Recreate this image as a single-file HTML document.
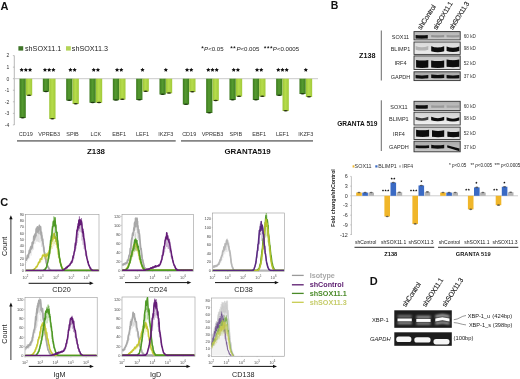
<!DOCTYPE html>
<html><head><meta charset="utf-8"><style>
html,body{margin:0;padding:0;background:#fff;width:520px;height:379px;overflow:hidden}
svg{display:block;filter:blur(0.3px)}
text{font-family:"Liberation Sans", sans-serif}
</style></head><body>
<svg width="520" height="379" viewBox="0 0 520 379">
<text x="0.40" y="9.60" font-size="11" text-anchor="start" font-weight="bold" fill="#111" >A</text>
<rect x="18.4" y="46.2" width="4.8" height="4.4" fill="#3f7528"/>
<text x="25.00" y="50.50" font-size="7.2" text-anchor="start" font-weight="normal" fill="#222" >shSOX11.1</text>
<rect x="66.0" y="46.2" width="4.8" height="4.4" fill="#b4d458"/>
<text x="71.80" y="50.50" font-size="7.2" text-anchor="start" font-weight="normal" fill="#222" >shSOX11.3</text>
<polygon points="202.50,45.95 202.93,46.81 203.88,46.95 203.19,47.62 203.35,48.57 202.50,48.12 201.65,48.57 201.81,47.62 201.12,46.95 202.07,46.81" fill="#222"/>
<text x="204.1" y="50.6" font-size="6.1" fill="#222"><tspan font-style="italic">P</tspan>&lt;0.05</text>
<polygon points="231.50,45.95 231.93,46.81 232.88,46.95 232.19,47.62 232.35,48.57 231.50,48.12 230.65,48.57 230.81,47.62 230.12,46.95 231.07,46.81" fill="#222"/>
<polygon points="234.40,45.95 234.83,46.81 235.78,46.95 235.09,47.62 235.25,48.57 234.40,48.12 233.55,48.57 233.71,47.62 233.02,46.95 233.97,46.81" fill="#222"/>
<text x="236.4" y="50.6" font-size="6.1" fill="#222"><tspan font-style="italic">P</tspan>&lt;0.005</text>
<polygon points="265.10,45.95 265.53,46.81 266.48,46.95 265.79,47.62 265.95,48.57 265.10,48.12 264.25,48.57 264.41,47.62 263.72,46.95 264.67,46.81" fill="#222"/>
<polygon points="268.20,45.95 268.63,46.81 269.58,46.95 268.89,47.62 269.05,48.57 268.20,48.12 267.35,48.57 267.51,47.62 266.82,46.95 267.77,46.81" fill="#222"/>
<polygon points="271.30,45.95 271.73,46.81 272.68,46.95 271.99,47.62 272.15,48.57 271.30,48.12 270.45,48.57 270.61,47.62 269.92,46.95 270.87,46.81" fill="#222"/>
<text x="272.8" y="50.6" font-size="6.1" fill="#222"><tspan font-style="italic">P</tspan>&lt;0.0005</text>
<line x1="14.3" y1="55.6" x2="14.3" y2="125" stroke="#999" stroke-width="0.7"/>
<line x1="12.9" y1="55.60" x2="14.3" y2="55.60" stroke="#999" stroke-width="0.6"/>
<text x="9.20" y="57.40" font-size="5" text-anchor="end" font-weight="normal" fill="#333" >2</text>
<line x1="12.9" y1="67.15" x2="14.3" y2="67.15" stroke="#999" stroke-width="0.6"/>
<text x="9.20" y="68.95" font-size="5" text-anchor="end" font-weight="normal" fill="#333" >1</text>
<line x1="12.9" y1="78.70" x2="14.3" y2="78.70" stroke="#999" stroke-width="0.6"/>
<text x="9.20" y="80.50" font-size="5" text-anchor="end" font-weight="normal" fill="#333" >0</text>
<line x1="12.9" y1="90.25" x2="14.3" y2="90.25" stroke="#999" stroke-width="0.6"/>
<text x="9.20" y="92.05" font-size="5" text-anchor="end" font-weight="normal" fill="#333" >-1</text>
<line x1="12.9" y1="101.80" x2="14.3" y2="101.80" stroke="#999" stroke-width="0.6"/>
<text x="9.20" y="103.60" font-size="5" text-anchor="end" font-weight="normal" fill="#333" >-2</text>
<line x1="12.9" y1="113.35" x2="14.3" y2="113.35" stroke="#999" stroke-width="0.6"/>
<text x="9.20" y="115.15" font-size="5" text-anchor="end" font-weight="normal" fill="#333" >-3</text>
<line x1="12.9" y1="124.90" x2="14.3" y2="124.90" stroke="#999" stroke-width="0.6"/>
<text x="9.20" y="126.70" font-size="5" text-anchor="end" font-weight="normal" fill="#333" >-4</text>
<line x1="14.3" y1="78.7" x2="318" y2="78.7" stroke="#c4c4c4" stroke-width="0.9"/>
<defs><linearGradient id="gd" x1="0" x2="1"><stop offset="0" stop-color="#3c7a1e"/><stop offset="0.45" stop-color="#559a30"/><stop offset="1" stop-color="#3f7e20"/></linearGradient><linearGradient id="gl" x1="0" x2="1"><stop offset="0" stop-color="#9cc636"/><stop offset="0.45" stop-color="#b6dc4c"/><stop offset="1" stop-color="#a2ca3a"/></linearGradient></defs>
<rect x="19.50" y="78.7" width="6.3" height="39.30" fill="url(#gd)"/>
<ellipse cx="22.65" cy="117.70" rx="2.2" ry="0.8" fill="#1e3a10"/>
<rect x="25.90" y="78.7" width="6.3" height="16.80" fill="url(#gl)"/>
<ellipse cx="29.05" cy="95.20" rx="2.2" ry="0.8" fill="#26300e"/>
<polygon points="21.65,67.65 22.31,68.99 23.79,69.20 22.72,70.25 22.97,71.72 21.65,71.03 20.33,71.72 20.58,70.25 19.51,69.20 20.99,68.99" fill="#111"/>
<polygon points="25.85,67.65 26.51,68.99 27.99,69.20 26.92,70.25 27.17,71.72 25.85,71.03 24.53,71.72 24.78,70.25 23.71,69.20 25.19,68.99" fill="#111"/>
<polygon points="30.05,67.65 30.71,68.99 32.19,69.20 31.12,70.25 31.37,71.72 30.05,71.03 28.73,71.72 28.98,70.25 27.91,69.20 29.39,68.99" fill="#111"/>
<text x="25.85" y="135.60" font-size="5.5" text-anchor="middle" font-weight="normal" fill="#333" >CD19</text>
<rect x="42.83" y="78.7" width="6.3" height="13.05" fill="url(#gd)"/>
<ellipse cx="45.98" cy="91.45" rx="2.2" ry="0.8" fill="#1e3a10"/>
<rect x="49.23" y="78.7" width="6.3" height="40.30" fill="url(#gl)"/>
<ellipse cx="52.38" cy="118.70" rx="2.2" ry="0.8" fill="#26300e"/>
<polygon points="44.98,67.65 45.64,68.99 47.12,69.20 46.05,70.25 46.30,71.72 44.98,71.03 43.66,71.72 43.91,70.25 42.84,69.20 44.32,68.99" fill="#111"/>
<polygon points="49.18,67.65 49.84,68.99 51.32,69.20 50.25,70.25 50.50,71.72 49.18,71.03 47.86,71.72 48.11,70.25 47.04,69.20 48.52,68.99" fill="#111"/>
<polygon points="53.38,67.65 54.04,68.99 55.52,69.20 54.45,70.25 54.70,71.72 53.38,71.03 52.06,71.72 52.31,70.25 51.24,69.20 52.72,68.99" fill="#111"/>
<text x="49.18" y="135.60" font-size="5.5" text-anchor="middle" font-weight="normal" fill="#333" >VPREB3</text>
<rect x="66.16" y="78.7" width="6.3" height="21.80" fill="url(#gd)"/>
<ellipse cx="69.31" cy="100.20" rx="2.2" ry="0.8" fill="#1e3a10"/>
<rect x="72.56" y="78.7" width="6.3" height="25.30" fill="url(#gl)"/>
<ellipse cx="75.71" cy="103.70" rx="2.2" ry="0.8" fill="#26300e"/>
<polygon points="70.41,67.65 71.07,68.99 72.55,69.20 71.48,70.25 71.73,71.72 70.41,71.03 69.09,71.72 69.34,70.25 68.27,69.20 69.75,68.99" fill="#111"/>
<polygon points="74.61,67.65 75.27,68.99 76.75,69.20 75.68,70.25 75.93,71.72 74.61,71.03 73.29,71.72 73.54,70.25 72.47,69.20 73.95,68.99" fill="#111"/>
<text x="72.51" y="135.60" font-size="5.5" text-anchor="middle" font-weight="normal" fill="#333" >SPIB</text>
<rect x="89.49" y="78.7" width="6.3" height="24.05" fill="url(#gd)"/>
<ellipse cx="92.64" cy="102.45" rx="2.2" ry="0.8" fill="#1e3a10"/>
<rect x="95.89" y="78.7" width="6.3" height="24.05" fill="url(#gl)"/>
<ellipse cx="99.04" cy="102.45" rx="2.2" ry="0.8" fill="#26300e"/>
<polygon points="93.74,67.65 94.40,68.99 95.88,69.20 94.81,70.25 95.06,71.72 93.74,71.03 92.42,71.72 92.67,70.25 91.60,69.20 93.08,68.99" fill="#111"/>
<polygon points="97.94,67.65 98.60,68.99 100.08,69.20 99.01,70.25 99.26,71.72 97.94,71.03 96.62,71.72 96.87,70.25 95.80,69.20 97.28,68.99" fill="#111"/>
<text x="95.84" y="135.60" font-size="5.5" text-anchor="middle" font-weight="normal" fill="#333" >LCK</text>
<rect x="112.82" y="78.7" width="6.3" height="21.55" fill="url(#gd)"/>
<ellipse cx="115.97" cy="99.95" rx="2.2" ry="0.8" fill="#1e3a10"/>
<rect x="119.22" y="78.7" width="6.3" height="20.80" fill="url(#gl)"/>
<ellipse cx="122.37" cy="99.20" rx="2.2" ry="0.8" fill="#26300e"/>
<polygon points="117.07,67.65 117.73,68.99 119.21,69.20 118.14,70.25 118.39,71.72 117.07,71.03 115.75,71.72 116.00,70.25 114.93,69.20 116.41,68.99" fill="#111"/>
<polygon points="121.27,67.65 121.93,68.99 123.41,69.20 122.34,70.25 122.59,71.72 121.27,71.03 119.95,71.72 120.20,70.25 119.13,69.20 120.61,68.99" fill="#111"/>
<text x="119.17" y="135.60" font-size="5.5" text-anchor="middle" font-weight="normal" fill="#333" >EBF1</text>
<rect x="136.15" y="78.7" width="6.3" height="21.30" fill="url(#gd)"/>
<ellipse cx="139.30" cy="99.70" rx="2.2" ry="0.8" fill="#1e3a10"/>
<rect x="142.55" y="78.7" width="6.3" height="12.80" fill="url(#gl)"/>
<ellipse cx="145.70" cy="91.20" rx="2.2" ry="0.8" fill="#26300e"/>
<polygon points="142.50,67.65 143.16,68.99 144.64,69.20 143.57,70.25 143.82,71.72 142.50,71.03 141.18,71.72 141.43,70.25 140.36,69.20 141.84,68.99" fill="#111"/>
<text x="142.50" y="135.60" font-size="5.5" text-anchor="middle" font-weight="normal" fill="#333" >LEF1</text>
<rect x="159.48" y="78.7" width="6.3" height="15.80" fill="url(#gd)"/>
<ellipse cx="162.63" cy="94.20" rx="2.2" ry="0.8" fill="#1e3a10"/>
<rect x="165.88" y="78.7" width="6.3" height="14.55" fill="url(#gl)"/>
<ellipse cx="169.03" cy="92.95" rx="2.2" ry="0.8" fill="#26300e"/>
<polygon points="165.83,67.65 166.49,68.99 167.97,69.20 166.90,70.25 167.15,71.72 165.83,71.03 164.51,71.72 164.76,70.25 163.69,69.20 165.17,68.99" fill="#111"/>
<text x="165.83" y="135.60" font-size="5.5" text-anchor="middle" font-weight="normal" fill="#333" >IKZF3</text>
<rect x="182.81" y="78.7" width="6.3" height="25.80" fill="url(#gd)"/>
<ellipse cx="185.96" cy="104.20" rx="2.2" ry="0.8" fill="#1e3a10"/>
<rect x="189.21" y="78.7" width="6.3" height="13.30" fill="url(#gl)"/>
<ellipse cx="192.36" cy="91.70" rx="2.2" ry="0.8" fill="#26300e"/>
<polygon points="187.06,67.65 187.72,68.99 189.20,69.20 188.13,70.25 188.38,71.72 187.06,71.03 185.74,71.72 185.99,70.25 184.92,69.20 186.40,68.99" fill="#111"/>
<polygon points="191.26,67.65 191.92,68.99 193.40,69.20 192.33,70.25 192.58,71.72 191.26,71.03 189.94,71.72 190.19,70.25 189.12,69.20 190.60,68.99" fill="#111"/>
<text x="189.16" y="135.60" font-size="5.5" text-anchor="middle" font-weight="normal" fill="#333" >CD19</text>
<rect x="206.14" y="78.7" width="6.3" height="34.30" fill="url(#gd)"/>
<ellipse cx="209.29" cy="112.70" rx="2.2" ry="0.8" fill="#1e3a10"/>
<rect x="212.54" y="78.7" width="6.3" height="22.05" fill="url(#gl)"/>
<ellipse cx="215.69" cy="100.45" rx="2.2" ry="0.8" fill="#26300e"/>
<polygon points="208.29,67.65 208.95,68.99 210.43,69.20 209.36,70.25 209.61,71.72 208.29,71.03 206.97,71.72 207.22,70.25 206.15,69.20 207.63,68.99" fill="#111"/>
<polygon points="212.49,67.65 213.15,68.99 214.63,69.20 213.56,70.25 213.81,71.72 212.49,71.03 211.17,71.72 211.42,70.25 210.35,69.20 211.83,68.99" fill="#111"/>
<polygon points="216.69,67.65 217.35,68.99 218.83,69.20 217.76,70.25 218.01,71.72 216.69,71.03 215.37,71.72 215.62,70.25 214.55,69.20 216.03,68.99" fill="#111"/>
<text x="212.49" y="135.60" font-size="5.5" text-anchor="middle" font-weight="normal" fill="#333" >VPREB3</text>
<rect x="229.47" y="78.7" width="6.3" height="21.30" fill="url(#gd)"/>
<ellipse cx="232.62" cy="99.70" rx="2.2" ry="0.8" fill="#1e3a10"/>
<rect x="235.87" y="78.7" width="6.3" height="17.80" fill="url(#gl)"/>
<ellipse cx="239.02" cy="96.20" rx="2.2" ry="0.8" fill="#26300e"/>
<polygon points="233.72,67.65 234.38,68.99 235.86,69.20 234.79,70.25 235.04,71.72 233.72,71.03 232.40,71.72 232.65,70.25 231.58,69.20 233.06,68.99" fill="#111"/>
<polygon points="237.92,67.65 238.58,68.99 240.06,69.20 238.99,70.25 239.24,71.72 237.92,71.03 236.60,71.72 236.85,70.25 235.78,69.20 237.26,68.99" fill="#111"/>
<text x="235.82" y="135.60" font-size="5.5" text-anchor="middle" font-weight="normal" fill="#333" >SPIB</text>
<rect x="252.80" y="78.7" width="6.3" height="21.30" fill="url(#gd)"/>
<ellipse cx="255.95" cy="99.70" rx="2.2" ry="0.8" fill="#1e3a10"/>
<rect x="259.20" y="78.7" width="6.3" height="17.80" fill="url(#gl)"/>
<ellipse cx="262.35" cy="96.20" rx="2.2" ry="0.8" fill="#26300e"/>
<polygon points="257.05,67.65 257.71,68.99 259.19,69.20 258.12,70.25 258.37,71.72 257.05,71.03 255.73,71.72 255.98,70.25 254.91,69.20 256.39,68.99" fill="#111"/>
<polygon points="261.25,67.65 261.91,68.99 263.39,69.20 262.32,70.25 262.57,71.72 261.25,71.03 259.93,71.72 260.18,70.25 259.11,69.20 260.59,68.99" fill="#111"/>
<text x="259.15" y="135.60" font-size="5.5" text-anchor="middle" font-weight="normal" fill="#333" >EBF1</text>
<rect x="276.13" y="78.7" width="6.3" height="16.80" fill="url(#gd)"/>
<ellipse cx="279.28" cy="95.20" rx="2.2" ry="0.8" fill="#1e3a10"/>
<rect x="282.53" y="78.7" width="6.3" height="32.30" fill="url(#gl)"/>
<ellipse cx="285.68" cy="110.70" rx="2.2" ry="0.8" fill="#26300e"/>
<polygon points="278.28,67.65 278.94,68.99 280.42,69.20 279.35,70.25 279.60,71.72 278.28,71.03 276.96,71.72 277.21,70.25 276.14,69.20 277.62,68.99" fill="#111"/>
<polygon points="282.48,67.65 283.14,68.99 284.62,69.20 283.55,70.25 283.80,71.72 282.48,71.03 281.16,71.72 281.41,70.25 280.34,69.20 281.82,68.99" fill="#111"/>
<polygon points="286.68,67.65 287.34,68.99 288.82,69.20 287.75,70.25 288.00,71.72 286.68,71.03 285.36,71.72 285.61,70.25 284.54,69.20 286.02,68.99" fill="#111"/>
<text x="282.48" y="135.60" font-size="5.5" text-anchor="middle" font-weight="normal" fill="#333" >LEF1</text>
<rect x="299.46" y="78.7" width="6.3" height="15.30" fill="url(#gd)"/>
<ellipse cx="302.61" cy="93.70" rx="2.2" ry="0.8" fill="#1e3a10"/>
<rect x="305.86" y="78.7" width="6.3" height="18.30" fill="url(#gl)"/>
<ellipse cx="309.01" cy="96.70" rx="2.2" ry="0.8" fill="#26300e"/>
<polygon points="305.81,67.65 306.47,68.99 307.95,69.20 306.88,70.25 307.13,71.72 305.81,71.03 304.49,71.72 304.74,70.25 303.67,69.20 305.15,68.99" fill="#111"/>
<text x="305.81" y="135.60" font-size="5.5" text-anchor="middle" font-weight="normal" fill="#333" >IKZF3</text>
<line x1="17" y1="140.9" x2="175.7" y2="140.9" stroke="#858585" stroke-width="1.8"/>
<line x1="181" y1="140.9" x2="313" y2="140.9" stroke="#858585" stroke-width="1.8"/>
<text x="96.00" y="154.10" font-size="7.9" text-anchor="middle" font-weight="bold" fill="#111" >Z138</text>
<text x="247.60" y="154.10" font-size="7.9" text-anchor="middle" font-weight="bold" fill="#111" >GRANTA519</text>
<text x="330.80" y="9.00" font-size="10.5" text-anchor="start" font-weight="bold" fill="#111" >B</text>
<text x="421.0" y="30.2" font-size="7.0" fill="#1a1a1a" stroke="#1a1a1a" stroke-width="0.12" letter-spacing="-0.25" transform="rotate(-57 421.0 30.2)">shControl</text>
<text x="436.8" y="30.3" font-size="6.9" fill="#1a1a1a" stroke="#1a1a1a" stroke-width="0.12" letter-spacing="-0.4" transform="rotate(-59 436.8 30.3)">shSOX11.1</text>
<text x="452.8" y="30.3" font-size="6.9" fill="#1a1a1a" stroke="#1a1a1a" stroke-width="0.12" letter-spacing="-0.4" transform="rotate(-58 452.8 30.3)">shSOX11.3</text>
<defs><filter id="bl1" x="-20%" y="-50%" width="140%" height="200%"><feGaussianBlur stdDeviation="0.9"/></filter><filter id="bl2" x="-20%" y="-60%" width="140%" height="220%"><feGaussianBlur stdDeviation="0.75"/></filter></defs>
<defs><linearGradient id="sg316" x1="0" y1="0" x2="0" y2="1"><stop offset="0" stop-color="#b4b4b4"/><stop offset="1" stop-color="#cdcdcd"/></linearGradient></defs>
<rect x="414" y="31.6" width="46.2" height="8.30" fill="url(#sg316)"/>
<path d="M415.60,35.10 Q421.70,35.50 427.80,35.10 L427.80,38.58 Q421.70,38.88 415.60,38.58 Z" fill="#0c0c0c" opacity="1.0" filter="url(#bl2)"/>
<path d="M431.20,35.00 Q437.70,35.40 444.20,35.00 L444.20,37.28 Q437.70,37.58 431.20,37.28 Z" fill="#8e8e8e" opacity="0.9" filter="url(#bl2)"/>
<path d="M446.60,35.00 Q452.95,35.40 459.30,35.00 L459.30,37.28 Q452.95,37.58 446.60,37.28 Z" fill="#959595" opacity="0.9" filter="url(#bl2)"/>
<rect x="414" y="31.6" width="46.2" height="8.30" fill="none" stroke="#333" stroke-width="0.9"/>
<defs><linearGradient id="sg420" x1="0" y1="0" x2="0" y2="1"><stop offset="0" stop-color="#d8d8d8"/><stop offset="1" stop-color="#ececec"/></linearGradient></defs>
<rect x="414" y="42" width="46.2" height="12.40" fill="url(#sg420)"/>
<path d="M415.60,46.00 Q421.95,48.40 428.30,46.00 L428.30,49.68 Q421.95,51.48 415.60,49.68 Z" fill="#a0a0a0" opacity="0.7" filter="url(#bl2)"/>
<path d="M431.20,46.30 Q437.70,48.90 444.20,46.30 L444.20,51.22 Q437.70,53.17 431.20,51.22 Z" fill="#0a0a0a" opacity="1.0" filter="url(#bl2)"/>
<path d="M446.60,46.40 Q452.95,49.00 459.30,46.40 L459.30,50.92 Q452.95,52.87 446.60,50.92 Z" fill="#0a0a0a" opacity="1.0" filter="url(#bl2)"/>
<rect x="414" y="42" width="46.2" height="12.40" fill="none" stroke="#333" stroke-width="0.9"/>
<defs><linearGradient id="sg559" x1="0" y1="0" x2="0" y2="1"><stop offset="0" stop-color="#c4c4c4"/><stop offset="1" stop-color="#e2e2e2"/></linearGradient></defs>
<rect x="414" y="55.9" width="46.2" height="13.60" fill="url(#sg559)"/>
<path d="M416.10,60.10 Q422.20,61.10 428.30,60.10 L428.30,67.50 Q422.20,68.25 416.10,67.50 Z" fill="#080808" opacity="1.0" filter="url(#bl2)"/>
<path d="M431.20,60.60 Q437.70,61.60 444.20,60.60 L444.20,67.60 Q437.70,68.35 431.20,67.60 Z" fill="#080808" opacity="1.0" filter="url(#bl2)"/>
<path d="M446.60,59.60 Q452.95,60.80 459.30,59.60 L459.30,66.84 Q452.95,67.74 446.60,66.84 Z" fill="#080808" opacity="1.0" filter="url(#bl2)"/>
<rect x="414" y="55.9" width="46.2" height="13.60" fill="none" stroke="#333" stroke-width="0.9"/>
<defs><linearGradient id="sg718" x1="0" y1="0" x2="0" y2="1"><stop offset="0" stop-color="#a4a4a4"/><stop offset="1" stop-color="#c4c4c4"/></linearGradient></defs>
<rect x="414" y="71.8" width="46.2" height="8.80" fill="url(#sg718)"/>
<path d="M415.60,75.00 Q421.95,75.80 428.30,75.00 L428.30,78.36 Q421.95,78.96 415.60,78.36 Z" fill="#111" opacity="1.0" filter="url(#bl2)"/>
<path d="M431.20,74.60 Q437.70,75.40 444.20,74.60 L444.20,77.96 Q437.70,78.56 431.20,77.96 Z" fill="#111" opacity="1.0" filter="url(#bl2)"/>
<path d="M446.60,75.00 Q452.95,75.80 459.30,75.00 L459.30,78.16 Q452.95,78.76 446.60,78.16 Z" fill="#111" opacity="1.0" filter="url(#bl2)"/>
<rect x="414" y="71.8" width="46.2" height="8.80" fill="none" stroke="#333" stroke-width="0.9"/>
<defs><linearGradient id="sg1013" x1="0" y1="0" x2="0" y2="1"><stop offset="0" stop-color="#b0b0b0"/><stop offset="1" stop-color="#cacaca"/></linearGradient></defs>
<rect x="414" y="101.3" width="46.2" height="9.30" fill="url(#sg1013)"/>
<path d="M415.60,105.00 Q421.70,105.60 427.80,105.00 L427.80,108.52 Q421.70,108.97 415.60,108.52 Z" fill="#0a0a0a" opacity="1.0" filter="url(#bl2)"/>
<path d="M431.20,105.20 Q437.70,105.60 444.20,105.20 L444.20,107.68 Q437.70,107.98 431.20,107.68 Z" fill="#959595" opacity="0.9" filter="url(#bl2)"/>
<path d="M446.60,105.20 Q452.95,105.60 459.30,105.20 L459.30,107.68 Q452.95,107.98 446.60,107.68 Z" fill="#a0a0a0" opacity="0.9" filter="url(#bl2)"/>
<rect x="414" y="101.3" width="46.2" height="9.30" fill="none" stroke="#333" stroke-width="0.9"/>
<defs><linearGradient id="sg1122" x1="0" y1="0" x2="0" y2="1"><stop offset="0" stop-color="#d0d0d0"/><stop offset="1" stop-color="#f2f2f2"/></linearGradient></defs>
<rect x="414" y="112.2" width="46.2" height="12.80" fill="url(#sg1122)"/>
<path d="M415.60,116.80 Q421.95,119.60 428.30,116.80 L428.30,119.76 Q421.95,121.86 415.60,119.76 Z" fill="#222" opacity="0.85" filter="url(#bl2)"/>
<path d="M431.20,116.80 Q437.70,119.60 444.20,116.80 L444.20,120.16 Q437.70,122.26 431.20,120.16 Z" fill="#080808" opacity="1.0" filter="url(#bl2)"/>
<path d="M446.60,117.30 Q452.95,120.10 459.30,117.30 L459.30,120.46 Q452.95,122.56 446.60,120.46 Z" fill="#101010" opacity="1.0" filter="url(#bl2)"/>
<rect x="414" y="112.2" width="46.2" height="12.80" fill="none" stroke="#333" stroke-width="0.9"/>
<defs><linearGradient id="sg1271" x1="0" y1="0" x2="0" y2="1"><stop offset="0" stop-color="#cfcfcf"/><stop offset="1" stop-color="#e6e6e6"/></linearGradient></defs>
<rect x="414" y="127.1" width="46.2" height="12.40" fill="url(#sg1271)"/>
<path d="M416.10,129.80 Q422.60,130.80 429.10,129.80 L429.10,136.60 Q422.60,137.35 416.10,136.60 Z" fill="#080808" opacity="1.0" filter="url(#bl2)"/>
<path d="M432.00,130.30 Q438.10,131.50 444.20,130.30 L444.20,136.74 Q438.10,137.64 432.00,136.74 Z" fill="#080808" opacity="1.0" filter="url(#bl2)"/>
<path d="M447.40,131.50 Q453.35,132.70 459.30,131.50 L459.30,136.74 Q453.35,137.64 447.40,136.74 Z" fill="#080808" opacity="1.0" filter="url(#bl2)"/>
<rect x="414" y="127.1" width="46.2" height="12.40" fill="none" stroke="#333" stroke-width="0.9"/>
<defs><linearGradient id="sg1412" x1="0" y1="0" x2="0" y2="1"><stop offset="0" stop-color="#a8a8a8"/><stop offset="1" stop-color="#c8c8c8"/></linearGradient></defs>
<rect x="414" y="141.2" width="46.2" height="10.60" fill="url(#sg1412)"/>
<path d="M415.60,145.20 Q422.35,145.80 429.10,145.20 L429.10,148.12 Q422.35,148.57 415.60,148.12 Z" fill="#111" opacity="1.0" filter="url(#bl2)"/>
<path d="M431.20,144.70 Q437.70,145.70 444.20,144.70 L444.20,148.30 Q437.70,149.05 431.20,148.30 Z" fill="#111" opacity="1.0" filter="url(#bl2)"/>
<path d="M447.2,145.2 L459.5,148.6 L459.5,151.2 L447.2,147.6 Z" fill="#111" filter="url(#bl2)"/>
<rect x="414" y="141.2" width="46.2" height="10.60" fill="none" stroke="#333" stroke-width="0.9"/>
<text x="400.50" y="39.30" font-size="5.5" text-anchor="middle" font-weight="normal" fill="#2a2a2a" >SOX11</text>
<text x="400.50" y="50.80" font-size="5.5" text-anchor="middle" font-weight="normal" fill="#2a2a2a" >BLIMP1</text>
<text x="400.50" y="65.40" font-size="5.5" text-anchor="middle" font-weight="normal" fill="#2a2a2a" >IRF4</text>
<text x="400.50" y="78.80" font-size="5.5" text-anchor="middle" font-weight="normal" fill="#2a2a2a" >GAPDH</text>
<text x="398.90" y="108.80" font-size="5.5" text-anchor="middle" font-weight="normal" fill="#2a2a2a" >SOX11</text>
<text x="398.90" y="120.90" font-size="5.5" text-anchor="middle" font-weight="normal" fill="#2a2a2a" >BLIMP1</text>
<text x="398.90" y="135.70" font-size="5.5" text-anchor="middle" font-weight="normal" fill="#2a2a2a" >IRF4</text>
<text x="398.90" y="148.70" font-size="5.5" text-anchor="middle" font-weight="normal" fill="#2a2a2a" >GAPDH</text>
<text x="463.80" y="38.30" font-size="4.6" text-anchor="start" font-weight="normal" fill="#333" >60 kD</text>
<text x="463.80" y="49.80" font-size="4.6" text-anchor="start" font-weight="normal" fill="#333" >98 kD</text>
<text x="463.80" y="64.70" font-size="4.6" text-anchor="start" font-weight="normal" fill="#333" >52 kD</text>
<text x="463.80" y="77.50" font-size="4.6" text-anchor="start" font-weight="normal" fill="#333" >37 kD</text>
<text x="463.80" y="107.50" font-size="4.6" text-anchor="start" font-weight="normal" fill="#333" >60 kD</text>
<text x="463.80" y="120.00" font-size="4.6" text-anchor="start" font-weight="normal" fill="#333" >98 kD</text>
<text x="463.80" y="135.00" font-size="4.6" text-anchor="start" font-weight="normal" fill="#333" >52 kD</text>
<text x="463.80" y="148.60" font-size="4.6" text-anchor="start" font-weight="normal" fill="#333" >37 kD</text>
<line x1="381.3" y1="30.5" x2="381.3" y2="80.5" stroke="#444" stroke-width="0.8"/>
<line x1="381.3" y1="100.3" x2="381.3" y2="151" stroke="#444" stroke-width="0.8"/>
<text x="367.30" y="58.10" font-size="7.2" text-anchor="middle" font-weight="bold" fill="#111" >Z138</text>
<text x="357.30" y="125.70" font-size="6.6" text-anchor="middle" font-weight="bold" fill="#111" >GRANTA 519</text>
<line x1="351.4" y1="176.5" x2="351.4" y2="235" stroke="#999" stroke-width="0.6"/>
<line x1="350.2" y1="176.42" x2="351.4" y2="176.42" stroke="#999" stroke-width="0.5"/>
<text x="347.80" y="178.42" font-size="5.4" text-anchor="end" font-weight="normal" fill="#333" >6</text>
<line x1="350.2" y1="186.11" x2="351.4" y2="186.11" stroke="#999" stroke-width="0.5"/>
<text x="347.80" y="188.11" font-size="5.4" text-anchor="end" font-weight="normal" fill="#333" >3</text>
<line x1="350.2" y1="195.80" x2="351.4" y2="195.80" stroke="#999" stroke-width="0.5"/>
<text x="347.80" y="197.80" font-size="5.4" text-anchor="end" font-weight="normal" fill="#333" >0</text>
<line x1="350.2" y1="205.49" x2="351.4" y2="205.49" stroke="#999" stroke-width="0.5"/>
<text x="347.80" y="207.49" font-size="5.4" text-anchor="end" font-weight="normal" fill="#333" >-3</text>
<line x1="350.2" y1="215.18" x2="351.4" y2="215.18" stroke="#999" stroke-width="0.5"/>
<text x="347.80" y="217.18" font-size="5.4" text-anchor="end" font-weight="normal" fill="#333" >-6</text>
<line x1="350.2" y1="224.87" x2="351.4" y2="224.87" stroke="#999" stroke-width="0.5"/>
<text x="347.80" y="226.87" font-size="5.4" text-anchor="end" font-weight="normal" fill="#333" >-9</text>
<line x1="350.2" y1="234.56" x2="351.4" y2="234.56" stroke="#999" stroke-width="0.5"/>
<text x="347.80" y="236.56" font-size="5.4" text-anchor="end" font-weight="normal" fill="#333" >-12</text>
<line x1="351.4" y1="195.8" x2="518" y2="195.8" stroke="#c8c8c8" stroke-width="0.9"/>
<text x="0" y="0" font-size="5.3" font-weight="bold" fill="#222" text-anchor="middle" transform="translate(334.8 198) rotate(-90)">Fold change/shControl</text>
<rect x="352.6" y="165.3" width="1.8" height="2.2" fill="#f0b62a"/>
<text x="354.60" y="168.40" font-size="5.4" text-anchor="start" font-weight="normal" fill="#333" >SOX11</text>
<rect x="375.3" y="165.3" width="2.2" height="2.2" fill="#3a6ac4"/>
<text x="378.30" y="168.40" font-size="5.2" text-anchor="start" font-weight="normal" fill="#333" >BLIMP1</text>
<rect x="399.1" y="165.3" width="1.8" height="2.2" fill="#b4b4b4"/>
<text x="402.30" y="168.40" font-size="5.0" text-anchor="start" font-weight="normal" fill="#333" >IRF4</text>
<rect x="356.20" y="192.57" width="5.6" height="3.23" fill="#f0b62a"/>
<ellipse cx="359.00" cy="192.57" rx="1.6" ry="0.8" fill="#333" opacity="0.7"/>
<rect x="362.30" y="192.57" width="5.6" height="3.23" fill="#3a6ac4"/>
<ellipse cx="365.10" cy="192.57" rx="1.6" ry="0.8" fill="#333" opacity="0.7"/>
<rect x="368.40" y="192.57" width="5.6" height="3.23" fill="#b4b4b4"/>
<ellipse cx="371.20" cy="192.57" rx="1.6" ry="0.8" fill="#333" opacity="0.7"/>
<rect x="384.40" y="195.80" width="5.6" height="20.67" fill="#f0b62a"/>
<ellipse cx="387.20" cy="216.47" rx="1.6" ry="0.8" fill="#333" opacity="0.7"/>
<rect x="390.50" y="182.56" width="5.6" height="13.24" fill="#3a6ac4"/>
<ellipse cx="393.30" cy="182.56" rx="1.6" ry="0.8" fill="#333" opacity="0.7"/>
<rect x="396.60" y="192.25" width="5.6" height="3.55" fill="#b4b4b4"/>
<ellipse cx="399.40" cy="192.25" rx="1.6" ry="0.8" fill="#333" opacity="0.7"/>
<rect x="412.40" y="195.80" width="5.6" height="28.10" fill="#f0b62a"/>
<ellipse cx="415.20" cy="223.90" rx="1.6" ry="0.8" fill="#333" opacity="0.7"/>
<rect x="418.50" y="185.46" width="5.6" height="10.34" fill="#3a6ac4"/>
<ellipse cx="421.30" cy="185.46" rx="1.6" ry="0.8" fill="#333" opacity="0.7"/>
<rect x="424.60" y="191.92" width="5.6" height="3.88" fill="#b4b4b4"/>
<ellipse cx="427.40" cy="191.92" rx="1.6" ry="0.8" fill="#333" opacity="0.7"/>
<rect x="440.20" y="192.57" width="5.6" height="3.23" fill="#f0b62a"/>
<ellipse cx="443.00" cy="192.57" rx="1.6" ry="0.8" fill="#333" opacity="0.7"/>
<rect x="446.30" y="192.57" width="5.6" height="3.23" fill="#3a6ac4"/>
<ellipse cx="449.10" cy="192.57" rx="1.6" ry="0.8" fill="#333" opacity="0.7"/>
<rect x="452.40" y="192.57" width="5.6" height="3.23" fill="#b4b4b4"/>
<ellipse cx="455.20" cy="192.57" rx="1.6" ry="0.8" fill="#333" opacity="0.7"/>
<rect x="467.90" y="195.80" width="5.6" height="13.57" fill="#f0b62a"/>
<ellipse cx="470.70" cy="209.37" rx="1.6" ry="0.8" fill="#333" opacity="0.7"/>
<rect x="474.00" y="187.40" width="5.6" height="8.40" fill="#3a6ac4"/>
<ellipse cx="476.80" cy="187.40" rx="1.6" ry="0.8" fill="#333" opacity="0.7"/>
<rect x="480.10" y="192.57" width="5.6" height="3.23" fill="#b4b4b4"/>
<ellipse cx="482.90" cy="192.57" rx="1.6" ry="0.8" fill="#333" opacity="0.7"/>
<rect x="495.70" y="195.80" width="5.6" height="9.37" fill="#f0b62a"/>
<ellipse cx="498.50" cy="205.17" rx="1.6" ry="0.8" fill="#333" opacity="0.7"/>
<rect x="501.80" y="186.76" width="5.6" height="9.04" fill="#3a6ac4"/>
<ellipse cx="504.60" cy="186.76" rx="1.6" ry="0.8" fill="#333" opacity="0.7"/>
<rect x="507.90" y="192.25" width="5.6" height="3.55" fill="#b4b4b4"/>
<ellipse cx="510.70" cy="192.25" rx="1.6" ry="0.8" fill="#333" opacity="0.7"/>
<polygon points="383.00,189.30 383.35,190.01 384.14,190.13 383.57,190.69 383.71,191.47 383.00,191.10 382.29,191.47 382.43,190.69 381.86,190.13 382.65,190.01" fill="#111"/>
<polygon points="385.60,189.30 385.95,190.01 386.74,190.13 386.17,190.69 386.31,191.47 385.60,191.10 384.89,191.47 385.03,190.69 384.46,190.13 385.25,190.01" fill="#111"/>
<polygon points="388.20,189.30 388.55,190.01 389.34,190.13 388.77,190.69 388.91,191.47 388.20,191.10 387.49,191.47 387.63,190.69 387.06,190.13 387.85,190.01" fill="#111"/>
<polygon points="391.70,177.40 392.05,178.11 392.84,178.23 392.27,178.79 392.41,179.57 391.70,179.20 390.99,179.57 391.13,178.79 390.56,178.23 391.35,178.11" fill="#111"/>
<polygon points="394.30,177.40 394.65,178.11 395.44,178.23 394.87,178.79 395.01,179.57 394.30,179.20 393.59,179.57 393.73,178.79 393.16,178.23 393.95,178.11" fill="#111"/>
<polygon points="411.00,189.30 411.35,190.01 412.14,190.13 411.57,190.69 411.71,191.47 411.00,191.10 410.29,191.47 410.43,190.69 409.86,190.13 410.65,190.01" fill="#111"/>
<polygon points="413.60,189.30 413.95,190.01 414.74,190.13 414.17,190.69 414.31,191.47 413.60,191.10 412.89,191.47 413.03,190.69 412.46,190.13 413.25,190.01" fill="#111"/>
<polygon points="416.20,189.30 416.55,190.01 417.34,190.13 416.77,190.69 416.91,191.47 416.20,191.10 415.49,191.47 415.63,190.69 415.06,190.13 415.85,190.01" fill="#111"/>
<polygon points="421.40,180.00 421.75,180.71 422.54,180.83 421.97,181.39 422.11,182.17 421.40,181.80 420.69,182.17 420.83,181.39 420.26,180.83 421.05,180.71" fill="#111"/>
<polygon points="466.20,188.50 466.55,189.21 467.34,189.33 466.77,189.89 466.91,190.67 466.20,190.30 465.49,190.67 465.63,189.89 465.06,189.33 465.85,189.21" fill="#111"/>
<polygon points="468.80,188.50 469.15,189.21 469.94,189.33 469.37,189.89 469.51,190.67 468.80,190.30 468.09,190.67 468.23,189.89 467.66,189.33 468.45,189.21" fill="#111"/>
<polygon points="476.40,181.60 476.75,182.31 477.54,182.43 476.97,182.99 477.11,183.77 476.40,183.40 475.69,183.77 475.83,182.99 475.26,182.43 476.05,182.31" fill="#111"/>
<polygon points="494.20,188.50 494.55,189.21 495.34,189.33 494.77,189.89 494.91,190.67 494.20,190.30 493.49,190.67 493.63,189.89 493.06,189.33 493.85,189.21" fill="#111"/>
<polygon points="496.80,188.50 497.15,189.21 497.94,189.33 497.37,189.89 497.51,190.67 496.80,190.30 496.09,190.67 496.23,189.89 495.66,189.33 496.45,189.21" fill="#111"/>
<polygon points="504.40,181.40 504.75,182.11 505.54,182.23 504.97,182.79 505.11,183.57 504.40,183.20 503.69,183.57 503.83,182.79 503.26,182.23 504.05,182.11" fill="#111"/>
<text x="449" y="166.6" font-size="4.6" fill="#222">* <tspan font-style="italic">p</tspan>&lt;0.05</text>
<text x="470.4" y="166.6" font-size="4.6" fill="#222">** <tspan font-style="italic">p</tspan>&lt;0.005</text>
<text x="494.4" y="166.6" font-size="4.6" fill="#222">*** <tspan font-style="italic">p</tspan>&lt;0.0005</text>
<text x="365.60" y="244.20" font-size="5.0" text-anchor="middle" font-weight="normal" fill="#222" >shControl</text>
<text x="393.70" y="244.20" font-size="5.0" text-anchor="middle" font-weight="normal" fill="#222" >shSOX11.1</text>
<text x="421.00" y="244.20" font-size="5.0" text-anchor="middle" font-weight="normal" fill="#222" >shSOX11.3</text>
<text x="449.50" y="244.20" font-size="5.0" text-anchor="middle" font-weight="normal" fill="#222" >shControl</text>
<text x="476.90" y="244.20" font-size="5.0" text-anchor="middle" font-weight="normal" fill="#222" >shSOX11.1</text>
<text x="505.00" y="244.20" font-size="5.0" text-anchor="middle" font-weight="normal" fill="#222" >shSOX11.3</text>
<line x1="354.5" y1="247.4" x2="434.2" y2="247.4" stroke="#555" stroke-width="1.1"/>
<line x1="438" y1="247.4" x2="518.3" y2="247.4" stroke="#555" stroke-width="1.1"/>
<text x="390.80" y="256.10" font-size="5.7" text-anchor="middle" font-weight="bold" fill="#111" >Z138</text>
<text x="473.20" y="256.10" font-size="5.7" text-anchor="middle" font-weight="bold" fill="#111" >GRANTA 519</text>
<text x="0.20" y="205.90" font-size="11" text-anchor="start" font-weight="bold" fill="#111" >C</text>
<line x1="10.9" y1="218.3" x2="10.9" y2="274" stroke="#222" stroke-width="0.9"/>
<polygon points="10.9,215.3 9.2,219.3 12.6,219.3" fill="#111"/>
<text x="0" y="0" font-size="7.2" fill="#222" text-anchor="middle" transform="translate(7.0 246.4) rotate(-90)">Count</text>
<line x1="10.9" y1="305.5" x2="10.9" y2="360" stroke="#222" stroke-width="0.9"/>
<polygon points="10.9,302.5 9.2,306.5 12.6,306.5" fill="#111"/>
<text x="0" y="0" font-size="7.2" fill="#222" text-anchor="middle" transform="translate(7.0 334.09999999999997) rotate(-90)">Count</text>
<rect x="25.5" y="214.3" width="73.5" height="56.89999999999998" fill="#fff" stroke="#9a9a9a" stroke-width="0.6"/>
<text x="24.00" y="272.10" font-size="3.9" text-anchor="end" font-weight="normal" fill="#444" >0</text>
<line x1="24.7" y1="270.70" x2="25.5" y2="270.70" stroke="#999" stroke-width="0.4"/>
<text x="24.00" y="265.87" font-size="3.9" text-anchor="end" font-weight="normal" fill="#444" >10</text>
<line x1="24.7" y1="264.47" x2="25.5" y2="264.47" stroke="#999" stroke-width="0.4"/>
<text x="24.00" y="259.63" font-size="3.9" text-anchor="end" font-weight="normal" fill="#444" >20</text>
<line x1="24.7" y1="258.23" x2="25.5" y2="258.23" stroke="#999" stroke-width="0.4"/>
<text x="24.00" y="253.40" font-size="3.9" text-anchor="end" font-weight="normal" fill="#444" >30</text>
<line x1="24.7" y1="252.00" x2="25.5" y2="252.00" stroke="#999" stroke-width="0.4"/>
<text x="24.00" y="247.17" font-size="3.9" text-anchor="end" font-weight="normal" fill="#444" >40</text>
<line x1="24.7" y1="245.77" x2="25.5" y2="245.77" stroke="#999" stroke-width="0.4"/>
<text x="24.00" y="240.93" font-size="3.9" text-anchor="end" font-weight="normal" fill="#444" >50</text>
<line x1="24.7" y1="239.53" x2="25.5" y2="239.53" stroke="#999" stroke-width="0.4"/>
<text x="24.00" y="234.70" font-size="3.9" text-anchor="end" font-weight="normal" fill="#444" >60</text>
<line x1="24.7" y1="233.30" x2="25.5" y2="233.30" stroke="#999" stroke-width="0.4"/>
<text x="24.00" y="228.47" font-size="3.9" text-anchor="end" font-weight="normal" fill="#444" >70</text>
<line x1="24.7" y1="227.07" x2="25.5" y2="227.07" stroke="#999" stroke-width="0.4"/>
<text x="24.00" y="222.23" font-size="3.9" text-anchor="end" font-weight="normal" fill="#444" >80</text>
<line x1="24.7" y1="220.83" x2="25.5" y2="220.83" stroke="#999" stroke-width="0.4"/>
<text x="24.00" y="216.00" font-size="3.9" text-anchor="end" font-weight="normal" fill="#444" >90</text>
<line x1="24.7" y1="214.60" x2="25.5" y2="214.60" stroke="#999" stroke-width="0.4"/>
<text x="22.40" y="278.60" font-size="3.9" fill="#555">10<tspan font-size="2.8" dy="-1.5">2</tspan></text>
<line x1="25.50" y1="271.2" x2="25.50" y2="272.0" stroke="#999" stroke-width="0.4"/>
<text x="37.70" y="278.60" font-size="3.9" fill="#555">10<tspan font-size="2.8" dy="-1.5">3</tspan></text>
<line x1="40.80" y1="271.2" x2="40.80" y2="272.0" stroke="#999" stroke-width="0.4"/>
<text x="53.00" y="278.60" font-size="3.9" fill="#555">10<tspan font-size="2.8" dy="-1.5">4</tspan></text>
<line x1="56.10" y1="271.2" x2="56.10" y2="272.0" stroke="#999" stroke-width="0.4"/>
<text x="68.30" y="278.60" font-size="3.9" fill="#555">10<tspan font-size="2.8" dy="-1.5">5</tspan></text>
<line x1="71.40" y1="271.2" x2="71.40" y2="272.0" stroke="#999" stroke-width="0.4"/>
<text x="83.60" y="278.60" font-size="3.9" fill="#555">10<tspan font-size="2.8" dy="-1.5">6</tspan></text>
<line x1="86.70" y1="271.2" x2="86.70" y2="272.0" stroke="#999" stroke-width="0.4"/>
<defs><clipPath id="cp25_214"><rect x="25.5" y="214.3" width="73.5" height="56.90"/></clipPath></defs>
<g clip-path="url(#cp25_214)">
<polyline points="25.8,263.4 26.1,262.4 26.3,262.7 26.6,262.1 26.8,261.8 27.1,261.7 27.3,261.6 27.6,259.6 27.8,258.6 28.1,259.1 28.3,259.2 28.6,256.6 28.8,256.1 29.1,253.9 29.3,257.2 29.6,258.4 29.8,253.8 30.1,251.7 30.3,251.4 30.6,252.4 30.8,250.8 31.1,255.6 31.3,247.6 31.6,249.0 31.8,246.6 32.0,250.7 32.3,251.2 32.5,244.9 32.8,243.0 33.0,246.2 33.3,246.8 33.5,249.7 33.8,239.5 34.0,239.5 34.3,239.6 34.5,239.2 34.8,238.7 35.0,244.0 35.3,241.9 35.5,236.6 35.8,235.4 36.0,236.1 36.3,234.1 36.5,241.6 36.8,235.0 37.0,237.9 37.3,241.4 37.5,236.3 37.8,232.8 38.0,241.7 38.3,242.0 38.5,233.3 38.8,236.3 39.0,242.3 39.3,235.2 39.5,231.4 39.8,229.1 40.0,242.7 40.3,240.9 40.5,235.5 40.8,238.3 41.0,238.9 41.3,236.7 41.5,246.9 41.8,243.7 42.0,239.8 42.3,238.6 42.5,245.1 42.8,245.4 43.0,250.9 43.3,251.3 43.5,251.6 43.8,249.3 44.0,250.8 44.3,253.4 44.5,254.3 44.8,259.2 45.0,258.3 45.3,259.9 45.5,262.5 45.8,260.4 46.0,262.3 46.3,262.0 46.5,264.7 46.8,263.3 47.0,266.0 47.3,266.6 47.5,267.1 47.8,266.4 48.0,267.2 48.3,268.2 48.5,267.9 48.8,268.6 49.0,268.9 49.3,270.4 49.5,270.4 49.8,270.4 50.0,270.4 50.3,270.4 50.5,270.4 50.8,270.4 51.0,270.4 51.3,270.4 51.5,270.4 51.8,270.4 52.0,270.4 52.3,270.4 52.5,270.4 52.8,270.4 53.0,270.4 53.3,270.4 53.5,270.4 53.8,270.4 54.0,270.4 54.3,270.4 54.5,270.4 54.8,270.4 55.0,270.4 55.3,270.4 55.5,270.4 55.8,270.4 56.0,270.4 56.3,270.4 56.5,270.4 56.8,270.4 57.0,270.4 57.3,270.4 57.5,270.4 57.8,270.4 58.0,270.4 58.3,270.4 58.5,270.4 58.8,270.4 59.0,270.4 59.3,270.4 59.5,270.4 59.8,270.4 60.0,270.4 60.3,270.4 60.5,270.4 60.8,270.4 61.0,270.4 61.3,270.4 61.5,270.4 61.8,270.4 62.0,270.4 62.3,270.4 62.5,270.4 62.8,270.4 63.0,270.4 63.3,270.4 63.5,270.4 63.8,270.4 64.0,270.4 64.3,270.4 64.5,270.4 64.8,270.4 65.0,270.4 65.3,270.4 65.5,270.4 65.8,270.4 66.0,270.4 66.3,270.4 66.5,270.4 66.8,270.4 67.0,270.4 67.3,270.4 67.5,270.4 67.8,270.4 68.0,270.4 68.3,270.4 68.5,270.4 68.8,270.4 69.0,270.4 69.3,270.4 69.5,270.4 69.8,270.4 70.0,270.4 70.3,270.4 70.5,270.4 70.8,270.4 71.0,270.4 71.3,270.4 71.5,270.4 71.8,270.4 72.0,270.4 72.3,270.4 72.5,270.4 72.8,270.4 73.0,270.4 73.3,270.4 73.5,270.4 73.8,270.4 74.0,270.4 74.3,270.4 74.5,270.4 74.8,270.4 75.0,270.4 75.3,270.4 75.5,270.4 75.8,270.4 76.0,270.4 76.3,270.4 76.5,270.4 76.8,270.4 77.0,270.4 77.3,270.4 77.5,270.4 77.8,270.4 78.0,270.4 78.3,270.4 78.5,270.4 78.8,270.4 79.0,270.4 79.3,270.4 79.5,270.4 79.8,270.4 80.0,270.4 80.3,270.4 80.5,270.4 80.8,270.4 81.0,270.4 81.3,270.4 81.5,270.4 81.8,270.4 82.0,270.4 82.3,270.4 82.5,270.4 82.8,270.4 83.0,270.4 83.3,270.4 83.5,270.4 83.8,270.4 84.0,270.4 84.3,270.4 84.5,270.4 84.8,270.4 85.0,270.4 85.3,270.4 85.5,270.4 85.8,270.4 86.0,270.4 86.3,270.4 86.5,270.4 86.8,270.4 87.0,270.4 87.3,270.4 87.5,270.4 87.8,270.4 88.0,270.4 88.3,270.4 88.5,270.4 88.8,270.4 89.0,270.4 89.3,270.4 89.5,270.4 89.8,270.4 90.0,270.4 90.3,270.4 90.5,270.4 90.8,270.4 91.0,270.4 91.3,270.4 91.5,270.4 91.8,270.4 92.0,270.4 92.3,270.4 92.5,270.4 92.8,270.4 93.0,270.4 93.3,270.4 93.5,270.4 93.8,270.4 94.0,270.4 94.3,270.4 94.5,270.4 94.8,270.4 95.0,270.4 95.3,270.4 95.5,270.4 95.8,270.4 96.0,270.4 96.3,270.4 96.5,270.4 96.8,270.4 97.0,270.4 97.3,270.4 97.5,270.4 97.8,270.4 98.0,270.4 98.3,270.4 98.5,270.4" fill="none" stroke="#a9a9a9" stroke-width="0.3" opacity="0.55"/>
<polyline points="25.8,260.8 26.2,259.7 26.6,258.4 27.0,258.6 27.4,255.4 27.8,257.6 28.2,256.4 28.6,254.2 29.0,253.3 29.4,250.4 29.8,252.4 30.2,249.6 30.6,247.3 31.0,246.6 31.4,248.8 31.8,247.9 32.2,246.7 32.6,242.2 33.0,243.4 33.4,242.8 33.8,236.4 34.2,239.9 34.6,238.7 35.0,234.0 35.4,237.0 35.8,234.2 36.2,231.4 36.6,228.1 37.0,228.4 37.4,226.9 37.8,232.3 38.2,230.3 38.6,230.8 39.0,227.6 39.4,225.4 39.8,229.5 40.2,229.2 40.6,226.9 41.0,235.0 41.4,232.0 41.8,235.8 42.2,240.6 42.6,239.1 43.0,243.7 43.4,245.8 43.8,247.9 44.2,252.2 44.6,252.7 45.0,255.4 45.4,258.7 45.8,259.2 46.2,262.3 46.6,263.7 47.0,264.0 47.4,265.9 47.8,266.4 48.2,267.6 48.6,267.6 49.0,269.0 49.4,269.2 49.8,269.6 50.2,270.4 50.6,269.9 51.0,270.4 51.4,270.4 51.8,270.4 52.2,270.4 52.6,270.4 53.0,270.4 53.4,270.4 53.8,270.4 54.2,270.4 54.6,270.4 55.0,270.4 55.4,270.4 55.8,270.4 56.2,270.4 56.6,270.4 57.0,270.4 57.4,270.4 57.8,270.4 58.2,270.4 58.6,270.4 59.0,270.4 59.4,270.4 59.8,270.4 60.2,270.4 60.6,270.4 61.0,270.4 61.4,270.4 61.8,270.4 62.2,270.4 62.6,270.4 63.0,270.4 63.4,270.4 63.8,270.4 64.2,270.4 64.6,270.4 65.0,270.4 65.4,270.4 65.8,270.4 66.2,270.4 66.6,270.4 67.0,270.4 67.4,270.4 67.8,270.4 68.2,270.4 68.6,270.4 69.0,270.4 69.4,270.4 69.8,270.4 70.2,270.4 70.6,270.4 71.0,270.4 71.4,270.4 71.8,270.4 72.2,270.4 72.6,270.4 73.0,270.4 73.4,270.4 73.8,270.4 74.2,270.4 74.6,270.4 75.0,270.4 75.4,270.4 75.8,270.4 76.2,270.4 76.6,270.4 77.0,270.4 77.4,270.4 77.8,270.4 78.2,270.4 78.6,270.4 79.0,270.4 79.4,270.4 79.8,270.4 80.2,270.4 80.6,270.4 81.0,270.4 81.4,270.4 81.8,270.4 82.2,270.4 82.6,270.4 83.0,270.4 83.4,270.4 83.8,270.4 84.2,270.4 84.6,270.4 85.0,270.4 85.4,270.4 85.8,270.4 86.2,270.4 86.6,270.4 87.0,270.4 87.4,270.4 87.8,270.4 88.2,270.4 88.6,270.4 89.0,270.4 89.4,270.4 89.8,270.4 90.2,270.4 90.6,270.4 91.0,270.4 91.4,270.4 91.8,270.4 92.2,270.4 92.6,270.4 93.0,270.4 93.4,270.4 93.8,270.4 94.2,270.4 94.6,270.4 95.0,270.4 95.4,270.4 95.8,270.4 96.2,270.4 96.6,270.4 97.0,270.4 97.4,270.4 97.8,270.4 98.2,270.4 98.6,270.4" fill="none" stroke="#a9a9a9" stroke-width="1.7" stroke-linejoin="round" opacity="1.0"/>
<polyline points="25.8,259.7 26.2,260.7 26.6,260.6 27.0,258.2 27.4,256.3 27.8,256.9 28.2,257.3 28.6,254.0 29.0,254.0 29.4,250.4 29.8,253.4 30.2,248.8 30.6,252.8 31.0,245.5 31.4,245.7 31.8,242.3 32.2,248.2 32.6,243.0 33.0,244.6 33.4,243.4 33.8,240.3 34.2,234.7 34.6,239.8 35.0,238.2 35.4,236.7 35.8,228.7 36.2,236.2 36.6,234.6 37.0,233.0 37.4,231.4 37.8,231.8 38.2,228.1 38.6,233.9 39.0,227.4 39.4,234.3 39.8,232.6 40.2,230.2 40.6,228.3 41.0,236.3 41.4,238.3 41.8,236.7 42.2,235.4 42.6,237.5 43.0,239.5 43.4,243.2 43.8,247.6 44.2,247.5 44.6,252.0 45.0,256.8 45.4,258.2 45.8,258.5 46.2,261.5 46.6,261.8 47.0,264.3 47.4,264.3 47.8,266.8 48.2,266.5 48.6,268.9 49.0,269.1 49.4,268.7 49.8,270.4 50.2,269.8 50.6,270.4 51.0,270.4 51.4,270.4 51.8,270.4 52.2,270.4 52.6,270.4 53.0,270.4 53.4,270.4 53.8,270.4 54.2,270.4 54.6,270.4 55.0,270.4 55.4,270.4 55.8,270.4 56.2,270.4 56.6,270.4 57.0,270.4 57.4,270.4 57.8,270.4 58.2,270.4 58.6,270.4 59.0,270.4 59.4,270.4 59.8,270.4 60.2,270.4 60.6,270.4 61.0,270.4 61.4,270.4 61.8,270.4 62.2,270.4 62.6,270.4 63.0,270.4 63.4,270.4 63.8,270.4 64.2,270.4 64.6,270.4 65.0,270.4 65.4,270.4 65.8,270.4 66.2,270.4 66.6,270.4 67.0,270.4 67.4,270.4 67.8,270.4 68.2,270.4 68.6,270.4 69.0,270.4 69.4,270.4 69.8,270.4 70.2,270.4 70.6,270.4 71.0,270.4 71.4,270.4 71.8,270.4 72.2,270.4 72.6,270.4 73.0,270.4 73.4,270.4 73.8,270.4 74.2,270.4 74.6,270.4 75.0,270.4 75.4,270.4 75.8,270.4 76.2,270.4 76.6,270.4 77.0,270.4 77.4,270.4 77.8,270.4 78.2,270.4 78.6,270.4 79.0,270.4 79.4,270.4 79.8,270.4 80.2,270.4 80.6,270.4 81.0,270.4 81.4,270.4 81.8,270.4 82.2,270.4 82.6,270.4 83.0,270.4 83.4,270.4 83.8,270.4 84.2,270.4 84.6,270.4 85.0,270.4 85.4,270.4 85.8,270.4 86.2,270.4 86.6,270.4 87.0,270.4 87.4,270.4 87.8,270.4 88.2,270.4 88.6,270.4 89.0,270.4 89.4,270.4 89.8,270.4 90.2,270.4 90.6,270.4 91.0,270.4 91.4,270.4 91.8,270.4 92.2,270.4 92.6,270.4 93.0,270.4 93.4,270.4 93.8,270.4 94.2,270.4 94.6,270.4 95.0,270.4 95.4,270.4 95.8,270.4 96.2,270.4 96.6,270.4 97.0,270.4 97.4,270.4 97.8,270.4 98.2,270.4 98.6,270.4" fill="none" stroke="#a9a9a9" stroke-width="0.6" stroke-linejoin="round" opacity="0.70"/>
<polyline points="25.8,270.4 26.1,270.4 26.3,270.4 26.6,270.4 26.8,270.4 27.1,270.4 27.3,270.4 27.6,270.4 27.8,270.4 28.1,270.4 28.3,270.4 28.6,270.4 28.8,270.4 29.1,270.4 29.3,270.4 29.6,270.4 29.8,270.4 30.1,270.4 30.3,270.4 30.6,270.4 30.8,270.4 31.1,270.4 31.3,270.4 31.6,270.4 31.8,270.4 32.0,270.4 32.3,270.4 32.5,270.4 32.8,270.4 33.0,270.4 33.3,270.4 33.5,270.4 33.8,270.4 34.0,270.4 34.3,270.4 34.5,269.1 34.8,269.1 35.0,268.9 35.3,268.7 35.5,268.1 35.8,268.3 36.0,268.2 36.3,267.8 36.5,267.9 36.8,266.2 37.0,267.3 37.3,266.0 37.5,266.3 37.8,265.0 38.0,266.1 38.3,263.6 38.5,264.6 38.8,263.2 39.0,263.3 39.3,262.8 39.5,263.3 39.8,263.5 40.0,261.5 40.3,262.2 40.5,260.7 40.8,260.0 41.0,262.3 41.3,259.4 41.5,258.1 41.8,258.8 42.0,260.5 42.3,257.6 42.5,260.0 42.8,258.8 43.0,259.3 43.3,256.4 43.5,255.8 43.8,255.8 44.0,256.9 44.3,257.3 44.5,255.0 44.8,257.7 45.0,257.2 45.3,256.8 45.5,258.1 45.8,260.4 46.0,256.4 46.3,260.0 46.5,257.0 46.8,259.3 47.0,255.6 47.3,260.3 47.5,257.0 47.8,259.7 48.0,255.0 48.3,255.7 48.5,257.1 48.8,253.1 49.0,253.0 49.3,255.2 49.5,256.5 49.8,251.1 50.0,249.1 50.3,249.7 50.5,254.4 50.8,246.0 51.0,249.7 51.3,246.4 51.5,248.3 51.8,243.1 52.0,246.6 52.3,249.0 52.5,248.1 52.8,245.1 53.0,243.2 53.3,243.5 53.5,237.7 53.8,246.2 54.0,244.3 54.3,241.3 54.5,243.9 54.8,241.1 55.0,241.0 55.3,239.6 55.5,244.5 55.8,244.8 56.0,244.9 56.3,240.7 56.5,247.9 56.8,247.1 57.0,249.6 57.3,250.7 57.5,254.7 57.8,249.5 58.0,253.2 58.3,258.0 58.5,257.4 58.8,256.0 59.0,259.4 59.3,261.7 59.5,259.9 59.8,262.8 60.0,261.0 60.3,264.7 60.5,264.0 60.8,264.1 61.0,266.2 61.3,266.4 61.5,267.4 61.8,267.7 62.0,268.1 62.3,268.1 62.5,268.9 62.8,268.5 63.0,269.3 63.3,270.4 63.5,270.4 63.8,270.4 64.0,270.4 64.3,270.4 64.5,270.4 64.8,270.4 65.0,270.4 65.3,270.4 65.5,270.4 65.8,270.4 66.0,270.4 66.3,270.4 66.5,270.4 66.8,270.4 67.0,270.4 67.3,270.4 67.5,270.4 67.8,270.4 68.0,270.4 68.3,270.4 68.5,270.4 68.8,270.4 69.0,270.4 69.3,270.4 69.5,270.4 69.8,270.4 70.0,270.4 70.3,270.4 70.5,270.4 70.8,270.4 71.0,270.4 71.3,270.4 71.5,270.4 71.8,270.4 72.0,270.4 72.3,270.4 72.5,270.4 72.8,270.4 73.0,270.4 73.3,270.4 73.5,270.4 73.8,270.4 74.0,270.4 74.3,270.4 74.5,270.4 74.8,270.4 75.0,270.4 75.3,270.4 75.5,270.4 75.8,270.4 76.0,270.4 76.3,270.4 76.5,270.4 76.8,270.4 77.0,270.4 77.3,270.4 77.5,270.4 77.8,270.4 78.0,270.4 78.3,270.4 78.5,270.4 78.8,270.4 79.0,270.4 79.3,270.4 79.5,270.4 79.8,270.4 80.0,270.4 80.3,270.4 80.5,270.4 80.8,270.4 81.0,270.4 81.3,270.4 81.5,270.4 81.8,270.4 82.0,270.4 82.3,270.4 82.5,270.4 82.8,270.4 83.0,270.4 83.3,270.4 83.5,270.4 83.8,270.4 84.0,270.4 84.3,270.4 84.5,270.4 84.8,270.4 85.0,270.4 85.3,270.4 85.5,270.4 85.8,270.4 86.0,270.4 86.3,270.4 86.5,270.4 86.8,270.4 87.0,270.4 87.3,270.4 87.5,270.4 87.8,270.4 88.0,270.4 88.3,270.4 88.5,270.4 88.8,270.4 89.0,270.4 89.3,270.4 89.5,270.4 89.8,270.4 90.0,270.4 90.3,270.4 90.5,270.4 90.8,270.4 91.0,270.4 91.3,270.4 91.5,270.4 91.8,270.4 92.0,270.4 92.3,270.4 92.5,270.4 92.8,270.4 93.0,270.4 93.3,270.4 93.5,270.4 93.8,270.4 94.0,270.4 94.3,270.4 94.5,270.4 94.8,270.4 95.0,270.4 95.3,270.4 95.5,270.4 95.8,270.4 96.0,270.4 96.3,270.4 96.5,270.4 96.8,270.4 97.0,270.4 97.3,270.4 97.5,270.4 97.8,270.4 98.0,270.4 98.3,270.4 98.5,270.4" fill="none" stroke="#c6c832" stroke-width="0.3" opacity="0.55"/>
<polyline points="25.8,270.4 26.2,270.4 26.6,270.4 27.0,270.4 27.4,270.4 27.8,270.4 28.2,270.4 28.6,270.4 29.0,270.4 29.4,270.4 29.8,270.4 30.2,270.4 30.6,270.4 31.0,270.4 31.4,270.4 31.8,270.4 32.2,270.4 32.6,270.4 33.0,269.9 33.4,270.0 33.8,269.4 34.2,269.2 34.6,268.9 35.0,268.3 35.4,268.1 35.8,267.8 36.2,266.9 36.6,266.4 37.0,266.6 37.4,265.1 37.8,264.6 38.2,263.9 38.6,262.2 39.0,262.7 39.4,262.1 39.8,261.3 40.2,258.9 40.6,258.9 41.0,258.6 41.4,259.1 41.8,257.7 42.2,257.1 42.6,255.2 43.0,255.5 43.4,255.2 43.8,255.7 44.2,255.1 44.6,256.1 45.0,254.5 45.4,255.6 45.8,255.6 46.2,255.8 46.6,256.7 47.0,254.5 47.4,255.5 47.8,255.3 48.2,252.8 48.6,253.8 49.0,252.1 49.4,251.6 49.8,246.7 50.2,247.8 50.6,244.4 51.0,241.9 51.4,243.8 51.8,240.2 52.2,239.0 52.6,239.4 53.0,236.7 53.4,235.6 53.8,233.9 54.2,233.3 54.6,238.2 55.0,236.8 55.4,238.6 55.8,237.4 56.2,241.5 56.6,242.0 57.0,244.4 57.4,246.8 57.8,248.3 58.2,249.7 58.6,253.2 59.0,254.5 59.4,258.3 59.8,259.3 60.2,262.3 60.6,263.2 61.0,264.6 61.4,265.7 61.8,267.3 62.2,267.7 62.6,268.8 63.0,268.6 63.4,269.8 63.8,269.6 64.2,269.9 64.6,270.4 65.0,270.4 65.4,270.4 65.8,270.4 66.2,270.4 66.6,270.4 67.0,270.4 67.4,270.4 67.8,270.4 68.2,270.4 68.6,270.4 69.0,270.4 69.4,270.4 69.8,270.4 70.2,270.4 70.6,270.4 71.0,270.4 71.4,270.4 71.8,270.4 72.2,270.4 72.6,270.4 73.0,270.4 73.4,270.4 73.8,270.4 74.2,270.4 74.6,270.4 75.0,270.4 75.4,270.4 75.8,270.4 76.2,270.4 76.6,270.4 77.0,270.4 77.4,270.4 77.8,270.4 78.2,270.4 78.6,270.4 79.0,270.4 79.4,270.4 79.8,270.4 80.2,270.4 80.6,270.4 81.0,270.4 81.4,270.4 81.8,270.4 82.2,270.4 82.6,270.4 83.0,270.4 83.4,270.4 83.8,270.4 84.2,270.4 84.6,270.4 85.0,270.4 85.4,270.4 85.8,270.4 86.2,270.4 86.6,270.4 87.0,270.4 87.4,270.4 87.8,270.4 88.2,270.4 88.6,270.4 89.0,270.4 89.4,270.4 89.8,270.4 90.2,270.4 90.6,270.4 91.0,270.4 91.4,270.4 91.8,270.4 92.2,270.4 92.6,270.4 93.0,270.4 93.4,270.4 93.8,270.4 94.2,270.4 94.6,270.4 95.0,270.4 95.4,270.4 95.8,270.4 96.2,270.4 96.6,270.4 97.0,270.4 97.4,270.4 97.8,270.4 98.2,270.4 98.6,270.4" fill="none" stroke="#c6c832" stroke-width="1.5" stroke-linejoin="round" opacity="1.0"/>
<polyline points="25.8,270.4 26.2,270.4 26.6,270.4 27.0,270.4 27.4,270.4 27.8,270.4 28.2,270.4 28.6,270.4 29.0,270.4 29.4,270.4 29.8,270.4 30.2,270.4 30.6,270.4 31.0,270.4 31.4,270.4 31.8,270.4 32.2,270.4 32.6,270.2 33.0,269.4 33.4,270.4 33.8,268.9 34.2,269.8 34.6,269.4 35.0,268.2 35.4,267.8 35.8,267.6 36.2,266.4 36.6,267.1 37.0,265.6 37.4,265.7 37.8,264.6 38.2,264.3 38.6,262.4 39.0,262.2 39.4,261.5 39.8,262.8 40.2,260.1 40.6,259.7 41.0,259.8 41.4,258.5 41.8,257.6 42.2,257.0 42.6,256.8 43.0,254.6 43.4,253.6 43.8,254.4 44.2,254.8 44.6,253.5 45.0,254.6 45.4,257.0 45.8,257.0 46.2,256.6 46.6,253.0 47.0,255.1 47.4,254.0 47.8,256.0 48.2,255.2 48.6,250.3 49.0,252.0 49.4,251.4 49.8,249.6 50.2,245.4 50.6,246.6 51.0,246.1 51.4,246.8 51.8,237.3 52.2,237.4 52.6,241.4 53.0,241.0 53.4,237.8 53.8,239.2 54.2,237.9 54.6,236.6 55.0,236.0 55.4,241.5 55.8,240.4 56.2,237.0 56.6,242.1 57.0,243.4 57.4,244.4 57.8,247.5 58.2,250.1 58.6,253.1 59.0,256.7 59.4,258.5 59.8,258.8 60.2,262.7 60.6,263.0 61.0,264.3 61.4,266.5 61.8,266.6 62.2,267.4 62.6,268.3 63.0,269.4 63.4,270.1 63.8,270.4 64.2,270.4 64.6,270.4 65.0,270.4 65.4,270.4 65.8,270.4 66.2,270.4 66.6,270.4 67.0,270.4 67.4,270.4 67.8,270.4 68.2,270.4 68.6,270.4 69.0,270.4 69.4,270.4 69.8,270.4 70.2,270.4 70.6,270.4 71.0,270.4 71.4,270.4 71.8,270.4 72.2,270.4 72.6,270.4 73.0,270.4 73.4,270.4 73.8,270.4 74.2,270.4 74.6,270.4 75.0,270.4 75.4,270.4 75.8,270.4 76.2,270.4 76.6,270.4 77.0,270.4 77.4,270.4 77.8,270.4 78.2,270.4 78.6,270.4 79.0,270.4 79.4,270.4 79.8,270.4 80.2,270.4 80.6,270.4 81.0,270.4 81.4,270.4 81.8,270.4 82.2,270.4 82.6,270.4 83.0,270.4 83.4,270.4 83.8,270.4 84.2,270.4 84.6,270.4 85.0,270.4 85.4,270.4 85.8,270.4 86.2,270.4 86.6,270.4 87.0,270.4 87.4,270.4 87.8,270.4 88.2,270.4 88.6,270.4 89.0,270.4 89.4,270.4 89.8,270.4 90.2,270.4 90.6,270.4 91.0,270.4 91.4,270.4 91.8,270.4 92.2,270.4 92.6,270.4 93.0,270.4 93.4,270.4 93.8,270.4 94.2,270.4 94.6,270.4 95.0,270.4 95.4,270.4 95.8,270.4 96.2,270.4 96.6,270.4 97.0,270.4 97.4,270.4 97.8,270.4 98.2,270.4 98.6,270.4" fill="none" stroke="#c6c832" stroke-width="0.6" stroke-linejoin="round" opacity="0.70"/>
<polyline points="25.8,270.4 26.1,270.4 26.3,270.4 26.6,270.4 26.8,270.4 27.1,270.4 27.3,270.4 27.6,270.4 27.8,270.4 28.1,270.4 28.3,270.4 28.6,270.4 28.8,270.4 29.1,270.4 29.3,270.4 29.6,270.4 29.8,270.4 30.1,270.4 30.3,270.4 30.6,270.4 30.8,270.4 31.1,270.4 31.3,270.4 31.6,270.4 31.8,270.4 32.0,270.4 32.3,270.4 32.5,270.4 32.8,270.4 33.0,270.4 33.3,270.4 33.5,270.4 33.8,270.4 34.0,270.4 34.3,270.4 34.5,270.4 34.8,270.4 35.0,270.4 35.3,270.4 35.5,270.4 35.8,270.4 36.0,270.4 36.3,270.4 36.5,270.4 36.8,270.4 37.0,270.4 37.3,270.4 37.5,270.4 37.8,270.4 38.0,270.4 38.3,270.4 38.5,270.4 38.8,270.4 39.0,270.4 39.3,270.4 39.5,270.4 39.8,270.4 40.0,270.4 40.3,270.4 40.5,270.4 40.8,270.4 41.0,270.4 41.3,270.4 41.5,270.4 41.8,270.4 42.0,270.4 42.3,270.4 42.5,270.4 42.8,270.4 43.0,270.4 43.3,270.4 43.5,270.4 43.8,270.4 44.0,270.4 44.3,270.4 44.5,270.4 44.8,270.4 45.0,270.4 45.3,269.1 45.5,268.3 45.8,268.5 46.0,267.5 46.3,268.1 46.5,267.5 46.8,266.0 47.0,264.9 47.3,265.3 47.5,264.8 47.8,264.7 48.0,262.5 48.3,259.4 48.5,260.8 48.8,256.2 49.0,259.3 49.3,257.4 49.5,256.2 49.8,255.5 50.0,251.6 50.3,253.4 50.5,249.0 50.8,245.9 51.0,242.9 51.3,240.8 51.5,234.8 51.8,234.7 52.0,241.9 52.3,232.3 52.5,237.3 52.8,238.0 53.0,235.8 53.3,232.0 53.5,227.9 53.8,226.6 54.0,224.7 54.3,232.5 54.5,233.2 54.8,237.8 55.0,227.8 55.3,238.6 55.5,239.1 55.8,230.3 56.0,241.8 56.3,238.2 56.5,244.5 56.8,243.5 57.0,239.7 57.3,241.1 57.5,245.8 57.8,247.4 58.0,245.2 58.3,254.3 58.5,253.4 58.8,254.7 59.0,258.0 59.3,256.7 59.5,258.1 59.8,261.2 60.0,261.2 60.3,262.7 60.5,263.1 60.8,264.1 61.0,265.7 61.3,266.8 61.5,268.0 61.8,268.1 62.0,268.3 62.3,268.7 62.5,270.4 62.8,270.4 63.0,270.4 63.3,270.4 63.5,270.4 63.8,270.4 64.0,270.4 64.3,270.4 64.5,270.4 64.8,270.4 65.0,270.4 65.3,270.4 65.5,270.4 65.8,270.4 66.0,270.4 66.3,270.4 66.5,270.4 66.8,270.4 67.0,270.4 67.3,270.4 67.5,270.4 67.8,270.4 68.0,270.4 68.3,270.4 68.5,270.4 68.8,270.4 69.0,270.4 69.3,270.4 69.5,270.4 69.8,270.4 70.0,270.4 70.3,270.4 70.5,270.4 70.8,270.4 71.0,270.4 71.3,270.4 71.5,270.4 71.8,270.4 72.0,270.4 72.3,270.4 72.5,270.4 72.8,270.4 73.0,270.4 73.3,270.4 73.5,270.4 73.8,270.4 74.0,270.4 74.3,270.4 74.5,270.4 74.8,270.4 75.0,270.4 75.3,270.4 75.5,270.4 75.8,270.4 76.0,270.4 76.3,270.4 76.5,270.4 76.8,270.4 77.0,270.4 77.3,270.4 77.5,270.4 77.8,270.4 78.0,270.4 78.3,270.4 78.5,270.4 78.8,270.4 79.0,270.4 79.3,270.4 79.5,270.4 79.8,270.4 80.0,270.4 80.3,270.4 80.5,270.4 80.8,270.4 81.0,270.4 81.3,270.4 81.5,270.4 81.8,270.4 82.0,270.4 82.3,270.4 82.5,270.4 82.8,270.4 83.0,270.4 83.3,270.4 83.5,270.4 83.8,270.4 84.0,270.4 84.3,270.4 84.5,270.4 84.8,270.4 85.0,270.4 85.3,270.4 85.5,270.4 85.8,270.4 86.0,270.4 86.3,270.4 86.5,270.4 86.8,270.4 87.0,270.4 87.3,270.4 87.5,270.4 87.8,270.4 88.0,270.4 88.3,270.4 88.5,270.4 88.8,270.4 89.0,270.4 89.3,270.4 89.5,270.4 89.8,270.4 90.0,270.4 90.3,270.4 90.5,270.4 90.8,270.4 91.0,270.4 91.3,270.4 91.5,270.4 91.8,270.4 92.0,270.4 92.3,270.4 92.5,270.4 92.8,270.4 93.0,270.4 93.3,270.4 93.5,270.4 93.8,270.4 94.0,270.4 94.3,270.4 94.5,270.4 94.8,270.4 95.0,270.4 95.3,270.4 95.5,270.4 95.8,270.4 96.0,270.4 96.3,270.4 96.5,270.4 96.8,270.4 97.0,270.4 97.3,270.4 97.5,270.4 97.8,270.4 98.0,270.4 98.3,270.4 98.5,270.4" fill="none" stroke="#4f9a26" stroke-width="0.3" opacity="0.55"/>
<polyline points="25.8,270.4 26.2,270.4 26.6,270.4 27.0,270.4 27.4,270.4 27.8,270.4 28.2,270.4 28.6,270.4 29.0,270.4 29.4,270.4 29.8,270.4 30.2,270.4 30.6,270.4 31.0,270.4 31.4,270.4 31.8,270.4 32.2,270.4 32.6,270.4 33.0,270.4 33.4,270.4 33.8,270.4 34.2,270.4 34.6,270.4 35.0,270.4 35.4,270.4 35.8,270.4 36.2,270.4 36.6,270.4 37.0,270.4 37.4,270.4 37.8,270.4 38.2,270.4 38.6,270.4 39.0,270.4 39.4,270.4 39.8,270.4 40.2,270.4 40.6,270.4 41.0,270.4 41.4,270.4 41.8,270.4 42.2,270.4 42.6,270.4 43.0,270.4 43.4,270.4 43.8,269.9 44.2,269.7 44.6,269.4 45.0,269.8 45.4,269.1 45.8,268.5 46.2,267.5 46.6,266.8 47.0,264.9 47.4,263.4 47.8,261.9 48.2,259.9 48.6,258.1 49.0,254.8 49.4,253.6 49.8,249.9 50.2,245.9 50.6,240.5 51.0,240.3 51.4,236.0 51.8,235.9 52.2,230.1 52.6,226.4 53.0,226.7 53.4,222.6 53.8,221.1 54.2,225.4 54.6,225.8 55.0,217.8 55.4,224.1 55.8,226.9 56.2,232.4 56.6,232.0 57.0,232.5 57.4,239.6 57.8,241.0 58.2,246.9 58.6,249.5 59.0,253.0 59.4,257.1 59.8,259.2 60.2,261.6 60.6,263.5 61.0,264.8 61.4,266.4 61.8,267.5 62.2,268.5 62.6,269.4 63.0,269.6 63.4,269.6 63.8,270.0 64.2,270.4 64.6,270.4 65.0,270.4 65.4,270.4 65.8,270.4 66.2,270.4 66.6,270.4 67.0,270.4 67.4,270.4 67.8,270.4 68.2,270.4 68.6,270.4 69.0,270.4 69.4,270.4 69.8,270.4 70.2,270.4 70.6,270.4 71.0,270.4 71.4,270.4 71.8,270.4 72.2,270.4 72.6,270.4 73.0,270.4 73.4,270.4 73.8,270.4 74.2,270.4 74.6,270.4 75.0,270.4 75.4,270.4 75.8,270.4 76.2,270.4 76.6,270.4 77.0,270.4 77.4,270.4 77.8,270.4 78.2,270.4 78.6,270.4 79.0,270.4 79.4,270.4 79.8,270.4 80.2,270.4 80.6,270.4 81.0,270.4 81.4,270.4 81.8,270.4 82.2,270.4 82.6,270.4 83.0,270.4 83.4,270.4 83.8,270.4 84.2,270.4 84.6,270.4 85.0,270.4 85.4,270.4 85.8,270.4 86.2,270.4 86.6,270.4 87.0,270.4 87.4,270.4 87.8,270.4 88.2,270.4 88.6,270.4 89.0,270.4 89.4,270.4 89.8,270.4 90.2,270.4 90.6,270.4 91.0,270.4 91.4,270.4 91.8,270.4 92.2,270.4 92.6,270.4 93.0,270.4 93.4,270.4 93.8,270.4 94.2,270.4 94.6,270.4 95.0,270.4 95.4,270.4 95.8,270.4 96.2,270.4 96.6,270.4 97.0,270.4 97.4,270.4 97.8,270.4 98.2,270.4 98.6,270.4" fill="none" stroke="#4f9a26" stroke-width="1.5" stroke-linejoin="round" opacity="1.0"/>
<polyline points="25.8,270.4 26.2,270.4 26.6,270.4 27.0,270.4 27.4,270.4 27.8,270.4 28.2,270.4 28.6,270.4 29.0,270.4 29.4,270.4 29.8,270.4 30.2,270.4 30.6,270.4 31.0,270.4 31.4,270.4 31.8,270.4 32.2,270.4 32.6,270.4 33.0,270.4 33.4,270.4 33.8,270.4 34.2,270.4 34.6,270.4 35.0,270.4 35.4,270.4 35.8,270.4 36.2,270.4 36.6,270.4 37.0,270.4 37.4,270.4 37.8,270.4 38.2,270.4 38.6,270.4 39.0,270.4 39.4,270.4 39.8,270.4 40.2,270.4 40.6,270.4 41.0,270.4 41.4,270.4 41.8,270.4 42.2,270.4 42.6,270.4 43.0,270.4 43.4,270.4 43.8,269.7 44.2,270.2 44.6,269.8 45.0,268.8 45.4,269.7 45.8,267.6 46.2,268.1 46.6,266.1 47.0,263.6 47.4,262.9 47.8,262.6 48.2,260.3 48.6,257.1 49.0,255.9 49.4,253.1 49.8,250.1 50.2,249.1 50.6,242.2 51.0,238.9 51.4,234.5 51.8,234.7 52.2,231.4 52.6,221.1 53.0,220.7 53.4,220.8 53.8,216.4 54.2,218.1 54.6,222.4 55.0,227.4 55.4,225.5 55.8,227.8 56.2,224.7 56.6,236.3 57.0,231.9 57.4,236.9 57.8,246.5 58.2,243.8 58.6,249.3 59.0,253.5 59.4,256.8 59.8,258.2 60.2,260.6 60.6,264.4 61.0,266.3 61.4,266.4 61.8,266.4 62.2,268.2 62.6,269.8 63.0,269.9 63.4,269.4 63.8,270.4 64.2,270.4 64.6,270.4 65.0,270.4 65.4,270.4 65.8,270.4 66.2,270.4 66.6,270.4 67.0,270.4 67.4,270.4 67.8,270.4 68.2,270.4 68.6,270.4 69.0,270.4 69.4,270.4 69.8,270.4 70.2,270.4 70.6,270.4 71.0,270.4 71.4,270.4 71.8,270.4 72.2,270.4 72.6,270.4 73.0,270.4 73.4,270.4 73.8,270.4 74.2,270.4 74.6,270.4 75.0,270.4 75.4,270.4 75.8,270.4 76.2,270.4 76.6,270.4 77.0,270.4 77.4,270.4 77.8,270.4 78.2,270.4 78.6,270.4 79.0,270.4 79.4,270.4 79.8,270.4 80.2,270.4 80.6,270.4 81.0,270.4 81.4,270.4 81.8,270.4 82.2,270.4 82.6,270.4 83.0,270.4 83.4,270.4 83.8,270.4 84.2,270.4 84.6,270.4 85.0,270.4 85.4,270.4 85.8,270.4 86.2,270.4 86.6,270.4 87.0,270.4 87.4,270.4 87.8,270.4 88.2,270.4 88.6,270.4 89.0,270.4 89.4,270.4 89.8,270.4 90.2,270.4 90.6,270.4 91.0,270.4 91.4,270.4 91.8,270.4 92.2,270.4 92.6,270.4 93.0,270.4 93.4,270.4 93.8,270.4 94.2,270.4 94.6,270.4 95.0,270.4 95.4,270.4 95.8,270.4 96.2,270.4 96.6,270.4 97.0,270.4 97.4,270.4 97.8,270.4 98.2,270.4 98.6,270.4" fill="none" stroke="#4f9a26" stroke-width="0.6" stroke-linejoin="round" opacity="0.70"/>
<polyline points="25.8,270.4 26.1,270.4 26.3,270.4 26.6,270.4 26.8,270.4 27.1,270.4 27.3,270.4 27.6,270.4 27.8,270.4 28.1,270.4 28.3,270.4 28.6,270.4 28.8,270.4 29.1,270.4 29.3,270.4 29.6,270.4 29.8,270.4 30.1,270.4 30.3,270.4 30.6,270.4 30.8,270.4 31.1,270.4 31.3,270.4 31.6,270.4 31.8,270.4 32.0,270.4 32.3,270.4 32.5,270.4 32.8,270.4 33.0,270.4 33.3,270.4 33.5,270.4 33.8,270.4 34.0,270.4 34.3,270.4 34.5,270.4 34.8,270.4 35.0,270.4 35.3,270.4 35.5,270.4 35.8,270.4 36.0,270.4 36.3,270.4 36.5,270.4 36.8,270.4 37.0,270.4 37.3,270.4 37.5,270.4 37.8,270.4 38.0,270.4 38.3,270.4 38.5,270.4 38.8,270.4 39.0,270.4 39.3,270.4 39.5,270.4 39.8,270.4 40.0,270.4 40.3,270.4 40.5,270.4 40.8,270.4 41.0,270.4 41.3,270.4 41.5,270.4 41.8,270.4 42.0,270.4 42.3,270.4 42.5,270.4 42.8,270.4 43.0,270.4 43.3,270.4 43.5,270.4 43.8,270.4 44.0,270.4 44.3,270.4 44.5,270.4 44.8,270.4 45.0,270.4 45.3,270.4 45.5,270.4 45.8,270.4 46.0,270.4 46.3,270.4 46.5,270.4 46.8,270.4 47.0,270.4 47.3,270.4 47.5,270.4 47.8,270.4 48.0,270.4 48.3,270.4 48.5,270.4 48.8,270.4 49.0,270.4 49.3,270.4 49.5,270.4 49.8,270.4 50.0,270.4 50.3,270.4 50.5,270.4 50.8,270.4 51.0,270.4 51.3,270.4 51.5,270.4 51.8,270.4 52.0,270.4 52.3,270.4 52.5,270.4 52.8,270.4 53.0,270.4 53.3,270.4 53.5,270.4 53.8,270.4 54.0,270.4 54.3,270.4 54.5,270.4 54.8,270.4 55.0,270.4 55.3,270.4 55.5,270.4 55.8,270.4 56.0,270.4 56.3,270.4 56.5,270.4 56.8,270.4 57.0,270.4 57.3,270.4 57.5,270.4 57.8,270.4 58.0,270.4 58.3,270.4 58.5,270.4 58.8,270.4 59.0,270.4 59.3,270.4 59.5,270.4 59.8,270.4 60.0,270.4 60.3,270.4 60.5,270.4 60.8,270.4 61.0,270.4 61.3,270.4 61.5,270.4 61.8,270.4 62.0,270.4 62.3,270.4 62.5,270.4 62.8,270.4 63.0,270.4 63.3,270.4 63.5,270.4 63.8,270.4 64.0,270.4 64.3,270.4 64.5,270.4 64.8,270.4 65.0,268.9 65.3,269.2 65.5,268.4 65.8,268.8 66.0,268.5 66.3,268.0 66.5,267.2 66.8,267.9 67.0,266.6 67.3,267.1 67.5,266.1 67.8,265.9 68.0,266.3 68.3,265.6 68.5,267.0 68.8,266.0 69.0,266.6 69.3,266.6 69.5,266.0 69.8,265.6 70.0,265.0 70.3,265.5 70.5,265.1 70.8,263.5 71.0,264.2 71.3,263.6 71.5,263.5 71.8,263.7 72.0,263.2 72.3,262.2 72.5,262.5 72.8,262.1 73.0,258.0 73.3,257.3 73.5,255.7 73.8,255.1 74.0,258.8 74.3,253.5 74.5,253.1 74.8,251.9 75.0,251.4 75.3,247.4 75.5,250.6 75.8,244.7 76.0,248.7 76.3,246.9 76.5,235.7 76.8,241.0 77.0,233.4 77.3,242.9 77.5,229.8 77.8,231.3 78.0,237.9 78.3,234.1 78.5,234.5 78.8,229.4 79.0,230.6 79.3,224.5 79.5,228.7 79.8,224.9 80.0,232.2 80.3,222.3 80.5,223.1 80.8,224.6 81.0,230.9 81.3,232.3 81.5,223.5 81.8,240.5 82.0,238.8 82.3,232.8 82.5,230.7 82.8,241.7 83.0,244.9 83.3,235.5 83.5,244.3 83.8,246.3 84.0,248.9 84.3,242.3 84.5,243.1 84.8,245.2 85.0,247.4 85.3,254.5 85.5,255.8 85.8,253.8 86.0,252.8 86.3,255.6 86.5,256.2 86.8,259.5 87.0,260.9 87.3,262.0 87.5,261.6 87.8,262.5 88.0,263.4 88.3,263.9 88.5,264.8 88.8,266.0 89.0,266.6 89.3,266.4 89.5,267.3 89.8,267.1 90.0,267.5 90.3,268.2 90.5,268.5 90.8,268.6 91.0,270.4 91.3,270.4 91.5,270.4 91.8,270.4 92.0,270.4 92.3,270.4 92.5,270.4 92.8,270.4 93.0,270.4 93.3,270.4 93.5,270.4 93.8,270.4 94.0,270.4 94.3,270.4 94.5,270.4 94.8,270.4 95.0,270.4 95.3,270.4 95.5,270.4 95.8,270.4 96.0,270.4 96.3,270.4 96.5,270.4 96.8,270.4 97.0,270.4 97.3,270.4 97.5,270.4 97.8,270.4 98.0,270.4 98.3,270.4 98.5,270.4" fill="none" stroke="#661e78" stroke-width="0.3" opacity="0.55"/>
<polyline points="25.8,270.4 26.2,270.4 26.6,270.4 27.0,270.4 27.4,270.4 27.8,270.4 28.2,270.4 28.6,270.4 29.0,270.4 29.4,270.4 29.8,270.4 30.2,270.4 30.6,270.4 31.0,270.4 31.4,270.4 31.8,270.4 32.2,270.4 32.6,270.4 33.0,270.4 33.4,270.4 33.8,270.4 34.2,270.4 34.6,270.4 35.0,270.4 35.4,270.4 35.8,270.4 36.2,270.4 36.6,270.4 37.0,270.4 37.4,270.4 37.8,270.4 38.2,270.4 38.6,270.4 39.0,270.4 39.4,270.4 39.8,270.4 40.2,270.4 40.6,270.4 41.0,270.4 41.4,270.4 41.8,270.4 42.2,270.4 42.6,270.4 43.0,270.4 43.4,270.4 43.8,270.4 44.2,270.4 44.6,270.4 45.0,270.4 45.4,270.4 45.8,270.4 46.2,270.4 46.6,270.4 47.0,270.4 47.4,270.4 47.8,270.4 48.2,270.4 48.6,270.4 49.0,270.4 49.4,270.4 49.8,270.4 50.2,270.4 50.6,270.4 51.0,270.4 51.4,270.4 51.8,270.4 52.2,270.4 52.6,270.4 53.0,270.4 53.4,270.4 53.8,270.4 54.2,270.4 54.6,270.4 55.0,270.4 55.4,270.4 55.8,270.4 56.2,270.4 56.6,270.4 57.0,270.4 57.4,270.4 57.8,270.4 58.2,270.4 58.6,270.4 59.0,270.4 59.4,270.4 59.8,270.4 60.2,270.4 60.6,270.4 61.0,270.4 61.4,270.4 61.8,270.4 62.2,270.4 62.6,270.4 63.0,270.0 63.4,270.1 63.8,269.9 64.2,269.7 64.6,268.9 65.0,268.7 65.4,268.5 65.8,268.7 66.2,267.4 66.6,267.2 67.0,267.7 67.4,267.2 67.8,266.2 68.2,266.3 68.6,266.0 69.0,265.3 69.4,265.2 69.8,265.0 70.2,264.1 70.6,263.5 71.0,263.0 71.4,261.8 71.8,262.3 72.2,260.9 72.6,259.7 73.0,257.5 73.4,255.6 73.8,254.7 74.2,252.1 74.6,251.1 75.0,248.4 75.4,243.1 75.8,244.7 76.2,239.4 76.6,234.6 77.0,229.9 77.4,231.0 77.8,226.5 78.2,227.7 78.6,224.6 79.0,220.1 79.4,225.3 79.8,219.8 80.2,219.8 80.6,224.5 81.0,220.7 81.4,221.5 81.8,223.7 82.2,228.2 82.6,232.7 83.0,231.4 83.4,233.2 83.8,238.2 84.2,239.9 84.6,242.8 85.0,246.2 85.4,249.6 85.8,251.1 86.2,254.6 86.6,256.8 87.0,258.4 87.4,259.8 87.8,261.6 88.2,262.6 88.6,265.0 89.0,265.1 89.4,266.3 89.8,267.1 90.2,268.2 90.6,268.0 91.0,269.5 91.4,269.6 91.8,270.2 92.2,270.0 92.6,270.4 93.0,270.4 93.4,270.4 93.8,270.4 94.2,270.4 94.6,270.4 95.0,270.4 95.4,270.4 95.8,270.4 96.2,270.4 96.6,270.4 97.0,270.4 97.4,270.4 97.8,270.4 98.2,270.4 98.6,270.4" fill="none" stroke="#661e78" stroke-width="1.5" stroke-linejoin="round" opacity="1.0"/>
<polyline points="25.8,270.4 26.2,270.4 26.6,270.4 27.0,270.4 27.4,270.4 27.8,270.4 28.2,270.4 28.6,270.4 29.0,270.4 29.4,270.4 29.8,270.4 30.2,270.4 30.6,270.4 31.0,270.4 31.4,270.4 31.8,270.4 32.2,270.4 32.6,270.4 33.0,270.4 33.4,270.4 33.8,270.4 34.2,270.4 34.6,270.4 35.0,270.4 35.4,270.4 35.8,270.4 36.2,270.4 36.6,270.4 37.0,270.4 37.4,270.4 37.8,270.4 38.2,270.4 38.6,270.4 39.0,270.4 39.4,270.4 39.8,270.4 40.2,270.4 40.6,270.4 41.0,270.4 41.4,270.4 41.8,270.4 42.2,270.4 42.6,270.4 43.0,270.4 43.4,270.4 43.8,270.4 44.2,270.4 44.6,270.4 45.0,270.4 45.4,270.4 45.8,270.4 46.2,270.4 46.6,270.4 47.0,270.4 47.4,270.4 47.8,270.4 48.2,270.4 48.6,270.4 49.0,270.4 49.4,270.4 49.8,270.4 50.2,270.4 50.6,270.4 51.0,270.4 51.4,270.4 51.8,270.4 52.2,270.4 52.6,270.4 53.0,270.4 53.4,270.4 53.8,270.4 54.2,270.4 54.6,270.4 55.0,270.4 55.4,270.4 55.8,270.4 56.2,270.4 56.6,270.4 57.0,270.4 57.4,270.4 57.8,270.4 58.2,270.4 58.6,270.4 59.0,270.4 59.4,270.4 59.8,270.4 60.2,270.4 60.6,270.4 61.0,270.4 61.4,270.4 61.8,270.4 62.2,270.4 62.6,270.4 63.0,270.4 63.4,270.2 63.8,270.4 64.2,270.3 64.6,269.4 65.0,269.4 65.4,268.2 65.8,267.6 66.2,267.1 66.6,268.2 67.0,266.7 67.4,265.9 67.8,266.9 68.2,265.8 68.6,265.5 69.0,265.2 69.4,265.1 69.8,263.5 70.2,263.9 70.6,263.5 71.0,263.9 71.4,261.3 71.8,260.4 72.2,259.4 72.6,257.4 73.0,255.8 73.4,258.0 73.8,254.0 74.2,253.0 74.6,247.0 75.0,246.6 75.4,244.4 75.8,245.8 76.2,238.2 76.6,235.4 77.0,233.9 77.4,227.5 77.8,223.4 78.2,230.3 78.6,220.5 79.0,228.6 79.4,216.4 79.8,223.0 80.2,225.1 80.6,221.3 81.0,224.6 81.4,218.1 81.8,221.7 82.2,225.2 82.6,231.5 83.0,236.8 83.4,228.7 83.8,236.3 84.2,240.0 84.6,239.6 85.0,244.8 85.4,247.0 85.8,250.7 86.2,251.4 86.6,253.4 87.0,258.7 87.4,258.5 87.8,263.1 88.2,261.4 88.6,264.0 89.0,265.5 89.4,265.6 89.8,266.3 90.2,268.2 90.6,268.6 91.0,268.5 91.4,269.0 91.8,270.4 92.2,270.3 92.6,270.0 93.0,270.4 93.4,270.4 93.8,270.4 94.2,270.4 94.6,270.4 95.0,270.4 95.4,270.4 95.8,270.4 96.2,270.4 96.6,270.4 97.0,270.4 97.4,270.4 97.8,270.4 98.2,270.4 98.6,270.4" fill="none" stroke="#661e78" stroke-width="0.6" stroke-linejoin="round" opacity="0.70"/>
</g>
<line x1="28.6" y1="283.3" x2="90.6" y2="283.3" stroke="#111" stroke-width="1"/>
<polygon points="93.6,283.3 89.6,281.6 89.6,285.0" fill="#111"/>
<text x="61.50" y="291.80" font-size="7.2" text-anchor="middle" font-weight="normal" fill="#222" >CD20</text>
<rect x="122" y="214.3" width="71.30000000000001" height="56.89999999999998" fill="#fff" stroke="#9a9a9a" stroke-width="0.6"/>
<text x="120.50" y="271.90" font-size="3.9" text-anchor="end" font-weight="normal" fill="#444" >0</text>
<line x1="121.2" y1="270.50" x2="122" y2="270.50" stroke="#999" stroke-width="0.4"/>
<text x="120.50" y="262.87" font-size="3.9" text-anchor="end" font-weight="normal" fill="#444" >20</text>
<line x1="121.2" y1="261.47" x2="122" y2="261.47" stroke="#999" stroke-width="0.4"/>
<text x="120.50" y="253.83" font-size="3.9" text-anchor="end" font-weight="normal" fill="#444" >40</text>
<line x1="121.2" y1="252.43" x2="122" y2="252.43" stroke="#999" stroke-width="0.4"/>
<text x="120.50" y="244.80" font-size="3.9" text-anchor="end" font-weight="normal" fill="#444" >60</text>
<line x1="121.2" y1="243.40" x2="122" y2="243.40" stroke="#999" stroke-width="0.4"/>
<text x="120.50" y="235.77" font-size="3.9" text-anchor="end" font-weight="normal" fill="#444" >80</text>
<line x1="121.2" y1="234.37" x2="122" y2="234.37" stroke="#999" stroke-width="0.4"/>
<text x="120.50" y="226.73" font-size="3.9" text-anchor="end" font-weight="normal" fill="#444" >100</text>
<line x1="121.2" y1="225.33" x2="122" y2="225.33" stroke="#999" stroke-width="0.4"/>
<text x="120.50" y="217.70" font-size="3.9" text-anchor="end" font-weight="normal" fill="#444" >120</text>
<line x1="121.2" y1="216.30" x2="122" y2="216.30" stroke="#999" stroke-width="0.4"/>
<text x="118.90" y="278.60" font-size="3.9" fill="#555">10<tspan font-size="2.8" dy="-1.5">2</tspan></text>
<line x1="122.00" y1="271.2" x2="122.00" y2="272.0" stroke="#999" stroke-width="0.4"/>
<text x="134.20" y="278.60" font-size="3.9" fill="#555">10<tspan font-size="2.8" dy="-1.5">3</tspan></text>
<line x1="137.30" y1="271.2" x2="137.30" y2="272.0" stroke="#999" stroke-width="0.4"/>
<text x="149.50" y="278.60" font-size="3.9" fill="#555">10<tspan font-size="2.8" dy="-1.5">4</tspan></text>
<line x1="152.60" y1="271.2" x2="152.60" y2="272.0" stroke="#999" stroke-width="0.4"/>
<text x="164.80" y="278.60" font-size="3.9" fill="#555">10<tspan font-size="2.8" dy="-1.5">5</tspan></text>
<line x1="167.90" y1="271.2" x2="167.90" y2="272.0" stroke="#999" stroke-width="0.4"/>
<text x="180.10" y="278.60" font-size="3.9" fill="#555">10<tspan font-size="2.8" dy="-1.5">6</tspan></text>
<line x1="183.20" y1="271.2" x2="183.20" y2="272.0" stroke="#999" stroke-width="0.4"/>
<defs><clipPath id="cp122_214"><rect x="122" y="214.3" width="71.30000000000001" height="56.70"/></clipPath></defs>
<g clip-path="url(#cp122_214)">
<polyline points="122.3,264.5 122.5,265.6 122.8,265.1 123.0,264.6 123.3,264.2 123.5,264.3 123.8,264.7 124.0,264.6 124.3,265.0 124.5,264.2 124.8,265.0 125.0,264.6 125.3,265.3 125.5,265.3 125.8,263.7 126.0,265.5 126.3,264.2 126.5,263.4 126.8,262.8 127.0,263.9 127.3,262.6 127.5,263.0 127.8,260.9 128.1,262.7 128.3,259.6 128.6,261.5 128.8,258.8 129.1,257.7 129.3,257.7 129.6,256.4 129.8,255.6 130.1,254.6 130.3,256.3 130.6,253.7 130.8,247.1 131.1,253.7 131.3,243.4 131.6,242.2 131.8,248.8 132.1,241.6 132.3,237.2 132.6,237.5 132.8,240.2 133.1,243.6 133.3,231.2 133.6,231.9 133.8,228.4 134.1,227.8 134.3,230.8 134.6,232.8 134.8,239.8 135.1,234.0 135.3,237.0 135.6,232.2 135.8,237.3 136.1,233.1 136.3,225.6 136.6,228.0 136.8,230.1 137.1,224.4 137.3,238.6 137.6,232.2 137.8,228.7 138.1,234.5 138.3,240.4 138.6,234.1 138.8,239.9 139.1,235.1 139.3,238.8 139.6,240.0 139.8,245.4 140.1,248.9 140.3,246.2 140.6,252.0 140.8,252.7 141.1,255.4 141.3,258.3 141.6,255.6 141.8,260.6 142.1,259.0 142.3,260.5 142.6,260.3 142.8,261.2 143.1,264.0 143.3,263.4 143.6,264.1 143.8,265.1 144.1,266.6 144.3,266.6 144.6,267.3 144.8,268.3 145.1,268.3 145.3,268.5 145.6,270.2 145.8,270.2 146.1,270.2 146.3,270.2 146.6,270.2 146.8,270.2 147.1,270.2 147.3,270.2 147.6,270.2 147.8,270.2 148.1,270.2 148.3,270.2 148.6,270.2 148.8,270.2 149.1,270.2 149.3,270.2 149.6,270.2 149.8,270.2 150.1,270.2 150.3,270.2 150.6,270.2 150.8,270.2 151.1,270.2 151.3,270.2 151.6,270.2 151.8,270.2 152.1,270.2 152.3,270.2 152.6,270.2 152.8,270.2 153.1,270.2 153.3,270.2 153.6,270.2 153.8,270.2 154.1,270.2 154.3,270.2 154.6,270.2 154.8,270.2 155.1,270.2 155.3,270.2 155.6,270.2 155.8,270.2 156.1,270.2 156.3,270.2 156.6,270.2 156.8,270.2 157.1,270.2 157.3,270.2 157.6,270.2 157.8,270.2 158.1,270.2 158.3,270.2 158.6,270.2 158.8,270.2 159.1,270.2 159.3,270.2 159.6,270.2 159.8,270.2 160.1,270.2 160.3,270.2 160.6,270.2 160.8,270.2 161.1,270.2 161.3,270.2 161.6,270.2 161.8,270.2 162.1,270.2 162.3,270.2 162.6,270.2 162.8,270.2 163.1,270.2 163.3,270.2 163.6,270.2 163.8,270.2 164.1,270.2 164.3,270.2 164.6,270.2 164.8,270.2 165.1,270.2 165.3,270.2 165.6,270.2 165.8,270.2 166.1,270.2 166.3,270.2 166.6,270.2 166.8,270.2 167.1,270.2 167.3,270.2 167.6,270.2 167.8,270.2 168.1,270.2 168.3,270.2 168.6,270.2 168.8,270.2 169.1,270.2 169.3,270.2 169.6,270.2 169.8,270.2 170.1,270.2 170.3,270.2 170.6,270.2 170.8,270.2 171.1,270.2 171.3,270.2 171.6,270.2 171.8,270.2 172.1,270.2 172.3,270.2 172.6,270.2 172.8,270.2 173.1,270.2 173.3,270.2 173.6,270.2 173.8,270.2 174.1,270.2 174.3,270.2 174.6,270.2 174.8,270.2 175.1,270.2 175.3,270.2 175.6,270.2 175.8,270.2 176.1,270.2 176.3,270.2 176.6,270.2 176.8,270.2 177.1,270.2 177.3,270.2 177.6,270.2 177.8,270.2 178.1,270.2 178.3,270.2 178.6,270.2 178.8,270.2 179.1,270.2 179.3,270.2 179.6,270.2 179.8,270.2 180.1,270.2 180.3,270.2 180.6,270.2 180.8,270.2 181.1,270.2 181.3,270.2 181.6,270.2 181.8,270.2 182.1,270.2 182.3,270.2 182.6,270.2 182.8,270.2 183.1,270.2 183.3,270.2 183.6,270.2 183.8,270.2 184.1,270.2 184.3,270.2 184.6,270.2 184.8,270.2 185.1,270.2 185.3,270.2 185.6,270.2 185.8,270.2 186.1,270.2 186.3,270.2 186.6,270.2 186.8,270.2 187.1,270.2 187.3,270.2 187.6,270.2 187.8,270.2 188.1,270.2 188.3,270.2 188.6,270.2 188.8,270.2 189.1,270.2 189.3,270.2 189.6,270.2 189.8,270.2 190.1,270.2 190.3,270.2 190.6,270.2 190.8,270.2 191.1,270.2 191.3,270.2 191.6,270.2 191.8,270.2 192.1,270.2 192.3,270.2 192.6,270.2 192.8,270.2" fill="none" stroke="#a9a9a9" stroke-width="0.3" opacity="0.55"/>
<polyline points="122.3,265.2 122.7,265.1 123.1,264.5 123.5,264.8 123.9,264.0 124.3,264.4 124.7,264.1 125.1,263.6 125.5,263.0 125.9,263.0 126.3,263.3 126.7,262.6 127.1,262.8 127.5,260.2 127.9,260.3 128.3,260.2 128.7,257.5 129.1,255.4 129.5,255.0 129.9,253.5 130.3,248.3 130.7,249.6 131.1,245.0 131.5,240.5 131.9,238.8 132.3,236.7 132.7,233.0 133.1,235.4 133.5,232.5 133.9,227.9 134.3,230.4 134.7,222.6 135.1,221.9 135.5,226.6 135.9,218.2 136.3,223.6 136.7,222.9 137.1,218.8 137.5,227.0 137.9,225.7 138.3,232.8 138.7,229.6 139.1,232.4 139.5,234.6 139.9,239.5 140.3,244.1 140.7,248.6 141.1,248.6 141.5,252.2 141.9,255.3 142.3,259.3 142.7,259.9 143.1,262.4 143.5,263.5 143.9,265.8 144.3,267.4 144.7,268.0 145.1,268.0 145.5,268.7 145.9,269.9 146.3,269.3 146.7,269.5 147.1,270.2 147.5,270.2 147.9,270.2 148.3,270.2 148.7,270.2 149.1,270.2 149.5,270.2 149.9,270.2 150.3,270.2 150.7,270.2 151.1,270.2 151.5,270.2 151.9,270.2 152.3,270.2 152.7,270.2 153.1,270.2 153.5,270.2 153.9,270.2 154.3,270.2 154.7,270.2 155.1,270.2 155.5,270.2 155.9,270.2 156.3,270.2 156.7,270.2 157.1,270.2 157.5,270.2 157.9,270.2 158.3,270.2 158.7,270.2 159.1,270.2 159.5,270.2 159.9,270.2 160.3,270.2 160.7,270.2 161.1,270.2 161.5,270.2 161.9,270.2 162.3,270.2 162.7,270.2 163.1,270.2 163.5,270.2 163.9,270.2 164.3,270.2 164.7,270.2 165.1,270.2 165.5,270.2 165.9,270.2 166.3,270.2 166.7,270.2 167.1,270.2 167.5,270.2 167.9,270.2 168.3,270.2 168.7,270.2 169.1,270.2 169.5,270.2 169.9,270.2 170.3,270.2 170.7,270.2 171.1,270.2 171.5,270.2 171.9,270.2 172.3,270.2 172.7,270.2 173.1,270.2 173.5,270.2 173.9,270.2 174.3,270.2 174.7,270.2 175.1,270.2 175.5,270.2 175.9,270.2 176.3,270.2 176.7,270.2 177.1,270.2 177.5,270.2 177.9,270.2 178.3,270.2 178.7,270.2 179.1,270.2 179.5,270.2 179.9,270.2 180.3,270.2 180.7,270.2 181.1,270.2 181.5,270.2 181.9,270.2 182.3,270.2 182.7,270.2 183.1,270.2 183.5,270.2 183.9,270.2 184.3,270.2 184.7,270.2 185.1,270.2 185.5,270.2 185.9,270.2 186.3,270.2 186.7,270.2 187.1,270.2 187.5,270.2 187.9,270.2 188.3,270.2 188.7,270.2 189.1,270.2 189.5,270.2 189.9,270.2 190.3,270.2 190.7,270.2 191.1,270.2 191.5,270.2 191.9,270.2 192.3,270.2 192.7,270.2" fill="none" stroke="#a9a9a9" stroke-width="1.7" stroke-linejoin="round" opacity="1.0"/>
<polyline points="122.3,263.4 122.7,264.9 123.1,263.8 123.5,264.4 123.9,264.2 124.3,263.0 124.7,264.1 125.1,262.4 125.5,263.3 125.9,263.4 126.3,262.0 126.7,261.7 127.1,262.5 127.5,261.0 127.9,261.0 128.3,259.0 128.7,258.9 129.1,255.9 129.5,255.1 129.9,252.7 130.3,249.8 130.7,245.3 131.1,243.0 131.5,238.9 131.9,239.3 132.3,234.8 132.7,233.0 133.1,232.8 133.5,233.5 133.9,229.6 134.3,222.8 134.7,229.5 135.1,217.9 135.5,225.4 135.9,227.0 136.3,227.2 136.7,222.8 137.1,217.2 137.5,224.7 137.9,220.9 138.3,231.7 138.7,234.8 139.1,237.6 139.5,235.9 139.9,241.4 140.3,245.4 140.7,249.9 141.1,247.8 141.5,254.0 141.9,255.7 142.3,257.9 142.7,260.0 143.1,263.1 143.5,263.7 143.9,265.2 144.3,267.2 144.7,267.3 145.1,267.9 145.5,269.1 145.9,270.2 146.3,269.5 146.7,269.1 147.1,270.2 147.5,270.2 147.9,270.2 148.3,270.2 148.7,270.2 149.1,270.2 149.5,270.2 149.9,270.2 150.3,270.2 150.7,270.2 151.1,270.2 151.5,270.2 151.9,270.2 152.3,270.2 152.7,270.2 153.1,270.2 153.5,270.2 153.9,270.2 154.3,270.2 154.7,270.2 155.1,270.2 155.5,270.2 155.9,270.2 156.3,270.2 156.7,270.2 157.1,270.2 157.5,270.2 157.9,270.2 158.3,270.2 158.7,270.2 159.1,270.2 159.5,270.2 159.9,270.2 160.3,270.2 160.7,270.2 161.1,270.2 161.5,270.2 161.9,270.2 162.3,270.2 162.7,270.2 163.1,270.2 163.5,270.2 163.9,270.2 164.3,270.2 164.7,270.2 165.1,270.2 165.5,270.2 165.9,270.2 166.3,270.2 166.7,270.2 167.1,270.2 167.5,270.2 167.9,270.2 168.3,270.2 168.7,270.2 169.1,270.2 169.5,270.2 169.9,270.2 170.3,270.2 170.7,270.2 171.1,270.2 171.5,270.2 171.9,270.2 172.3,270.2 172.7,270.2 173.1,270.2 173.5,270.2 173.9,270.2 174.3,270.2 174.7,270.2 175.1,270.2 175.5,270.2 175.9,270.2 176.3,270.2 176.7,270.2 177.1,270.2 177.5,270.2 177.9,270.2 178.3,270.2 178.7,270.2 179.1,270.2 179.5,270.2 179.9,270.2 180.3,270.2 180.7,270.2 181.1,270.2 181.5,270.2 181.9,270.2 182.3,270.2 182.7,270.2 183.1,270.2 183.5,270.2 183.9,270.2 184.3,270.2 184.7,270.2 185.1,270.2 185.5,270.2 185.9,270.2 186.3,270.2 186.7,270.2 187.1,270.2 187.5,270.2 187.9,270.2 188.3,270.2 188.7,270.2 189.1,270.2 189.5,270.2 189.9,270.2 190.3,270.2 190.7,270.2 191.1,270.2 191.5,270.2 191.9,270.2 192.3,270.2 192.7,270.2" fill="none" stroke="#a9a9a9" stroke-width="0.6" stroke-linejoin="round" opacity="0.70"/>
<polyline points="122.3,270.2 122.5,270.2 122.8,270.2 123.0,270.2 123.3,270.2 123.5,270.2 123.8,270.2 124.0,270.2 124.3,270.2 124.5,270.2 124.8,270.2 125.0,270.2 125.3,270.2 125.5,270.2 125.8,270.2 126.0,270.2 126.3,270.2 126.5,268.9 126.8,268.9 127.0,268.4 127.3,267.6 127.5,267.0 127.8,266.6 128.1,266.3 128.3,266.4 128.6,265.4 128.8,264.4 129.1,263.6 129.3,264.5 129.6,264.3 129.8,261.4 130.1,262.0 130.3,263.1 130.6,259.9 130.8,259.8 131.1,260.4 131.3,255.5 131.6,259.3 131.8,258.1 132.1,257.1 132.3,253.8 132.6,254.0 132.8,256.5 133.1,249.3 133.3,248.6 133.6,252.5 133.8,254.5 134.1,247.3 134.3,247.1 134.6,249.1 134.8,251.8 135.1,249.6 135.3,250.4 135.6,244.8 135.8,246.2 136.1,249.9 136.3,251.5 136.6,246.3 136.8,246.8 137.1,249.4 137.3,250.9 137.6,251.0 137.8,250.7 138.1,250.9 138.3,255.8 138.6,258.6 138.8,257.4 139.1,259.9 139.3,256.6 139.6,260.0 139.8,259.8 140.1,262.6 140.3,262.4 140.6,263.2 140.8,264.8 141.1,265.5 141.3,264.2 141.6,265.5 141.8,265.5 142.1,266.8 142.3,266.8 142.6,267.9 142.8,267.9 143.1,268.0 143.3,269.0 143.6,270.2 143.8,270.2 144.1,270.2 144.3,270.2 144.6,270.2 144.8,270.2 145.1,270.2 145.3,270.2 145.6,270.2 145.8,270.2 146.1,270.2 146.3,270.2 146.6,270.2 146.8,270.2 147.1,270.2 147.3,270.2 147.6,270.2 147.8,270.2 148.1,270.2 148.3,270.2 148.6,270.2 148.8,270.2 149.1,270.2 149.3,270.2 149.6,270.2 149.8,270.2 150.1,270.2 150.3,270.2 150.6,270.2 150.8,270.2 151.1,270.2 151.3,270.2 151.6,270.2 151.8,270.2 152.1,270.2 152.3,270.2 152.6,270.2 152.8,270.2 153.1,270.2 153.3,270.2 153.6,270.2 153.8,270.2 154.1,270.2 154.3,270.2 154.6,270.2 154.8,270.2 155.1,270.2 155.3,270.2 155.6,270.2 155.8,270.2 156.1,270.2 156.3,270.2 156.6,270.2 156.8,270.2 157.1,270.2 157.3,270.2 157.6,270.2 157.8,270.2 158.1,270.2 158.3,270.2 158.6,270.2 158.8,270.2 159.1,270.2 159.3,270.2 159.6,270.2 159.8,270.2 160.1,270.2 160.3,270.2 160.6,270.2 160.8,270.2 161.1,270.2 161.3,270.2 161.6,270.2 161.8,270.2 162.1,270.2 162.3,270.2 162.6,270.2 162.8,270.2 163.1,270.2 163.3,270.2 163.6,270.2 163.8,270.2 164.1,270.2 164.3,270.2 164.6,270.2 164.8,270.2 165.1,270.2 165.3,270.2 165.6,270.2 165.8,270.2 166.1,270.2 166.3,270.2 166.6,270.2 166.8,270.2 167.1,270.2 167.3,270.2 167.6,270.2 167.8,270.2 168.1,270.2 168.3,270.2 168.6,270.2 168.8,270.2 169.1,270.2 169.3,270.2 169.6,270.2 169.8,270.2 170.1,270.2 170.3,270.2 170.6,270.2 170.8,270.2 171.1,270.2 171.3,270.2 171.6,270.2 171.8,270.2 172.1,270.2 172.3,270.2 172.6,270.2 172.8,270.2 173.1,270.2 173.3,270.2 173.6,270.2 173.8,270.2 174.1,270.2 174.3,270.2 174.6,270.2 174.8,270.2 175.1,270.2 175.3,270.2 175.6,270.2 175.8,270.2 176.1,270.2 176.3,270.2 176.6,270.2 176.8,270.2 177.1,270.2 177.3,270.2 177.6,270.2 177.8,270.2 178.1,270.2 178.3,270.2 178.6,270.2 178.8,270.2 179.1,270.2 179.3,270.2 179.6,270.2 179.8,270.2 180.1,270.2 180.3,270.2 180.6,270.2 180.8,270.2 181.1,270.2 181.3,270.2 181.6,270.2 181.8,270.2 182.1,270.2 182.3,270.2 182.6,270.2 182.8,270.2 183.1,270.2 183.3,270.2 183.6,270.2 183.8,270.2 184.1,270.2 184.3,270.2 184.6,270.2 184.8,270.2 185.1,270.2 185.3,270.2 185.6,270.2 185.8,270.2 186.1,270.2 186.3,270.2 186.6,270.2 186.8,270.2 187.1,270.2 187.3,270.2 187.6,270.2 187.8,270.2 188.1,270.2 188.3,270.2 188.6,270.2 188.8,270.2 189.1,270.2 189.3,270.2 189.6,270.2 189.8,270.2 190.1,270.2 190.3,270.2 190.6,270.2 190.8,270.2 191.1,270.2 191.3,270.2 191.6,270.2 191.8,270.2 192.1,270.2 192.3,270.2 192.6,270.2 192.8,270.2" fill="none" stroke="#c6c832" stroke-width="0.3" opacity="0.55"/>
<polyline points="122.3,270.2 122.7,270.2 123.1,270.2 123.5,270.2 123.9,270.2 124.3,270.2 124.7,269.9 125.1,269.9 125.5,270.1 125.9,269.2 126.3,268.9 126.7,268.2 127.1,268.2 127.5,267.0 127.9,267.0 128.3,264.8 128.7,264.2 129.1,264.3 129.5,262.7 129.9,261.2 130.3,259.4 130.7,257.8 131.1,256.0 131.5,254.0 131.9,254.4 132.3,251.5 132.7,250.8 133.1,249.7 133.5,246.4 133.9,244.6 134.3,246.3 134.7,245.2 135.1,244.4 135.5,242.1 135.9,243.5 136.3,244.2 136.7,246.5 137.1,246.1 137.5,250.0 137.9,249.4 138.3,251.2 138.7,253.3 139.1,256.2 139.5,256.4 139.9,259.5 140.3,260.8 140.7,262.8 141.1,262.9 141.5,264.5 141.9,265.3 142.3,267.2 142.7,268.1 143.1,268.4 143.5,268.4 143.9,268.8 144.3,269.9 144.7,269.7 145.1,269.7 145.5,270.2 145.9,270.2 146.3,270.2 146.7,270.2 147.1,270.2 147.5,270.2 147.9,270.2 148.3,270.2 148.7,270.2 149.1,270.2 149.5,270.2 149.9,270.2 150.3,270.2 150.7,270.2 151.1,270.2 151.5,270.2 151.9,270.2 152.3,270.2 152.7,270.2 153.1,270.2 153.5,270.2 153.9,270.2 154.3,270.2 154.7,270.2 155.1,270.2 155.5,270.2 155.9,270.2 156.3,270.2 156.7,270.2 157.1,270.2 157.5,270.2 157.9,270.2 158.3,270.2 158.7,270.2 159.1,270.2 159.5,270.2 159.9,270.2 160.3,270.2 160.7,270.2 161.1,270.2 161.5,270.2 161.9,270.2 162.3,270.2 162.7,270.2 163.1,270.2 163.5,270.2 163.9,270.2 164.3,270.2 164.7,270.2 165.1,270.2 165.5,270.2 165.9,270.2 166.3,270.2 166.7,270.2 167.1,270.2 167.5,270.2 167.9,270.2 168.3,270.2 168.7,270.2 169.1,270.2 169.5,270.2 169.9,270.2 170.3,270.2 170.7,270.2 171.1,270.2 171.5,270.2 171.9,270.2 172.3,270.2 172.7,270.2 173.1,270.2 173.5,270.2 173.9,270.2 174.3,270.2 174.7,270.2 175.1,270.2 175.5,270.2 175.9,270.2 176.3,270.2 176.7,270.2 177.1,270.2 177.5,270.2 177.9,270.2 178.3,270.2 178.7,270.2 179.1,270.2 179.5,270.2 179.9,270.2 180.3,270.2 180.7,270.2 181.1,270.2 181.5,270.2 181.9,270.2 182.3,270.2 182.7,270.2 183.1,270.2 183.5,270.2 183.9,270.2 184.3,270.2 184.7,270.2 185.1,270.2 185.5,270.2 185.9,270.2 186.3,270.2 186.7,270.2 187.1,270.2 187.5,270.2 187.9,270.2 188.3,270.2 188.7,270.2 189.1,270.2 189.5,270.2 189.9,270.2 190.3,270.2 190.7,270.2 191.1,270.2 191.5,270.2 191.9,270.2 192.3,270.2 192.7,270.2" fill="none" stroke="#c6c832" stroke-width="1.5" stroke-linejoin="round" opacity="1.0"/>
<polyline points="122.3,270.2 122.7,270.2 123.1,270.2 123.5,270.2 123.9,270.2 124.3,270.2 124.7,269.6 125.1,270.1 125.5,269.6 125.9,269.6 126.3,268.6 126.7,269.2 127.1,267.2 127.5,267.3 127.9,267.8 128.3,266.7 128.7,264.9 129.1,262.5 129.5,261.4 129.9,262.6 130.3,259.4 130.7,257.7 131.1,254.1 131.5,255.1 131.9,254.3 132.3,252.6 132.7,248.5 133.1,249.1 133.5,245.4 133.9,246.7 134.3,246.2 134.7,248.9 135.1,246.5 135.5,247.0 135.9,245.4 136.3,243.6 136.7,246.9 137.1,246.8 137.5,247.9 137.9,247.3 138.3,253.8 138.7,251.2 139.1,256.0 139.5,255.8 139.9,259.3 140.3,261.9 140.7,261.8 141.1,263.6 141.5,264.7 141.9,265.9 142.3,267.3 142.7,268.5 143.1,268.3 143.5,268.2 143.9,269.2 144.3,269.5 144.7,270.1 145.1,270.2 145.5,270.2 145.9,270.2 146.3,270.2 146.7,270.2 147.1,270.2 147.5,270.2 147.9,270.2 148.3,270.2 148.7,270.2 149.1,270.2 149.5,270.2 149.9,270.2 150.3,270.2 150.7,270.2 151.1,270.2 151.5,270.2 151.9,270.2 152.3,270.2 152.7,270.2 153.1,270.2 153.5,270.2 153.9,270.2 154.3,270.2 154.7,270.2 155.1,270.2 155.5,270.2 155.9,270.2 156.3,270.2 156.7,270.2 157.1,270.2 157.5,270.2 157.9,270.2 158.3,270.2 158.7,270.2 159.1,270.2 159.5,270.2 159.9,270.2 160.3,270.2 160.7,270.2 161.1,270.2 161.5,270.2 161.9,270.2 162.3,270.2 162.7,270.2 163.1,270.2 163.5,270.2 163.9,270.2 164.3,270.2 164.7,270.2 165.1,270.2 165.5,270.2 165.9,270.2 166.3,270.2 166.7,270.2 167.1,270.2 167.5,270.2 167.9,270.2 168.3,270.2 168.7,270.2 169.1,270.2 169.5,270.2 169.9,270.2 170.3,270.2 170.7,270.2 171.1,270.2 171.5,270.2 171.9,270.2 172.3,270.2 172.7,270.2 173.1,270.2 173.5,270.2 173.9,270.2 174.3,270.2 174.7,270.2 175.1,270.2 175.5,270.2 175.9,270.2 176.3,270.2 176.7,270.2 177.1,270.2 177.5,270.2 177.9,270.2 178.3,270.2 178.7,270.2 179.1,270.2 179.5,270.2 179.9,270.2 180.3,270.2 180.7,270.2 181.1,270.2 181.5,270.2 181.9,270.2 182.3,270.2 182.7,270.2 183.1,270.2 183.5,270.2 183.9,270.2 184.3,270.2 184.7,270.2 185.1,270.2 185.5,270.2 185.9,270.2 186.3,270.2 186.7,270.2 187.1,270.2 187.5,270.2 187.9,270.2 188.3,270.2 188.7,270.2 189.1,270.2 189.5,270.2 189.9,270.2 190.3,270.2 190.7,270.2 191.1,270.2 191.5,270.2 191.9,270.2 192.3,270.2 192.7,270.2" fill="none" stroke="#c6c832" stroke-width="0.6" stroke-linejoin="round" opacity="0.70"/>
<polyline points="122.3,270.2 122.5,270.2 122.8,270.2 123.0,270.2 123.3,270.2 123.5,270.2 123.8,270.2 124.0,270.2 124.3,270.2 124.5,270.2 124.8,270.2 125.0,270.2 125.3,270.2 125.5,270.2 125.8,270.2 126.0,270.2 126.3,270.2 126.5,270.2 126.8,270.2 127.0,269.0 127.3,268.6 127.5,267.8 127.8,268.1 128.1,268.0 128.3,266.4 128.6,265.8 128.8,266.2 129.1,266.3 129.3,265.0 129.6,264.2 129.8,263.3 130.1,263.0 130.3,263.5 130.6,261.6 130.8,261.4 131.1,259.2 131.3,260.4 131.6,259.0 131.8,256.6 132.1,254.3 132.3,253.3 132.6,257.1 132.8,253.8 133.1,248.4 133.3,251.1 133.6,249.5 133.8,250.3 134.1,246.7 134.3,251.9 134.6,247.4 134.8,250.3 135.1,244.3 135.3,250.4 135.6,246.8 135.8,246.7 136.1,245.6 136.3,251.0 136.6,247.5 136.8,247.6 137.1,246.5 137.3,248.1 137.6,247.2 137.8,249.6 138.1,249.1 138.3,248.7 138.6,252.0 138.8,250.8 139.1,256.2 139.3,253.8 139.6,259.6 139.8,257.4 140.1,258.3 140.3,260.6 140.6,260.6 140.8,263.1 141.1,262.5 141.3,265.1 141.6,263.6 141.8,264.4 142.1,266.8 142.3,266.9 142.6,266.8 142.8,267.8 143.1,267.9 143.3,268.4 143.6,268.5 143.8,270.2 144.1,270.2 144.3,270.2 144.6,270.2 144.8,270.2 145.1,270.2 145.3,270.2 145.6,270.2 145.8,270.2 146.1,270.2 146.3,270.2 146.6,270.2 146.8,270.2 147.1,270.2 147.3,270.2 147.6,270.2 147.8,270.2 148.1,270.2 148.3,270.2 148.6,270.2 148.8,270.2 149.1,270.2 149.3,270.2 149.6,270.2 149.8,270.2 150.1,270.2 150.3,270.2 150.6,270.2 150.8,270.2 151.1,270.2 151.3,270.2 151.6,270.2 151.8,270.2 152.1,270.2 152.3,270.2 152.6,270.2 152.8,270.2 153.1,270.2 153.3,270.2 153.6,270.2 153.8,270.2 154.1,270.2 154.3,270.2 154.6,270.2 154.8,270.2 155.1,270.2 155.3,270.2 155.6,270.2 155.8,270.2 156.1,270.2 156.3,270.2 156.6,270.2 156.8,270.2 157.1,270.2 157.3,270.2 157.6,270.2 157.8,270.2 158.1,270.2 158.3,270.2 158.6,270.2 158.8,270.2 159.1,270.2 159.3,270.2 159.6,270.2 159.8,270.2 160.1,270.2 160.3,270.2 160.6,270.2 160.8,270.2 161.1,270.2 161.3,270.2 161.6,270.2 161.8,270.2 162.1,270.2 162.3,270.2 162.6,270.2 162.8,270.2 163.1,270.2 163.3,270.2 163.6,270.2 163.8,270.2 164.1,270.2 164.3,270.2 164.6,270.2 164.8,270.2 165.1,270.2 165.3,270.2 165.6,270.2 165.8,270.2 166.1,270.2 166.3,270.2 166.6,270.2 166.8,270.2 167.1,270.2 167.3,270.2 167.6,270.2 167.8,270.2 168.1,270.2 168.3,270.2 168.6,270.2 168.8,270.2 169.1,270.2 169.3,270.2 169.6,270.2 169.8,270.2 170.1,270.2 170.3,270.2 170.6,270.2 170.8,270.2 171.1,270.2 171.3,270.2 171.6,270.2 171.8,270.2 172.1,270.2 172.3,270.2 172.6,270.2 172.8,270.2 173.1,270.2 173.3,270.2 173.6,270.2 173.8,270.2 174.1,270.2 174.3,270.2 174.6,270.2 174.8,270.2 175.1,270.2 175.3,270.2 175.6,270.2 175.8,270.2 176.1,270.2 176.3,270.2 176.6,270.2 176.8,270.2 177.1,270.2 177.3,270.2 177.6,270.2 177.8,270.2 178.1,270.2 178.3,270.2 178.6,270.2 178.8,270.2 179.1,270.2 179.3,270.2 179.6,270.2 179.8,270.2 180.1,270.2 180.3,270.2 180.6,270.2 180.8,270.2 181.1,270.2 181.3,270.2 181.6,270.2 181.8,270.2 182.1,270.2 182.3,270.2 182.6,270.2 182.8,270.2 183.1,270.2 183.3,270.2 183.6,270.2 183.8,270.2 184.1,270.2 184.3,270.2 184.6,270.2 184.8,270.2 185.1,270.2 185.3,270.2 185.6,270.2 185.8,270.2 186.1,270.2 186.3,270.2 186.6,270.2 186.8,270.2 187.1,270.2 187.3,270.2 187.6,270.2 187.8,270.2 188.1,270.2 188.3,270.2 188.6,270.2 188.8,270.2 189.1,270.2 189.3,270.2 189.6,270.2 189.8,270.2 190.1,270.2 190.3,270.2 190.6,270.2 190.8,270.2 191.1,270.2 191.3,270.2 191.6,270.2 191.8,270.2 192.1,270.2 192.3,270.2 192.6,270.2 192.8,270.2" fill="none" stroke="#4f9a26" stroke-width="0.3" opacity="0.55"/>
<polyline points="122.3,270.2 122.7,270.2 123.1,270.2 123.5,270.2 123.9,270.2 124.3,270.2 124.7,270.2 125.1,270.2 125.5,270.1 125.9,270.1 126.3,269.8 126.7,268.7 127.1,268.7 127.5,268.4 127.9,267.9 128.3,266.6 128.7,265.8 129.1,264.4 129.5,263.1 129.9,262.9 130.3,259.3 130.7,257.7 131.1,255.7 131.5,256.2 131.9,253.3 132.3,250.5 132.7,250.5 133.1,249.5 133.5,248.5 133.9,246.8 134.3,244.2 134.7,240.4 135.1,239.7 135.5,239.9 135.9,241.9 136.3,242.5 136.7,240.6 137.1,245.3 137.5,244.0 137.9,248.0 138.3,246.4 138.7,250.9 139.1,250.4 139.5,253.6 139.9,257.0 140.3,259.5 140.7,259.4 141.1,262.6 141.5,263.7 141.9,264.9 142.3,266.3 142.7,266.8 143.1,267.8 143.5,268.4 143.9,268.7 144.3,269.8 144.7,269.4 145.1,269.6 145.5,270.2 145.9,270.2 146.3,270.2 146.7,270.2 147.1,270.2 147.5,270.2 147.9,270.2 148.3,270.2 148.7,270.2 149.1,270.2 149.5,270.2 149.9,270.2 150.3,270.2 150.7,270.2 151.1,270.2 151.5,270.2 151.9,270.2 152.3,270.2 152.7,270.2 153.1,270.2 153.5,270.2 153.9,270.2 154.3,270.2 154.7,270.2 155.1,270.2 155.5,270.2 155.9,270.2 156.3,270.2 156.7,270.2 157.1,270.2 157.5,270.2 157.9,270.2 158.3,270.2 158.7,270.2 159.1,270.2 159.5,270.2 159.9,270.2 160.3,270.2 160.7,270.2 161.1,270.2 161.5,270.2 161.9,270.2 162.3,270.2 162.7,270.2 163.1,270.2 163.5,270.2 163.9,270.2 164.3,270.2 164.7,270.2 165.1,270.2 165.5,270.2 165.9,270.2 166.3,270.2 166.7,270.2 167.1,270.2 167.5,270.2 167.9,270.2 168.3,270.2 168.7,270.2 169.1,270.2 169.5,270.2 169.9,270.2 170.3,270.2 170.7,270.2 171.1,270.2 171.5,270.2 171.9,270.2 172.3,270.2 172.7,270.2 173.1,270.2 173.5,270.2 173.9,270.2 174.3,270.2 174.7,270.2 175.1,270.2 175.5,270.2 175.9,270.2 176.3,270.2 176.7,270.2 177.1,270.2 177.5,270.2 177.9,270.2 178.3,270.2 178.7,270.2 179.1,270.2 179.5,270.2 179.9,270.2 180.3,270.2 180.7,270.2 181.1,270.2 181.5,270.2 181.9,270.2 182.3,270.2 182.7,270.2 183.1,270.2 183.5,270.2 183.9,270.2 184.3,270.2 184.7,270.2 185.1,270.2 185.5,270.2 185.9,270.2 186.3,270.2 186.7,270.2 187.1,270.2 187.5,270.2 187.9,270.2 188.3,270.2 188.7,270.2 189.1,270.2 189.5,270.2 189.9,270.2 190.3,270.2 190.7,270.2 191.1,270.2 191.5,270.2 191.9,270.2 192.3,270.2 192.7,270.2" fill="none" stroke="#4f9a26" stroke-width="1.5" stroke-linejoin="round" opacity="1.0"/>
<polyline points="122.3,270.2 122.7,270.2 123.1,270.2 123.5,270.2 123.9,270.2 124.3,270.2 124.7,270.2 125.1,270.2 125.5,270.2 125.9,270.2 126.3,269.0 126.7,269.8 127.1,267.9 127.5,268.7 127.9,268.2 128.3,267.4 128.7,266.3 129.1,263.8 129.5,262.2 129.9,261.9 130.3,260.1 130.7,260.8 131.1,256.0 131.5,255.6 131.9,252.6 132.3,250.4 132.7,252.4 133.1,246.1 133.5,244.9 133.9,245.0 134.3,242.0 134.7,241.5 135.1,243.9 135.5,237.7 135.9,239.6 136.3,238.8 136.7,241.5 137.1,240.1 137.5,244.7 137.9,245.2 138.3,246.6 138.7,249.9 139.1,249.9 139.5,256.5 139.9,255.3 140.3,258.7 140.7,261.2 141.1,261.8 141.5,263.6 141.9,265.5 142.3,266.5 142.7,266.8 143.1,268.5 143.5,269.4 143.9,269.7 144.3,270.2 144.7,269.6 145.1,270.2 145.5,270.2 145.9,270.2 146.3,270.2 146.7,270.2 147.1,270.2 147.5,270.2 147.9,270.2 148.3,270.2 148.7,270.2 149.1,270.2 149.5,270.2 149.9,270.2 150.3,270.2 150.7,270.2 151.1,270.2 151.5,270.2 151.9,270.2 152.3,270.2 152.7,270.2 153.1,270.2 153.5,270.2 153.9,270.2 154.3,270.2 154.7,270.2 155.1,270.2 155.5,270.2 155.9,270.2 156.3,270.2 156.7,270.2 157.1,270.2 157.5,270.2 157.9,270.2 158.3,270.2 158.7,270.2 159.1,270.2 159.5,270.2 159.9,270.2 160.3,270.2 160.7,270.2 161.1,270.2 161.5,270.2 161.9,270.2 162.3,270.2 162.7,270.2 163.1,270.2 163.5,270.2 163.9,270.2 164.3,270.2 164.7,270.2 165.1,270.2 165.5,270.2 165.9,270.2 166.3,270.2 166.7,270.2 167.1,270.2 167.5,270.2 167.9,270.2 168.3,270.2 168.7,270.2 169.1,270.2 169.5,270.2 169.9,270.2 170.3,270.2 170.7,270.2 171.1,270.2 171.5,270.2 171.9,270.2 172.3,270.2 172.7,270.2 173.1,270.2 173.5,270.2 173.9,270.2 174.3,270.2 174.7,270.2 175.1,270.2 175.5,270.2 175.9,270.2 176.3,270.2 176.7,270.2 177.1,270.2 177.5,270.2 177.9,270.2 178.3,270.2 178.7,270.2 179.1,270.2 179.5,270.2 179.9,270.2 180.3,270.2 180.7,270.2 181.1,270.2 181.5,270.2 181.9,270.2 182.3,270.2 182.7,270.2 183.1,270.2 183.5,270.2 183.9,270.2 184.3,270.2 184.7,270.2 185.1,270.2 185.5,270.2 185.9,270.2 186.3,270.2 186.7,270.2 187.1,270.2 187.5,270.2 187.9,270.2 188.3,270.2 188.7,270.2 189.1,270.2 189.5,270.2 189.9,270.2 190.3,270.2 190.7,270.2 191.1,270.2 191.5,270.2 191.9,270.2 192.3,270.2 192.7,270.2" fill="none" stroke="#4f9a26" stroke-width="0.6" stroke-linejoin="round" opacity="0.70"/>
<polyline points="122.3,270.2 122.5,270.2 122.8,270.2 123.0,270.2 123.3,270.2 123.5,270.2 123.8,270.2 124.0,270.2 124.3,270.2 124.5,270.2 124.8,270.2 125.0,270.2 125.3,270.2 125.5,270.2 125.8,270.2 126.0,270.2 126.3,270.2 126.5,270.2 126.8,270.2 127.0,270.2 127.3,270.2 127.5,270.2 127.8,270.2 128.1,270.2 128.3,270.2 128.6,270.2 128.8,270.2 129.1,270.2 129.3,270.2 129.6,270.2 129.8,270.2 130.1,270.2 130.3,270.2 130.6,270.2 130.8,270.2 131.1,270.2 131.3,270.2 131.6,270.2 131.8,270.2 132.1,270.2 132.3,270.2 132.6,270.2 132.8,270.2 133.1,270.2 133.3,270.2 133.6,270.2 133.8,270.2 134.1,270.2 134.3,270.2 134.6,270.2 134.8,270.2 135.1,270.2 135.3,270.2 135.6,270.2 135.8,270.2 136.1,270.2 136.3,270.2 136.6,270.2 136.8,270.2 137.1,270.2 137.3,270.2 137.6,270.2 137.8,270.2 138.1,270.2 138.3,270.2 138.6,270.2 138.8,270.2 139.1,270.2 139.3,270.2 139.6,270.2 139.8,270.2 140.1,270.2 140.3,270.2 140.6,270.2 140.8,270.2 141.1,270.2 141.3,270.2 141.6,270.2 141.8,270.2 142.1,270.2 142.3,270.2 142.6,270.2 142.8,270.2 143.1,270.2 143.3,270.2 143.6,270.2 143.8,270.2 144.1,270.2 144.3,270.2 144.6,270.2 144.8,270.2 145.1,270.2 145.3,270.2 145.6,270.2 145.8,270.2 146.1,270.2 146.3,270.2 146.6,270.2 146.8,270.2 147.1,270.2 147.3,270.2 147.6,270.2 147.8,270.2 148.1,270.2 148.3,270.2 148.6,270.2 148.8,270.2 149.1,270.2 149.3,270.2 149.6,268.7 149.8,269.0 150.1,268.5 150.3,268.4 150.6,268.1 150.8,268.2 151.1,268.7 151.3,268.2 151.6,268.3 151.8,268.0 152.1,267.7 152.3,267.7 152.6,267.8 152.8,267.4 153.1,267.6 153.3,266.9 153.6,267.3 153.8,266.9 154.1,267.3 154.3,267.3 154.6,267.7 154.8,267.6 155.1,267.6 155.3,266.9 155.6,266.6 155.8,267.4 156.1,266.2 156.3,266.6 156.6,266.0 156.8,267.2 157.1,267.0 157.3,267.2 157.6,265.9 157.8,267.0 158.1,266.7 158.3,266.3 158.6,266.0 158.8,266.5 159.1,265.7 159.3,266.5 159.6,266.3 159.8,264.7 160.1,264.8 160.3,264.1 160.6,265.0 160.8,264.4 161.1,262.4 161.3,261.6 161.6,260.6 161.8,261.2 162.1,260.4 162.3,259.3 162.6,257.8 162.8,257.6 163.1,252.3 163.3,254.2 163.6,254.5 163.8,253.7 164.1,253.3 164.3,247.0 164.6,252.3 164.8,251.8 165.1,247.4 165.3,248.6 165.6,241.0 165.8,240.0 166.1,239.7 166.3,242.9 166.6,246.9 166.8,240.1 167.1,247.2 167.3,246.0 167.6,236.8 167.8,237.1 168.1,248.9 168.3,243.6 168.6,247.4 168.8,249.0 169.1,243.9 169.3,241.9 169.6,251.3 169.8,252.8 170.1,249.0 170.3,252.3 170.6,248.3 170.8,256.5 171.1,255.2 171.3,258.6 171.6,257.7 171.8,256.9 172.1,257.2 172.3,259.8 172.6,262.2 172.8,261.8 173.1,262.6 173.3,262.5 173.6,263.1 173.8,264.1 174.1,265.0 174.3,266.0 174.6,267.3 174.8,266.7 175.1,267.1 175.3,268.2 175.6,268.7 175.8,268.3 176.1,268.7 176.3,270.2 176.6,270.2 176.8,270.2 177.1,270.2 177.3,270.2 177.6,270.2 177.8,270.2 178.1,270.2 178.3,270.2 178.6,270.2 178.8,270.2 179.1,270.2 179.3,270.2 179.6,270.2 179.8,270.2 180.1,270.2 180.3,270.2 180.6,270.2 180.8,270.2 181.1,270.2 181.3,270.2 181.6,270.2 181.8,270.2 182.1,270.2 182.3,270.2 182.6,270.2 182.8,270.2 183.1,270.2 183.3,270.2 183.6,270.2 183.8,270.2 184.1,270.2 184.3,270.2 184.6,270.2 184.8,270.2 185.1,270.2 185.3,270.2 185.6,270.2 185.8,270.2 186.1,270.2 186.3,270.2 186.6,270.2 186.8,270.2 187.1,270.2 187.3,270.2 187.6,270.2 187.8,270.2 188.1,270.2 188.3,270.2 188.6,270.2 188.8,270.2 189.1,270.2 189.3,270.2 189.6,270.2 189.8,270.2 190.1,270.2 190.3,270.2 190.6,270.2 190.8,270.2 191.1,270.2 191.3,270.2 191.6,270.2 191.8,270.2 192.1,270.2 192.3,270.2 192.6,270.2 192.8,270.2" fill="none" stroke="#661e78" stroke-width="0.3" opacity="0.55"/>
<polyline points="122.3,270.2 122.7,270.2 123.1,270.2 123.5,270.2 123.9,270.2 124.3,270.2 124.7,270.2 125.1,270.2 125.5,270.2 125.9,270.2 126.3,270.2 126.7,270.2 127.1,270.2 127.5,270.2 127.9,270.2 128.3,270.2 128.7,270.2 129.1,270.2 129.5,270.2 129.9,270.2 130.3,270.2 130.7,270.2 131.1,270.2 131.5,270.2 131.9,270.2 132.3,270.2 132.7,270.2 133.1,270.2 133.5,270.2 133.9,270.2 134.3,270.2 134.7,270.2 135.1,270.2 135.5,270.2 135.9,270.2 136.3,270.2 136.7,270.2 137.1,270.2 137.5,270.2 137.9,270.2 138.3,270.2 138.7,270.2 139.1,270.2 139.5,270.2 139.9,270.2 140.3,270.2 140.7,270.2 141.1,270.2 141.5,270.2 141.9,270.2 142.3,270.2 142.7,270.2 143.1,270.2 143.5,270.2 143.9,270.2 144.3,270.2 144.7,270.2 145.1,270.2 145.5,270.1 145.9,269.8 146.3,269.7 146.7,269.5 147.1,269.2 147.5,269.6 147.9,269.0 148.3,269.4 148.7,268.8 149.1,269.2 149.5,268.9 149.9,268.4 150.3,268.5 150.7,268.0 151.1,268.1 151.5,268.2 151.9,267.7 152.3,268.0 152.7,266.9 153.1,267.9 153.5,267.6 153.9,266.7 154.3,267.2 154.7,266.7 155.1,266.3 155.5,265.8 155.9,266.9 156.3,266.4 156.7,266.2 157.1,265.9 157.5,266.0 157.9,265.7 158.3,265.9 158.7,265.0 159.1,265.7 159.5,265.3 159.9,264.5 160.3,263.6 160.7,262.5 161.1,261.6 161.5,260.0 161.9,259.4 162.3,255.2 162.7,255.7 163.1,254.3 163.5,250.4 163.9,246.6 164.3,246.6 164.7,244.4 165.1,240.7 165.5,239.9 165.9,237.6 166.3,239.0 166.7,232.7 167.1,237.3 167.5,236.0 167.9,239.1 168.3,239.9 168.7,240.9 169.1,242.9 169.5,242.2 169.9,244.9 170.3,248.5 170.7,250.5 171.1,251.1 171.5,254.1 171.9,256.3 172.3,257.7 172.7,260.0 173.1,261.8 173.5,263.3 173.9,264.2 174.3,265.5 174.7,265.7 175.1,266.8 175.5,267.9 175.9,269.0 176.3,269.5 176.7,269.0 177.1,270.2 177.5,269.7 177.9,270.2 178.3,270.2 178.7,270.2 179.1,270.2 179.5,270.2 179.9,270.2 180.3,270.2 180.7,270.2 181.1,270.2 181.5,270.2 181.9,270.2 182.3,270.2 182.7,270.2 183.1,270.2 183.5,270.2 183.9,270.2 184.3,270.2 184.7,270.2 185.1,270.2 185.5,270.2 185.9,270.2 186.3,270.2 186.7,270.2 187.1,270.2 187.5,270.2 187.9,270.2 188.3,270.2 188.7,270.2 189.1,270.2 189.5,270.2 189.9,270.2 190.3,270.2 190.7,270.2 191.1,270.2 191.5,270.2 191.9,270.2 192.3,270.2 192.7,270.2" fill="none" stroke="#661e78" stroke-width="1.5" stroke-linejoin="round" opacity="1.0"/>
<polyline points="122.3,270.2 122.7,270.2 123.1,270.2 123.5,270.2 123.9,270.2 124.3,270.2 124.7,270.2 125.1,270.2 125.5,270.2 125.9,270.2 126.3,270.2 126.7,270.2 127.1,270.2 127.5,270.2 127.9,270.2 128.3,270.2 128.7,270.2 129.1,270.2 129.5,270.2 129.9,270.2 130.3,270.2 130.7,270.2 131.1,270.2 131.5,270.2 131.9,270.2 132.3,270.2 132.7,270.2 133.1,270.2 133.5,270.2 133.9,270.2 134.3,270.2 134.7,270.2 135.1,270.2 135.5,270.2 135.9,270.2 136.3,270.2 136.7,270.2 137.1,270.2 137.5,270.2 137.9,270.2 138.3,270.2 138.7,270.2 139.1,270.2 139.5,270.2 139.9,270.2 140.3,270.2 140.7,270.2 141.1,270.2 141.5,270.2 141.9,270.2 142.3,270.2 142.7,270.2 143.1,270.2 143.5,270.2 143.9,270.2 144.3,270.2 144.7,270.2 145.1,269.3 145.5,270.2 145.9,269.5 146.3,269.1 146.7,269.0 147.1,268.9 147.5,269.4 147.9,269.1 148.3,268.7 148.7,269.8 149.1,269.4 149.5,269.7 149.9,268.9 150.3,268.2 150.7,267.4 151.1,268.2 151.5,267.4 151.9,268.1 152.3,267.6 152.7,268.2 153.1,268.2 153.5,267.0 153.9,267.3 154.3,266.3 154.7,266.7 155.1,265.3 155.5,265.8 155.9,266.1 156.3,267.1 156.7,266.2 157.1,265.6 157.5,266.3 157.9,266.4 158.3,266.3 158.7,266.2 159.1,265.5 159.5,264.0 159.9,264.3 160.3,263.8 160.7,263.8 161.1,262.0 161.5,260.1 161.9,258.6 162.3,257.4 162.7,252.8 163.1,250.1 163.5,249.0 163.9,249.3 164.3,247.6 164.7,243.5 165.1,238.9 165.5,236.5 165.9,237.7 166.3,236.1 166.7,234.5 167.1,232.9 167.5,239.6 167.9,235.3 168.3,239.5 168.7,238.8 169.1,241.6 169.5,238.8 169.9,245.3 170.3,245.7 170.7,246.4 171.1,248.9 171.5,254.9 171.9,257.9 172.3,259.1 172.7,260.2 173.1,260.2 173.5,263.8 173.9,264.9 174.3,266.1 174.7,267.1 175.1,268.1 175.5,267.3 175.9,267.6 176.3,269.8 176.7,269.3 177.1,270.1 177.5,269.7 177.9,270.2 178.3,270.2 178.7,270.2 179.1,270.2 179.5,270.2 179.9,270.2 180.3,270.2 180.7,270.2 181.1,270.2 181.5,270.2 181.9,270.2 182.3,270.2 182.7,270.2 183.1,270.2 183.5,270.2 183.9,270.2 184.3,270.2 184.7,270.2 185.1,270.2 185.5,270.2 185.9,270.2 186.3,270.2 186.7,270.2 187.1,270.2 187.5,270.2 187.9,270.2 188.3,270.2 188.7,270.2 189.1,270.2 189.5,270.2 189.9,270.2 190.3,270.2 190.7,270.2 191.1,270.2 191.5,270.2 191.9,270.2 192.3,270.2 192.7,270.2" fill="none" stroke="#661e78" stroke-width="0.6" stroke-linejoin="round" opacity="0.70"/>
</g>
<line x1="125" y1="282.6" x2="188.3" y2="282.6" stroke="#111" stroke-width="1"/>
<polygon points="191.3,282.6 187.3,280.90000000000003 187.3,284.3" fill="#111"/>
<text x="158.00" y="291.80" font-size="7.2" text-anchor="middle" font-weight="normal" fill="#222" >CD24</text>
<rect x="212.5" y="213" width="72.0" height="58.19999999999999" fill="#fff" stroke="#9a9a9a" stroke-width="0.6"/>
<text x="211.00" y="272.10" font-size="3.9" text-anchor="end" font-weight="normal" fill="#444" >0</text>
<line x1="211.7" y1="270.70" x2="212.5" y2="270.70" stroke="#999" stroke-width="0.4"/>
<text x="211.00" y="263.45" font-size="3.9" text-anchor="end" font-weight="normal" fill="#444" >20</text>
<line x1="211.7" y1="262.05" x2="212.5" y2="262.05" stroke="#999" stroke-width="0.4"/>
<text x="211.00" y="254.80" font-size="3.9" text-anchor="end" font-weight="normal" fill="#444" >40</text>
<line x1="211.7" y1="253.40" x2="212.5" y2="253.40" stroke="#999" stroke-width="0.4"/>
<text x="211.00" y="246.15" font-size="3.9" text-anchor="end" font-weight="normal" fill="#444" >60</text>
<line x1="211.7" y1="244.75" x2="212.5" y2="244.75" stroke="#999" stroke-width="0.4"/>
<text x="211.00" y="237.50" font-size="3.9" text-anchor="end" font-weight="normal" fill="#444" >80</text>
<line x1="211.7" y1="236.10" x2="212.5" y2="236.10" stroke="#999" stroke-width="0.4"/>
<text x="211.00" y="228.85" font-size="3.9" text-anchor="end" font-weight="normal" fill="#444" >100</text>
<line x1="211.7" y1="227.45" x2="212.5" y2="227.45" stroke="#999" stroke-width="0.4"/>
<text x="211.00" y="220.20" font-size="3.9" text-anchor="end" font-weight="normal" fill="#444" >120</text>
<line x1="211.7" y1="218.80" x2="212.5" y2="218.80" stroke="#999" stroke-width="0.4"/>
<text x="209.40" y="278.60" font-size="3.9" fill="#555">10<tspan font-size="2.8" dy="-1.5">2</tspan></text>
<line x1="212.50" y1="271.2" x2="212.50" y2="272.0" stroke="#999" stroke-width="0.4"/>
<text x="224.70" y="278.60" font-size="3.9" fill="#555">10<tspan font-size="2.8" dy="-1.5">3</tspan></text>
<line x1="227.80" y1="271.2" x2="227.80" y2="272.0" stroke="#999" stroke-width="0.4"/>
<text x="240.00" y="278.60" font-size="3.9" fill="#555">10<tspan font-size="2.8" dy="-1.5">4</tspan></text>
<line x1="243.10" y1="271.2" x2="243.10" y2="272.0" stroke="#999" stroke-width="0.4"/>
<text x="255.30" y="278.60" font-size="3.9" fill="#555">10<tspan font-size="2.8" dy="-1.5">5</tspan></text>
<line x1="258.40" y1="271.2" x2="258.40" y2="272.0" stroke="#999" stroke-width="0.4"/>
<text x="270.60" y="278.60" font-size="3.9" fill="#555">10<tspan font-size="2.8" dy="-1.5">6</tspan></text>
<line x1="273.70" y1="271.2" x2="273.70" y2="272.0" stroke="#999" stroke-width="0.4"/>
<defs><clipPath id="cp212_213"><rect x="212.5" y="213" width="72.0" height="58.20"/></clipPath></defs>
<g clip-path="url(#cp212_213)">
<polyline points="212.8,267.3 213.1,266.9 213.3,267.7 213.6,266.5 213.8,267.1 214.1,267.3 214.3,266.8 214.6,266.4 214.8,266.8 215.1,266.3 215.3,266.9 215.6,267.1 215.8,267.0 216.1,266.9 216.3,265.7 216.6,265.9 216.8,266.6 217.1,266.4 217.3,266.8 217.6,265.7 217.8,264.7 218.1,264.5 218.3,264.2 218.6,265.0 218.8,264.2 219.1,263.0 219.3,265.1 219.6,262.1 219.8,262.5 220.1,263.5 220.3,262.7 220.6,260.3 220.8,262.8 221.1,260.0 221.3,261.1 221.6,258.5 221.8,259.0 222.1,260.1 222.3,254.3 222.6,256.6 222.8,256.1 223.1,257.9 223.3,254.8 223.6,251.7 223.8,250.0 224.1,252.5 224.3,248.7 224.6,249.6 224.8,254.3 225.1,246.9 225.3,246.6 225.6,250.4 225.8,248.5 226.1,252.0 226.3,246.1 226.6,250.1 226.8,246.5 227.1,252.1 227.3,251.3 227.6,244.0 227.8,246.0 228.1,247.4 228.3,248.0 228.6,249.9 228.8,251.7 229.1,248.3 229.3,253.6 229.6,256.1 229.8,254.7 230.1,255.3 230.3,256.8 230.6,260.0 230.8,259.2 231.1,261.0 231.3,262.6 231.6,264.9 231.8,265.9 232.1,266.3 232.3,266.4 232.6,267.4 232.8,267.7 233.1,269.1 233.3,269.1 233.6,270.4 233.8,270.4 234.1,270.4 234.3,270.4 234.6,270.4 234.8,270.4 235.1,270.4 235.3,270.4 235.6,270.4 235.8,270.4 236.1,270.4 236.3,270.4 236.6,270.4 236.8,270.4 237.1,270.4 237.3,270.4 237.6,270.4 237.8,270.4 238.1,270.4 238.3,270.4 238.6,270.4 238.8,270.4 239.1,270.4 239.3,270.4 239.6,270.4 239.8,270.4 240.1,270.4 240.3,270.4 240.6,270.4 240.8,270.4 241.1,270.4 241.3,270.4 241.6,270.4 241.8,270.4 242.1,270.4 242.3,270.4 242.6,270.4 242.8,270.4 243.1,270.4 243.3,270.4 243.6,270.4 243.8,270.4 244.1,270.4 244.3,270.4 244.6,270.4 244.8,270.4 245.1,270.4 245.3,270.4 245.6,270.4 245.8,270.4 246.1,270.4 246.3,270.4 246.6,270.4 246.8,270.4 247.1,270.4 247.3,270.4 247.6,270.4 247.8,270.4 248.1,270.4 248.3,270.4 248.6,270.4 248.8,270.4 249.1,270.4 249.3,270.4 249.6,270.4 249.8,270.4 250.1,270.4 250.3,270.4 250.6,270.4 250.8,270.4 251.1,270.4 251.3,270.4 251.6,270.4 251.8,270.4 252.1,270.4 252.3,270.4 252.6,270.4 252.8,270.4 253.1,270.4 253.3,270.4 253.6,270.4 253.8,270.4 254.1,270.4 254.3,270.4 254.6,270.4 254.8,270.4 255.1,270.4 255.3,270.4 255.6,270.4 255.8,270.4 256.1,270.4 256.3,270.4 256.6,270.4 256.8,270.4 257.1,270.4 257.3,270.4 257.6,270.4 257.8,270.4 258.1,270.4 258.3,270.4 258.6,270.4 258.8,270.4 259.1,270.4 259.3,270.4 259.6,270.4 259.8,270.4 260.1,270.4 260.3,270.4 260.6,270.4 260.8,270.4 261.1,270.4 261.3,270.4 261.6,270.4 261.8,270.4 262.1,270.4 262.3,270.4 262.6,270.4 262.8,270.4 263.1,270.4 263.3,270.4 263.6,270.4 263.8,270.4 264.1,270.4 264.3,270.4 264.6,270.4 264.8,270.4 265.1,270.4 265.3,270.4 265.6,270.4 265.8,270.4 266.1,270.4 266.3,270.4 266.6,270.4 266.8,270.4 267.1,270.4 267.3,270.4 267.6,270.4 267.8,270.4 268.1,270.4 268.3,270.4 268.6,270.4 268.8,270.4 269.1,270.4 269.3,270.4 269.6,270.4 269.8,270.4 270.1,270.4 270.3,270.4 270.6,270.4 270.8,270.4 271.1,270.4 271.3,270.4 271.6,270.4 271.8,270.4 272.1,270.4 272.3,270.4 272.6,270.4 272.8,270.4 273.1,270.4 273.3,270.4 273.6,270.4 273.8,270.4 274.1,270.4 274.3,270.4 274.6,270.4 274.8,270.4 275.1,270.4 275.3,270.4 275.6,270.4 275.8,270.4 276.1,270.4 276.3,270.4 276.6,270.4 276.8,270.4 277.1,270.4 277.3,270.4 277.6,270.4 277.8,270.4 278.1,270.4 278.3,270.4 278.6,270.4 278.8,270.4 279.1,270.4 279.3,270.4 279.6,270.4 279.8,270.4 280.1,270.4 280.3,270.4 280.6,270.4 280.8,270.4 281.1,270.4 281.3,270.4 281.6,270.4 281.8,270.4 282.1,270.4 282.3,270.4 282.6,270.4 282.8,270.4 283.1,270.4 283.3,270.4 283.6,270.4 283.8,270.4 284.1,270.4" fill="none" stroke="#b8b8b8" stroke-width="0.3" opacity="0.55"/>
<polyline points="212.8,267.5 213.2,267.2 213.6,266.4 214.0,266.4 214.4,266.8 214.8,266.0 215.2,265.7 215.6,266.3 216.0,266.3 216.4,266.0 216.8,265.6 217.2,265.3 217.6,265.1 218.0,264.5 218.4,263.8 218.8,264.0 219.2,262.3 219.6,262.1 220.0,260.2 220.4,259.3 220.8,260.0 221.2,257.2 221.6,256.2 222.0,255.3 222.4,254.9 222.8,250.9 223.2,251.3 223.6,249.8 224.0,246.9 224.4,249.9 224.8,248.1 225.2,243.7 225.6,246.0 226.0,244.4 226.4,243.9 226.8,240.0 227.2,240.9 227.6,243.8 228.0,243.9 228.4,245.5 228.8,246.6 229.2,249.7 229.6,250.3 230.0,252.2 230.4,255.2 230.8,258.4 231.2,262.5 231.6,264.2 232.0,265.9 232.4,267.2 232.8,268.1 233.2,269.0 233.6,269.6 234.0,270.2 234.4,270.2 234.8,270.4 235.2,270.4 235.6,270.4 236.0,270.4 236.4,270.4 236.8,270.4 237.2,270.4 237.6,270.4 238.0,270.4 238.4,270.4 238.8,270.4 239.2,270.4 239.6,270.4 240.0,270.4 240.4,270.4 240.8,270.4 241.2,270.4 241.6,270.4 242.0,270.4 242.4,270.4 242.8,270.4 243.2,270.4 243.6,270.4 244.0,270.4 244.4,270.4 244.8,270.4 245.2,270.4 245.6,270.4 246.0,270.4 246.4,270.4 246.8,270.4 247.2,270.4 247.6,270.4 248.0,270.4 248.4,270.4 248.8,270.4 249.2,270.4 249.6,270.4 250.0,270.4 250.4,270.4 250.8,270.4 251.2,270.4 251.6,270.4 252.0,270.4 252.4,270.4 252.8,270.4 253.2,270.4 253.6,270.4 254.0,270.4 254.4,270.4 254.8,270.4 255.2,270.4 255.6,270.4 256.0,270.4 256.4,270.4 256.8,270.4 257.2,270.4 257.6,270.4 258.0,270.4 258.4,270.4 258.8,270.4 259.2,270.4 259.6,270.4 260.0,270.4 260.4,270.4 260.8,270.4 261.2,270.4 261.6,270.4 262.0,270.4 262.4,270.4 262.8,270.4 263.2,270.4 263.6,270.4 264.0,270.4 264.4,270.4 264.8,270.4 265.2,270.4 265.6,270.4 266.0,270.4 266.4,270.4 266.8,270.4 267.2,270.4 267.6,270.4 268.0,270.4 268.4,270.4 268.8,270.4 269.2,270.4 269.6,270.4 270.0,270.4 270.4,270.4 270.8,270.4 271.2,270.4 271.6,270.4 272.0,270.4 272.4,270.4 272.8,270.4 273.2,270.4 273.6,270.4 274.0,270.4 274.4,270.4 274.8,270.4 275.2,270.4 275.6,270.4 276.0,270.4 276.4,270.4 276.8,270.4 277.2,270.4 277.6,270.4 278.0,270.4 278.4,270.4 278.8,270.4 279.2,270.4 279.6,270.4 280.0,270.4 280.4,270.4 280.8,270.4 281.2,270.4 281.6,270.4 282.0,270.4 282.4,270.4 282.8,270.4 283.2,270.4 283.6,270.4 284.0,270.4" fill="none" stroke="#b8b8b8" stroke-width="1.7" stroke-linejoin="round" opacity="1.0"/>
<polyline points="212.8,267.3 213.2,266.5 213.6,265.5 214.0,266.9 214.4,267.3 214.8,265.8 215.2,266.7 215.6,265.1 216.0,265.5 216.4,265.0 216.8,264.8 217.2,266.6 217.6,264.2 218.0,265.0 218.4,265.2 218.8,264.5 219.2,263.3 219.6,261.5 220.0,261.3 220.4,260.1 220.8,257.8 221.2,257.3 221.6,257.9 222.0,254.3 222.4,252.2 222.8,252.1 223.2,251.5 223.6,249.4 224.0,247.8 224.4,250.0 224.8,244.7 225.2,245.8 225.6,247.7 226.0,240.7 226.4,241.9 226.8,243.7 227.2,238.6 227.6,243.4 228.0,240.3 228.4,246.6 228.8,242.6 229.2,246.8 229.6,252.5 230.0,253.0 230.4,257.0 230.8,259.4 231.2,261.8 231.6,264.0 232.0,265.6 232.4,267.0 232.8,267.5 233.2,269.3 233.6,270.4 234.0,269.7 234.4,269.9 234.8,270.4 235.2,270.4 235.6,270.4 236.0,270.4 236.4,270.4 236.8,270.4 237.2,270.4 237.6,270.4 238.0,270.4 238.4,270.4 238.8,270.4 239.2,270.4 239.6,270.4 240.0,270.4 240.4,270.4 240.8,270.4 241.2,270.4 241.6,270.4 242.0,270.4 242.4,270.4 242.8,270.4 243.2,270.4 243.6,270.4 244.0,270.4 244.4,270.4 244.8,270.4 245.2,270.4 245.6,270.4 246.0,270.4 246.4,270.4 246.8,270.4 247.2,270.4 247.6,270.4 248.0,270.4 248.4,270.4 248.8,270.4 249.2,270.4 249.6,270.4 250.0,270.4 250.4,270.4 250.8,270.4 251.2,270.4 251.6,270.4 252.0,270.4 252.4,270.4 252.8,270.4 253.2,270.4 253.6,270.4 254.0,270.4 254.4,270.4 254.8,270.4 255.2,270.4 255.6,270.4 256.0,270.4 256.4,270.4 256.8,270.4 257.2,270.4 257.6,270.4 258.0,270.4 258.4,270.4 258.8,270.4 259.2,270.4 259.6,270.4 260.0,270.4 260.4,270.4 260.8,270.4 261.2,270.4 261.6,270.4 262.0,270.4 262.4,270.4 262.8,270.4 263.2,270.4 263.6,270.4 264.0,270.4 264.4,270.4 264.8,270.4 265.2,270.4 265.6,270.4 266.0,270.4 266.4,270.4 266.8,270.4 267.2,270.4 267.6,270.4 268.0,270.4 268.4,270.4 268.8,270.4 269.2,270.4 269.6,270.4 270.0,270.4 270.4,270.4 270.8,270.4 271.2,270.4 271.6,270.4 272.0,270.4 272.4,270.4 272.8,270.4 273.2,270.4 273.6,270.4 274.0,270.4 274.4,270.4 274.8,270.4 275.2,270.4 275.6,270.4 276.0,270.4 276.4,270.4 276.8,270.4 277.2,270.4 277.6,270.4 278.0,270.4 278.4,270.4 278.8,270.4 279.2,270.4 279.6,270.4 280.0,270.4 280.4,270.4 280.8,270.4 281.2,270.4 281.6,270.4 282.0,270.4 282.4,270.4 282.8,270.4 283.2,270.4 283.6,270.4 284.0,270.4" fill="none" stroke="#b8b8b8" stroke-width="0.6" stroke-linejoin="round" opacity="0.70"/>
<polyline points="212.8,270.4 213.1,270.4 213.3,270.4 213.6,270.4 213.8,270.4 214.1,270.4 214.3,270.4 214.6,270.4 214.8,270.4 215.1,270.4 215.3,270.4 215.6,270.4 215.8,270.4 216.1,270.4 216.3,270.4 216.6,270.4 216.8,270.4 217.1,270.4 217.3,270.4 217.6,270.4 217.8,270.4 218.1,270.4 218.3,270.4 218.6,270.4 218.8,270.4 219.1,270.4 219.3,270.4 219.6,270.4 219.8,270.4 220.1,270.4 220.3,270.4 220.6,270.4 220.8,270.4 221.1,270.4 221.3,270.4 221.6,270.4 221.8,270.4 222.1,270.4 222.3,270.4 222.6,270.4 222.8,270.4 223.1,270.4 223.3,270.4 223.6,270.4 223.8,270.4 224.1,270.4 224.3,270.4 224.6,270.4 224.8,270.4 225.1,270.4 225.3,270.4 225.6,270.4 225.8,270.4 226.1,270.4 226.3,270.4 226.6,270.4 226.8,270.4 227.1,270.4 227.3,270.4 227.6,270.4 227.8,270.4 228.1,270.4 228.3,270.4 228.6,270.4 228.8,270.4 229.1,270.4 229.3,270.4 229.6,270.4 229.8,270.4 230.1,270.4 230.3,270.4 230.6,270.4 230.8,270.4 231.1,270.4 231.3,270.4 231.6,270.4 231.8,270.4 232.1,270.4 232.3,270.4 232.6,270.4 232.8,270.4 233.1,270.4 233.3,270.4 233.6,270.4 233.8,270.4 234.1,270.4 234.3,270.4 234.6,270.4 234.8,270.4 235.1,270.4 235.3,270.4 235.6,270.4 235.8,270.4 236.1,270.4 236.3,270.4 236.6,270.4 236.8,270.4 237.1,270.4 237.3,270.4 237.6,270.4 237.8,270.4 238.1,270.4 238.3,270.4 238.6,270.4 238.8,270.4 239.1,270.4 239.3,270.4 239.6,270.4 239.8,270.4 240.1,270.4 240.3,270.4 240.6,270.4 240.8,270.4 241.1,270.4 241.3,270.4 241.6,270.4 241.8,270.4 242.1,270.4 242.3,270.4 242.6,270.4 242.8,270.4 243.1,270.4 243.3,270.4 243.6,270.4 243.8,270.4 244.1,270.4 244.3,270.4 244.6,270.4 244.8,270.4 245.1,270.4 245.3,270.4 245.6,270.4 245.8,270.4 246.1,270.4 246.3,270.4 246.6,270.4 246.8,270.4 247.1,270.4 247.3,270.4 247.6,270.4 247.8,270.4 248.1,270.4 248.3,270.4 248.6,270.4 248.8,270.4 249.1,270.4 249.3,270.4 249.6,270.4 249.8,270.4 250.1,270.4 250.3,270.4 250.6,270.4 250.8,270.4 251.1,270.4 251.3,270.4 251.6,270.4 251.8,270.4 252.1,270.4 252.3,270.4 252.6,270.4 252.8,270.4 253.1,270.4 253.3,270.4 253.6,270.4 253.8,270.4 254.1,270.4 254.3,270.4 254.6,270.4 254.8,270.4 255.1,270.4 255.3,270.4 255.6,270.4 255.8,270.4 256.1,270.4 256.3,270.4 256.6,270.4 256.8,270.4 257.1,270.4 257.3,270.4 257.6,270.4 257.8,270.4 258.1,270.4 258.3,270.4 258.6,270.4 258.8,268.7 259.1,267.9 259.3,268.1 259.6,267.7 259.8,266.1 260.1,266.3 260.3,263.8 260.6,262.9 260.8,264.2 261.1,260.3 261.3,260.7 261.6,260.7 261.8,258.4 262.1,254.7 262.3,252.6 262.6,250.3 262.8,245.8 263.1,249.8 263.3,245.0 263.6,245.7 263.8,240.2 264.1,234.8 264.3,232.9 264.6,228.7 264.8,236.4 265.1,231.5 265.3,228.2 265.6,237.6 265.8,226.1 266.1,225.4 266.3,222.8 266.6,224.0 266.8,224.0 267.1,229.4 267.3,228.8 267.6,230.9 267.8,238.3 268.1,232.3 268.3,238.0 268.6,238.5 268.8,246.2 269.1,243.7 269.3,249.5 269.6,245.5 269.8,246.2 270.1,248.7 270.3,255.5 270.6,252.4 270.8,255.6 271.1,260.3 271.3,258.0 271.6,262.2 271.8,262.4 272.1,263.1 272.3,266.0 272.6,266.6 272.8,266.1 273.1,266.8 273.3,268.0 273.6,268.0 273.8,269.2 274.1,270.4 274.3,270.4 274.6,270.4 274.8,270.4 275.1,270.4 275.3,270.4 275.6,270.4 275.8,270.4 276.1,270.4 276.3,270.4 276.6,270.4 276.8,270.4 277.1,270.4 277.3,270.4 277.6,270.4 277.8,270.4 278.1,270.4 278.3,270.4 278.6,270.4 278.8,270.4 279.1,270.4 279.3,270.4 279.6,270.4 279.8,270.4 280.1,270.4 280.3,270.4 280.6,270.4 280.8,270.4 281.1,270.4 281.3,270.4 281.6,270.4 281.8,270.4 282.1,270.4 282.3,270.4 282.6,270.4 282.8,270.4 283.1,270.4 283.3,270.4 283.6,270.4 283.8,270.4 284.1,270.4" fill="none" stroke="#4f9a26" stroke-width="0.3" opacity="0.55"/>
<polyline points="212.8,270.4 213.2,270.4 213.6,270.4 214.0,270.4 214.4,270.4 214.8,270.4 215.2,270.4 215.6,270.4 216.0,270.4 216.4,270.4 216.8,270.4 217.2,270.4 217.6,270.4 218.0,270.4 218.4,270.4 218.8,270.4 219.2,270.4 219.6,270.4 220.0,270.4 220.4,270.4 220.8,270.4 221.2,270.4 221.6,270.4 222.0,270.4 222.4,270.4 222.8,270.4 223.2,270.4 223.6,270.4 224.0,270.4 224.4,270.4 224.8,270.4 225.2,270.4 225.6,270.4 226.0,270.4 226.4,270.4 226.8,270.4 227.2,270.4 227.6,270.4 228.0,270.4 228.4,270.4 228.8,270.4 229.2,270.4 229.6,270.4 230.0,270.4 230.4,270.4 230.8,270.4 231.2,270.4 231.6,270.4 232.0,270.4 232.4,270.4 232.8,270.4 233.2,270.4 233.6,270.4 234.0,270.4 234.4,270.4 234.8,270.4 235.2,270.4 235.6,270.4 236.0,270.4 236.4,270.4 236.8,270.4 237.2,270.4 237.6,270.4 238.0,270.4 238.4,270.4 238.8,270.4 239.2,270.4 239.6,270.4 240.0,270.4 240.4,270.4 240.8,270.4 241.2,270.4 241.6,270.4 242.0,270.4 242.4,270.4 242.8,270.4 243.2,270.4 243.6,270.4 244.0,270.4 244.4,270.4 244.8,270.4 245.2,270.4 245.6,270.4 246.0,270.4 246.4,270.4 246.8,270.4 247.2,270.4 247.6,270.4 248.0,270.4 248.4,270.4 248.8,270.4 249.2,270.4 249.6,270.4 250.0,270.4 250.4,270.4 250.8,270.4 251.2,270.4 251.6,270.4 252.0,270.4 252.4,270.4 252.8,270.4 253.2,270.4 253.6,270.4 254.0,270.4 254.4,270.4 254.8,270.4 255.2,270.4 255.6,270.4 256.0,270.4 256.4,270.4 256.8,270.4 257.2,270.4 257.6,269.9 258.0,269.6 258.4,269.0 258.8,269.1 259.2,267.9 259.6,266.6 260.0,265.0 260.4,264.4 260.8,262.1 261.2,257.9 261.6,254.7 262.0,251.7 262.4,249.1 262.8,243.9 263.2,239.2 263.6,237.1 264.0,233.4 264.4,231.2 264.8,226.9 265.2,226.0 265.6,218.9 266.0,215.6 266.4,222.6 266.8,223.1 267.2,219.7 267.6,222.9 268.0,229.2 268.4,234.1 268.8,236.3 269.2,240.4 269.6,245.0 270.0,246.0 270.4,250.6 270.8,255.0 271.2,256.1 271.6,259.5 272.0,263.2 272.4,263.7 272.8,266.1 273.2,267.0 273.6,267.8 274.0,269.3 274.4,269.6 274.8,270.0 275.2,270.4 275.6,270.4 276.0,270.4 276.4,270.4 276.8,270.4 277.2,270.4 277.6,270.4 278.0,270.4 278.4,270.4 278.8,270.4 279.2,270.4 279.6,270.4 280.0,270.4 280.4,270.4 280.8,270.4 281.2,270.4 281.6,270.4 282.0,270.4 282.4,270.4 282.8,270.4 283.2,270.4 283.6,270.4 284.0,270.4" fill="none" stroke="#4f9a26" stroke-width="1.5" stroke-linejoin="round" opacity="1.0"/>
<polyline points="212.8,270.4 213.2,270.4 213.6,270.4 214.0,270.4 214.4,270.4 214.8,270.4 215.2,270.4 215.6,270.4 216.0,270.4 216.4,270.4 216.8,270.4 217.2,270.4 217.6,270.4 218.0,270.4 218.4,270.4 218.8,270.4 219.2,270.4 219.6,270.4 220.0,270.4 220.4,270.4 220.8,270.4 221.2,270.4 221.6,270.4 222.0,270.4 222.4,270.4 222.8,270.4 223.2,270.4 223.6,270.4 224.0,270.4 224.4,270.4 224.8,270.4 225.2,270.4 225.6,270.4 226.0,270.4 226.4,270.4 226.8,270.4 227.2,270.4 227.6,270.4 228.0,270.4 228.4,270.4 228.8,270.4 229.2,270.4 229.6,270.4 230.0,270.4 230.4,270.4 230.8,270.4 231.2,270.4 231.6,270.4 232.0,270.4 232.4,270.4 232.8,270.4 233.2,270.4 233.6,270.4 234.0,270.4 234.4,270.4 234.8,270.4 235.2,270.4 235.6,270.4 236.0,270.4 236.4,270.4 236.8,270.4 237.2,270.4 237.6,270.4 238.0,270.4 238.4,270.4 238.8,270.4 239.2,270.4 239.6,270.4 240.0,270.4 240.4,270.4 240.8,270.4 241.2,270.4 241.6,270.4 242.0,270.4 242.4,270.4 242.8,270.4 243.2,270.4 243.6,270.4 244.0,270.4 244.4,270.4 244.8,270.4 245.2,270.4 245.6,270.4 246.0,270.4 246.4,270.4 246.8,270.4 247.2,270.4 247.6,270.4 248.0,270.4 248.4,270.4 248.8,270.4 249.2,270.4 249.6,270.4 250.0,270.4 250.4,270.4 250.8,270.4 251.2,270.4 251.6,270.4 252.0,270.4 252.4,270.4 252.8,270.4 253.2,270.4 253.6,270.4 254.0,270.4 254.4,270.4 254.8,270.4 255.2,270.4 255.6,270.4 256.0,270.4 256.4,270.4 256.8,270.4 257.2,270.4 257.6,270.0 258.0,270.4 258.4,269.3 258.8,268.7 259.2,268.2 259.6,267.4 260.0,265.7 260.4,262.9 260.8,261.3 261.2,258.6 261.6,255.3 262.0,249.8 262.4,248.9 262.8,247.1 263.2,238.9 263.6,239.7 264.0,236.4 264.4,232.4 264.8,229.9 265.2,222.5 265.6,225.6 266.0,213.8 266.4,213.0 266.8,215.7 267.2,221.9 267.6,220.0 268.0,229.0 268.4,225.1 268.8,234.2 269.2,239.3 269.6,239.1 270.0,249.4 270.4,250.8 270.8,255.5 271.2,257.9 271.6,261.7 272.0,262.7 272.4,265.0 272.8,266.4 273.2,266.0 273.6,268.8 274.0,268.4 274.4,269.1 274.8,270.3 275.2,270.2 275.6,270.4 276.0,270.4 276.4,270.4 276.8,270.4 277.2,270.4 277.6,270.4 278.0,270.4 278.4,270.4 278.8,270.4 279.2,270.4 279.6,270.4 280.0,270.4 280.4,270.4 280.8,270.4 281.2,270.4 281.6,270.4 282.0,270.4 282.4,270.4 282.8,270.4 283.2,270.4 283.6,270.4 284.0,270.4" fill="none" stroke="#4f9a26" stroke-width="0.6" stroke-linejoin="round" opacity="0.70"/>
<polyline points="212.8,270.4 213.1,270.4 213.3,270.4 213.6,270.4 213.8,270.4 214.1,270.4 214.3,270.4 214.6,270.4 214.8,270.4 215.1,270.4 215.3,270.4 215.6,270.4 215.8,270.4 216.1,270.4 216.3,270.4 216.6,270.4 216.8,270.4 217.1,270.4 217.3,270.4 217.6,270.4 217.8,270.4 218.1,270.4 218.3,270.4 218.6,270.4 218.8,270.4 219.1,270.4 219.3,270.4 219.6,270.4 219.8,270.4 220.1,270.4 220.3,270.4 220.6,270.4 220.8,270.4 221.1,270.4 221.3,270.4 221.6,270.4 221.8,270.4 222.1,270.4 222.3,270.4 222.6,270.4 222.8,270.4 223.1,270.4 223.3,270.4 223.6,270.4 223.8,270.4 224.1,270.4 224.3,270.4 224.6,270.4 224.8,270.4 225.1,270.4 225.3,270.4 225.6,270.4 225.8,270.4 226.1,270.4 226.3,270.4 226.6,270.4 226.8,270.4 227.1,270.4 227.3,270.4 227.6,270.4 227.8,270.4 228.1,270.4 228.3,270.4 228.6,270.4 228.8,270.4 229.1,270.4 229.3,270.4 229.6,270.4 229.8,270.4 230.1,270.4 230.3,270.4 230.6,270.4 230.8,270.4 231.1,270.4 231.3,270.4 231.6,270.4 231.8,270.4 232.1,270.4 232.3,270.4 232.6,270.4 232.8,270.4 233.1,270.4 233.3,270.4 233.6,270.4 233.8,270.4 234.1,270.4 234.3,270.4 234.6,270.4 234.8,270.4 235.1,270.4 235.3,270.4 235.6,270.4 235.8,270.4 236.1,270.4 236.3,270.4 236.6,270.4 236.8,270.4 237.1,270.4 237.3,270.4 237.6,270.4 237.8,270.4 238.1,270.4 238.3,270.4 238.6,270.4 238.8,270.4 239.1,270.4 239.3,270.4 239.6,270.4 239.8,270.4 240.1,270.4 240.3,270.4 240.6,270.4 240.8,270.4 241.1,270.4 241.3,270.4 241.6,270.4 241.8,270.4 242.1,270.4 242.3,270.4 242.6,270.4 242.8,270.4 243.1,270.4 243.3,270.4 243.6,270.4 243.8,270.4 244.1,270.4 244.3,270.4 244.6,270.4 244.8,270.4 245.1,270.4 245.3,270.4 245.6,270.4 245.8,270.4 246.1,270.4 246.3,270.4 246.6,270.4 246.8,270.4 247.1,270.4 247.3,270.4 247.6,270.4 247.8,270.4 248.1,270.4 248.3,270.4 248.6,270.4 248.8,270.4 249.1,270.4 249.3,270.4 249.6,270.4 249.8,270.4 250.1,270.4 250.3,270.4 250.6,270.4 250.8,270.4 251.1,270.4 251.3,270.4 251.6,270.4 251.8,270.4 252.1,270.4 252.3,270.4 252.6,270.4 252.8,270.4 253.1,270.4 253.3,270.4 253.6,270.4 253.8,270.4 254.1,270.4 254.3,270.4 254.6,270.4 254.8,270.4 255.1,270.4 255.3,270.4 255.6,270.4 255.8,270.4 256.1,270.4 256.3,270.4 256.6,270.4 256.8,270.4 257.1,270.4 257.3,270.4 257.6,270.4 257.8,270.4 258.1,270.4 258.3,270.4 258.6,270.4 258.8,270.4 259.1,270.4 259.3,269.1 259.6,267.9 259.8,267.7 260.1,266.8 260.3,266.6 260.6,264.8 260.8,263.3 261.1,262.3 261.3,262.1 261.6,260.3 261.8,260.8 262.1,255.7 262.3,256.5 262.6,256.7 262.8,247.7 263.1,249.4 263.3,244.4 263.6,243.9 263.8,240.1 264.1,244.2 264.3,235.6 264.6,244.0 264.8,231.0 265.1,230.7 265.3,234.9 265.6,225.5 265.8,225.6 266.1,227.9 266.3,233.5 266.6,236.4 266.8,233.1 267.1,229.0 267.3,234.7 267.6,242.4 267.8,234.8 268.1,233.3 268.3,234.6 268.6,242.0 268.8,249.7 269.1,251.3 269.3,250.8 269.6,248.9 269.8,252.3 270.1,253.3 270.3,256.6 270.6,260.1 270.8,258.3 271.1,261.9 271.3,262.2 271.6,264.6 271.8,265.9 272.1,266.7 272.3,266.7 272.6,268.2 272.8,267.7 273.1,268.5 273.3,268.9 273.6,270.4 273.8,270.4 274.1,270.4 274.3,270.4 274.6,270.4 274.8,270.4 275.1,270.4 275.3,270.4 275.6,270.4 275.8,270.4 276.1,270.4 276.3,270.4 276.6,270.4 276.8,270.4 277.1,270.4 277.3,270.4 277.6,270.4 277.8,270.4 278.1,270.4 278.3,270.4 278.6,270.4 278.8,270.4 279.1,270.4 279.3,270.4 279.6,270.4 279.8,270.4 280.1,270.4 280.3,270.4 280.6,270.4 280.8,270.4 281.1,270.4 281.3,270.4 281.6,270.4 281.8,270.4 282.1,270.4 282.3,270.4 282.6,270.4 282.8,270.4 283.1,270.4 283.3,270.4 283.6,270.4 283.8,270.4 284.1,270.4" fill="none" stroke="#b4c22e" stroke-width="0.3" opacity="0.55"/>
<polyline points="212.8,270.4 213.2,270.4 213.6,270.4 214.0,270.4 214.4,270.4 214.8,270.4 215.2,270.4 215.6,270.4 216.0,270.4 216.4,270.4 216.8,270.4 217.2,270.4 217.6,270.4 218.0,270.4 218.4,270.4 218.8,270.4 219.2,270.4 219.6,270.4 220.0,270.4 220.4,270.4 220.8,270.4 221.2,270.4 221.6,270.4 222.0,270.4 222.4,270.4 222.8,270.4 223.2,270.4 223.6,270.4 224.0,270.4 224.4,270.4 224.8,270.4 225.2,270.4 225.6,270.4 226.0,270.4 226.4,270.4 226.8,270.4 227.2,270.4 227.6,270.4 228.0,270.4 228.4,270.4 228.8,270.4 229.2,270.4 229.6,270.4 230.0,270.4 230.4,270.4 230.8,270.4 231.2,270.4 231.6,270.4 232.0,270.4 232.4,270.4 232.8,270.4 233.2,270.4 233.6,270.4 234.0,270.4 234.4,270.4 234.8,270.4 235.2,270.4 235.6,270.4 236.0,270.4 236.4,270.4 236.8,270.4 237.2,270.4 237.6,270.4 238.0,270.4 238.4,270.4 238.8,270.4 239.2,270.4 239.6,270.4 240.0,270.4 240.4,270.4 240.8,270.4 241.2,270.4 241.6,270.4 242.0,270.4 242.4,270.4 242.8,270.4 243.2,270.4 243.6,270.4 244.0,270.4 244.4,270.4 244.8,270.4 245.2,270.4 245.6,270.4 246.0,270.4 246.4,270.4 246.8,270.4 247.2,270.4 247.6,270.4 248.0,270.4 248.4,270.4 248.8,270.4 249.2,270.4 249.6,270.4 250.0,270.4 250.4,270.4 250.8,270.4 251.2,270.4 251.6,270.4 252.0,270.4 252.4,270.4 252.8,270.4 253.2,270.4 253.6,270.4 254.0,270.4 254.4,270.4 254.8,270.4 255.2,270.4 255.6,270.4 256.0,270.4 256.4,270.4 256.8,270.4 257.2,270.4 257.6,270.4 258.0,270.4 258.4,269.5 258.8,269.6 259.2,269.1 259.6,268.1 260.0,266.8 260.4,265.0 260.8,263.7 261.2,261.3 261.6,259.6 262.0,254.1 262.4,251.9 262.8,246.6 263.2,245.1 263.6,239.9 264.0,232.9 264.4,233.0 264.8,227.1 265.2,222.5 265.6,222.7 266.0,219.8 266.4,226.2 266.8,223.0 267.2,223.5 267.6,228.8 268.0,229.5 268.4,235.7 268.8,237.6 269.2,243.0 269.6,246.3 270.0,250.8 270.4,256.0 270.8,259.0 271.2,261.9 271.6,263.8 272.0,265.8 272.4,266.5 272.8,268.3 273.2,268.8 273.6,269.7 274.0,269.5 274.4,270.4 274.8,270.4 275.2,270.4 275.6,270.4 276.0,270.4 276.4,270.4 276.8,270.4 277.2,270.4 277.6,270.4 278.0,270.4 278.4,270.4 278.8,270.4 279.2,270.4 279.6,270.4 280.0,270.4 280.4,270.4 280.8,270.4 281.2,270.4 281.6,270.4 282.0,270.4 282.4,270.4 282.8,270.4 283.2,270.4 283.6,270.4 284.0,270.4" fill="none" stroke="#b4c22e" stroke-width="1.5" stroke-linejoin="round" opacity="1.0"/>
<polyline points="212.8,270.4 213.2,270.4 213.6,270.4 214.0,270.4 214.4,270.4 214.8,270.4 215.2,270.4 215.6,270.4 216.0,270.4 216.4,270.4 216.8,270.4 217.2,270.4 217.6,270.4 218.0,270.4 218.4,270.4 218.8,270.4 219.2,270.4 219.6,270.4 220.0,270.4 220.4,270.4 220.8,270.4 221.2,270.4 221.6,270.4 222.0,270.4 222.4,270.4 222.8,270.4 223.2,270.4 223.6,270.4 224.0,270.4 224.4,270.4 224.8,270.4 225.2,270.4 225.6,270.4 226.0,270.4 226.4,270.4 226.8,270.4 227.2,270.4 227.6,270.4 228.0,270.4 228.4,270.4 228.8,270.4 229.2,270.4 229.6,270.4 230.0,270.4 230.4,270.4 230.8,270.4 231.2,270.4 231.6,270.4 232.0,270.4 232.4,270.4 232.8,270.4 233.2,270.4 233.6,270.4 234.0,270.4 234.4,270.4 234.8,270.4 235.2,270.4 235.6,270.4 236.0,270.4 236.4,270.4 236.8,270.4 237.2,270.4 237.6,270.4 238.0,270.4 238.4,270.4 238.8,270.4 239.2,270.4 239.6,270.4 240.0,270.4 240.4,270.4 240.8,270.4 241.2,270.4 241.6,270.4 242.0,270.4 242.4,270.4 242.8,270.4 243.2,270.4 243.6,270.4 244.0,270.4 244.4,270.4 244.8,270.4 245.2,270.4 245.6,270.4 246.0,270.4 246.4,270.4 246.8,270.4 247.2,270.4 247.6,270.4 248.0,270.4 248.4,270.4 248.8,270.4 249.2,270.4 249.6,270.4 250.0,270.4 250.4,270.4 250.8,270.4 251.2,270.4 251.6,270.4 252.0,270.4 252.4,270.4 252.8,270.4 253.2,270.4 253.6,270.4 254.0,270.4 254.4,270.4 254.8,270.4 255.2,270.4 255.6,270.4 256.0,270.4 256.4,270.4 256.8,270.4 257.2,270.4 257.6,270.4 258.0,270.4 258.4,269.5 258.8,269.4 259.2,268.2 259.6,267.7 260.0,267.5 260.4,266.6 260.8,265.1 261.2,261.4 261.6,258.9 262.0,254.6 262.4,250.9 262.8,249.7 263.2,243.8 263.6,235.5 264.0,239.0 264.4,227.4 264.8,227.1 265.2,228.7 265.6,218.4 266.0,225.7 266.4,224.6 266.8,219.1 267.2,227.0 267.6,227.2 268.0,236.3 268.4,232.6 268.8,243.2 269.2,241.5 269.6,248.0 270.0,250.4 270.4,254.4 270.8,259.1 271.2,262.0 271.6,262.2 272.0,265.8 272.4,268.0 272.8,268.6 273.2,268.9 273.6,269.8 274.0,269.7 274.4,270.4 274.8,270.4 275.2,270.4 275.6,270.4 276.0,270.4 276.4,270.4 276.8,270.4 277.2,270.4 277.6,270.4 278.0,270.4 278.4,270.4 278.8,270.4 279.2,270.4 279.6,270.4 280.0,270.4 280.4,270.4 280.8,270.4 281.2,270.4 281.6,270.4 282.0,270.4 282.4,270.4 282.8,270.4 283.2,270.4 283.6,270.4 284.0,270.4" fill="none" stroke="#b4c22e" stroke-width="0.6" stroke-linejoin="round" opacity="0.70"/>
<polyline points="212.8,270.4 213.1,270.4 213.3,270.4 213.6,270.4 213.8,270.4 214.1,270.4 214.3,270.4 214.6,270.4 214.8,270.4 215.1,270.4 215.3,270.4 215.6,270.4 215.8,270.4 216.1,270.4 216.3,270.4 216.6,270.4 216.8,270.4 217.1,270.4 217.3,270.4 217.6,270.4 217.8,270.4 218.1,270.4 218.3,270.4 218.6,270.4 218.8,270.4 219.1,270.4 219.3,270.4 219.6,270.4 219.8,270.4 220.1,270.4 220.3,270.4 220.6,270.4 220.8,270.4 221.1,270.4 221.3,270.4 221.6,270.4 221.8,270.4 222.1,270.4 222.3,270.4 222.6,270.4 222.8,270.4 223.1,270.4 223.3,270.4 223.6,270.4 223.8,270.4 224.1,270.4 224.3,270.4 224.6,270.4 224.8,270.4 225.1,270.4 225.3,270.4 225.6,270.4 225.8,270.4 226.1,270.4 226.3,270.4 226.6,270.4 226.8,270.4 227.1,270.4 227.3,270.4 227.6,270.4 227.8,270.4 228.1,270.4 228.3,270.4 228.6,270.4 228.8,270.4 229.1,270.4 229.3,270.4 229.6,270.4 229.8,270.4 230.1,270.4 230.3,270.4 230.6,270.4 230.8,270.4 231.1,270.4 231.3,270.4 231.6,270.4 231.8,270.4 232.1,270.4 232.3,270.4 232.6,270.4 232.8,270.4 233.1,270.4 233.3,270.4 233.6,270.4 233.8,270.4 234.1,270.4 234.3,270.4 234.6,270.4 234.8,270.4 235.1,270.4 235.3,270.4 235.6,270.4 235.8,270.4 236.1,270.4 236.3,270.4 236.6,270.4 236.8,270.4 237.1,270.4 237.3,270.4 237.6,270.4 237.8,270.4 238.1,270.4 238.3,270.4 238.6,270.4 238.8,270.4 239.1,270.4 239.3,270.4 239.6,270.4 239.8,270.4 240.1,270.4 240.3,270.4 240.6,270.4 240.8,270.4 241.1,270.4 241.3,270.4 241.6,270.4 241.8,270.4 242.1,270.4 242.3,270.4 242.6,270.4 242.8,270.4 243.1,270.4 243.3,270.4 243.6,270.4 243.8,270.4 244.1,270.4 244.3,270.4 244.6,270.4 244.8,270.4 245.1,270.4 245.3,270.4 245.6,270.4 245.8,270.4 246.1,270.4 246.3,270.4 246.6,270.4 246.8,270.4 247.1,270.4 247.3,270.4 247.6,270.4 247.8,270.4 248.1,270.4 248.3,270.4 248.6,270.4 248.8,270.4 249.1,270.4 249.3,270.4 249.6,270.4 249.8,270.4 250.1,270.4 250.3,270.4 250.6,270.4 250.8,270.4 251.1,270.4 251.3,270.4 251.6,270.4 251.8,270.4 252.1,270.4 252.3,270.4 252.6,270.4 252.8,270.4 253.1,270.4 253.3,270.4 253.6,270.4 253.8,269.3 254.1,268.6 254.3,267.8 254.6,268.2 254.8,266.6 255.1,265.6 255.3,266.1 255.6,263.7 255.8,263.7 256.1,262.3 256.3,259.5 256.6,259.7 256.8,256.5 257.1,258.1 257.3,257.5 257.6,252.9 257.8,252.1 258.1,248.8 258.3,248.8 258.6,250.9 258.8,241.1 259.1,243.5 259.3,234.4 259.6,244.6 259.8,231.3 260.1,235.2 260.3,233.1 260.6,235.0 260.8,229.7 261.1,228.1 261.3,233.5 261.6,238.2 261.8,241.0 262.1,232.9 262.3,231.3 262.6,233.6 262.8,232.1 263.1,244.0 263.3,244.5 263.6,238.0 263.8,248.8 264.1,246.0 264.3,248.8 264.6,250.9 264.8,253.7 265.1,251.4 265.3,254.3 265.6,257.2 265.8,259.2 266.1,261.0 266.3,260.2 266.6,261.5 266.8,264.2 267.1,264.5 267.3,266.6 267.6,267.2 267.8,267.8 268.1,268.3 268.3,268.6 268.6,268.9 268.8,268.7 269.1,270.4 269.3,270.4 269.6,270.4 269.8,270.4 270.1,270.4 270.3,270.4 270.6,270.4 270.8,270.4 271.1,270.4 271.3,270.4 271.6,270.4 271.8,270.4 272.1,270.4 272.3,270.4 272.6,270.4 272.8,270.4 273.1,270.4 273.3,270.4 273.6,270.4 273.8,270.4 274.1,270.4 274.3,270.4 274.6,270.4 274.8,270.4 275.1,270.4 275.3,270.4 275.6,270.4 275.8,270.4 276.1,270.4 276.3,270.4 276.6,270.4 276.8,270.4 277.1,270.4 277.3,270.4 277.6,270.4 277.8,270.4 278.1,270.4 278.3,270.4 278.6,270.4 278.8,270.4 279.1,270.4 279.3,270.4 279.6,270.4 279.8,270.4 280.1,270.4 280.3,270.4 280.6,270.4 280.8,270.4 281.1,270.4 281.3,270.4 281.6,270.4 281.8,270.4 282.1,270.4 282.3,270.4 282.6,270.4 282.8,270.4 283.1,270.4 283.3,270.4 283.6,270.4 283.8,270.4 284.1,270.4" fill="none" stroke="#5a2a82" stroke-width="0.3" opacity="0.55"/>
<polyline points="212.8,270.4 213.2,270.4 213.6,270.4 214.0,270.4 214.4,270.4 214.8,270.4 215.2,270.4 215.6,270.4 216.0,270.4 216.4,270.4 216.8,270.4 217.2,270.4 217.6,270.4 218.0,270.4 218.4,270.4 218.8,270.4 219.2,270.4 219.6,270.4 220.0,270.4 220.4,270.4 220.8,270.4 221.2,270.4 221.6,270.4 222.0,270.4 222.4,270.4 222.8,270.4 223.2,270.4 223.6,270.4 224.0,270.4 224.4,270.4 224.8,270.4 225.2,270.4 225.6,270.4 226.0,270.4 226.4,270.4 226.8,270.4 227.2,270.4 227.6,270.4 228.0,270.4 228.4,270.4 228.8,270.4 229.2,270.4 229.6,270.4 230.0,270.4 230.4,270.4 230.8,270.4 231.2,270.4 231.6,270.4 232.0,270.4 232.4,270.4 232.8,270.4 233.2,270.4 233.6,270.4 234.0,270.4 234.4,270.4 234.8,270.4 235.2,270.4 235.6,270.4 236.0,270.4 236.4,270.4 236.8,270.4 237.2,270.4 237.6,270.4 238.0,270.4 238.4,270.4 238.8,270.4 239.2,270.4 239.6,270.4 240.0,270.4 240.4,270.4 240.8,270.4 241.2,270.4 241.6,270.4 242.0,270.4 242.4,270.4 242.8,270.4 243.2,270.4 243.6,270.4 244.0,270.4 244.4,270.4 244.8,270.4 245.2,270.4 245.6,270.4 246.0,270.4 246.4,270.4 246.8,270.4 247.2,270.4 247.6,270.4 248.0,270.4 248.4,270.4 248.8,270.4 249.2,270.4 249.6,270.4 250.0,270.4 250.4,270.4 250.8,270.4 251.2,270.4 251.6,270.4 252.0,270.4 252.4,270.4 252.8,270.0 253.2,270.3 253.6,269.9 254.0,269.0 254.4,267.8 254.8,266.7 255.2,265.1 255.6,263.8 256.0,262.0 256.4,258.5 256.8,255.3 257.2,251.9 257.6,249.9 258.0,244.3 258.4,243.7 258.8,238.2 259.2,233.5 259.6,230.0 260.0,231.4 260.4,226.6 260.8,230.2 261.2,221.6 261.6,228.4 262.0,224.7 262.4,225.9 262.8,227.9 263.2,233.7 263.6,234.1 264.0,239.0 264.4,245.5 264.8,246.6 265.2,252.9 265.6,254.3 266.0,257.8 266.4,261.2 266.8,263.3 267.2,264.6 267.6,266.3 268.0,267.7 268.4,268.1 268.8,269.5 269.2,269.6 269.6,269.7 270.0,270.1 270.4,270.4 270.8,270.4 271.2,270.4 271.6,270.4 272.0,270.4 272.4,270.4 272.8,270.4 273.2,270.4 273.6,270.4 274.0,270.4 274.4,270.4 274.8,270.4 275.2,270.4 275.6,270.4 276.0,270.4 276.4,270.4 276.8,270.4 277.2,270.4 277.6,270.4 278.0,270.4 278.4,270.4 278.8,270.4 279.2,270.4 279.6,270.4 280.0,270.4 280.4,270.4 280.8,270.4 281.2,270.4 281.6,270.4 282.0,270.4 282.4,270.4 282.8,270.4 283.2,270.4 283.6,270.4 284.0,270.4" fill="none" stroke="#5a2a82" stroke-width="1.5" stroke-linejoin="round" opacity="1.0"/>
<polyline points="212.8,270.4 213.2,270.4 213.6,270.4 214.0,270.4 214.4,270.4 214.8,270.4 215.2,270.4 215.6,270.4 216.0,270.4 216.4,270.4 216.8,270.4 217.2,270.4 217.6,270.4 218.0,270.4 218.4,270.4 218.8,270.4 219.2,270.4 219.6,270.4 220.0,270.4 220.4,270.4 220.8,270.4 221.2,270.4 221.6,270.4 222.0,270.4 222.4,270.4 222.8,270.4 223.2,270.4 223.6,270.4 224.0,270.4 224.4,270.4 224.8,270.4 225.2,270.4 225.6,270.4 226.0,270.4 226.4,270.4 226.8,270.4 227.2,270.4 227.6,270.4 228.0,270.4 228.4,270.4 228.8,270.4 229.2,270.4 229.6,270.4 230.0,270.4 230.4,270.4 230.8,270.4 231.2,270.4 231.6,270.4 232.0,270.4 232.4,270.4 232.8,270.4 233.2,270.4 233.6,270.4 234.0,270.4 234.4,270.4 234.8,270.4 235.2,270.4 235.6,270.4 236.0,270.4 236.4,270.4 236.8,270.4 237.2,270.4 237.6,270.4 238.0,270.4 238.4,270.4 238.8,270.4 239.2,270.4 239.6,270.4 240.0,270.4 240.4,270.4 240.8,270.4 241.2,270.4 241.6,270.4 242.0,270.4 242.4,270.4 242.8,270.4 243.2,270.4 243.6,270.4 244.0,270.4 244.4,270.4 244.8,270.4 245.2,270.4 245.6,270.4 246.0,270.4 246.4,270.4 246.8,270.4 247.2,270.4 247.6,270.4 248.0,270.4 248.4,270.4 248.8,270.4 249.2,270.4 249.6,270.4 250.0,270.4 250.4,270.4 250.8,270.4 251.2,270.4 251.6,270.4 252.0,270.4 252.4,270.4 252.8,270.4 253.2,270.4 253.6,270.0 254.0,269.5 254.4,268.1 254.8,267.2 255.2,266.5 255.6,264.8 256.0,262.2 256.4,257.4 256.8,256.7 257.2,251.6 257.6,247.2 258.0,248.6 258.4,238.7 258.8,237.5 259.2,230.1 259.6,233.1 260.0,225.5 260.4,223.6 260.8,226.2 261.2,230.3 261.6,225.5 262.0,231.0 262.4,225.1 262.8,234.7 263.2,237.0 263.6,237.3 264.0,238.6 264.4,243.0 264.8,249.8 265.2,253.3 265.6,255.8 266.0,256.3 266.4,260.5 266.8,262.9 267.2,265.2 267.6,264.7 268.0,267.7 268.4,267.8 268.8,269.1 269.2,269.3 269.6,269.3 270.0,270.4 270.4,270.4 270.8,270.4 271.2,270.4 271.6,270.4 272.0,270.4 272.4,270.4 272.8,270.4 273.2,270.4 273.6,270.4 274.0,270.4 274.4,270.4 274.8,270.4 275.2,270.4 275.6,270.4 276.0,270.4 276.4,270.4 276.8,270.4 277.2,270.4 277.6,270.4 278.0,270.4 278.4,270.4 278.8,270.4 279.2,270.4 279.6,270.4 280.0,270.4 280.4,270.4 280.8,270.4 281.2,270.4 281.6,270.4 282.0,270.4 282.4,270.4 282.8,270.4 283.2,270.4 283.6,270.4 284.0,270.4" fill="none" stroke="#5a2a82" stroke-width="0.6" stroke-linejoin="round" opacity="0.70"/>
</g>
<line x1="215" y1="282.6" x2="275.8" y2="282.6" stroke="#111" stroke-width="1"/>
<polygon points="278.8,282.6 274.8,280.90000000000003 274.8,284.3" fill="#111"/>
<text x="243.50" y="291.80" font-size="7.2" text-anchor="middle" font-weight="normal" fill="#222" >CD38</text>
<rect x="25" y="297.5" width="72.2" height="59.30000000000001" fill="#fff" stroke="#9a9a9a" stroke-width="0.6"/>
<text x="23.50" y="357.20" font-size="3.9" text-anchor="end" font-weight="normal" fill="#444" >0</text>
<line x1="24.2" y1="355.80" x2="25" y2="355.80" stroke="#999" stroke-width="0.4"/>
<text x="23.50" y="347.90" font-size="3.9" text-anchor="end" font-weight="normal" fill="#444" >20</text>
<line x1="24.2" y1="346.50" x2="25" y2="346.50" stroke="#999" stroke-width="0.4"/>
<text x="23.50" y="338.60" font-size="3.9" text-anchor="end" font-weight="normal" fill="#444" >40</text>
<line x1="24.2" y1="337.20" x2="25" y2="337.20" stroke="#999" stroke-width="0.4"/>
<text x="23.50" y="329.30" font-size="3.9" text-anchor="end" font-weight="normal" fill="#444" >60</text>
<line x1="24.2" y1="327.90" x2="25" y2="327.90" stroke="#999" stroke-width="0.4"/>
<text x="23.50" y="320.00" font-size="3.9" text-anchor="end" font-weight="normal" fill="#444" >80</text>
<line x1="24.2" y1="318.60" x2="25" y2="318.60" stroke="#999" stroke-width="0.4"/>
<text x="23.50" y="310.70" font-size="3.9" text-anchor="end" font-weight="normal" fill="#444" >100</text>
<line x1="24.2" y1="309.30" x2="25" y2="309.30" stroke="#999" stroke-width="0.4"/>
<text x="23.50" y="301.40" font-size="3.9" text-anchor="end" font-weight="normal" fill="#444" >120</text>
<line x1="24.2" y1="300.00" x2="25" y2="300.00" stroke="#999" stroke-width="0.4"/>
<text x="21.90" y="364.20" font-size="3.9" fill="#555">10<tspan font-size="2.8" dy="-1.5">2</tspan></text>
<line x1="25.00" y1="356.8" x2="25.00" y2="357.6" stroke="#999" stroke-width="0.4"/>
<text x="37.20" y="364.20" font-size="3.9" fill="#555">10<tspan font-size="2.8" dy="-1.5">3</tspan></text>
<line x1="40.30" y1="356.8" x2="40.30" y2="357.6" stroke="#999" stroke-width="0.4"/>
<text x="52.50" y="364.20" font-size="3.9" fill="#555">10<tspan font-size="2.8" dy="-1.5">4</tspan></text>
<line x1="55.60" y1="356.8" x2="55.60" y2="357.6" stroke="#999" stroke-width="0.4"/>
<text x="67.80" y="364.20" font-size="3.9" fill="#555">10<tspan font-size="2.8" dy="-1.5">5</tspan></text>
<line x1="70.90" y1="356.8" x2="70.90" y2="357.6" stroke="#999" stroke-width="0.4"/>
<text x="83.10" y="364.20" font-size="3.9" fill="#555">10<tspan font-size="2.8" dy="-1.5">6</tspan></text>
<line x1="86.20" y1="356.8" x2="86.20" y2="357.6" stroke="#999" stroke-width="0.4"/>
<defs><clipPath id="cp25_297"><rect x="25" y="297.5" width="72.2" height="58.80"/></clipPath></defs>
<g clip-path="url(#cp25_297)">
<polyline points="25.3,349.2 25.6,350.2 25.8,347.8 26.1,350.1 26.3,349.7 26.6,347.9 26.8,347.7 27.1,348.3 27.3,347.9 27.6,346.4 27.8,347.1 28.1,345.8 28.3,348.9 28.6,345.9 28.8,348.2 29.1,346.8 29.3,346.5 29.6,345.9 29.8,347.7 30.1,345.6 30.3,344.1 30.6,344.8 30.8,342.9 31.1,343.4 31.3,342.6 31.6,345.7 31.8,342.3 32.0,343.3 32.3,338.0 32.5,338.9 32.8,341.3 33.0,339.1 33.3,340.8 33.5,335.2 33.8,338.2 34.0,330.6 34.3,332.9 34.5,331.4 34.8,329.4 35.0,333.4 35.3,332.7 35.5,327.3 35.8,330.6 36.0,320.7 36.3,320.0 36.5,328.1 36.8,317.1 37.0,326.4 37.3,310.8 37.5,313.3 37.8,318.0 38.0,321.5 38.3,305.8 38.5,308.2 38.8,304.4 39.0,306.7 39.3,312.6 39.5,307.1 39.8,304.7 40.0,315.0 40.3,305.2 40.5,320.9 40.8,319.2 41.0,320.4 41.3,321.5 41.5,322.1 41.8,322.4 42.0,313.4 42.3,310.7 42.5,313.6 42.8,314.1 43.0,320.9 43.3,323.6 43.5,328.8 43.8,326.6 44.0,324.8 44.3,330.1 44.5,334.5 44.8,335.3 45.0,332.0 45.3,336.9 45.5,340.6 45.8,338.3 46.0,340.9 46.3,344.6 46.5,346.0 46.8,344.5 47.0,344.8 47.3,346.5 47.5,349.2 47.8,349.9 48.0,349.1 48.3,350.3 48.5,351.2 48.8,351.9 49.0,352.2 49.3,352.3 49.5,353.1 49.8,353.7 50.0,354.3 50.3,355.5 50.5,355.5 50.8,355.5 51.0,355.5 51.3,355.5 51.5,355.5 51.8,355.5 52.0,355.5 52.3,355.5 52.5,355.5 52.8,355.5 53.0,355.5 53.3,355.5 53.5,355.5 53.8,355.5 54.0,355.5 54.3,355.5 54.5,355.5 54.8,355.5 55.0,355.5 55.3,355.5 55.5,355.5 55.8,355.5 56.0,355.5 56.3,355.5 56.5,355.5 56.8,355.5 57.0,355.5 57.3,355.5 57.5,355.5 57.8,355.5 58.0,355.5 58.3,355.5 58.5,355.5 58.8,355.5 59.0,355.5 59.3,355.5 59.5,355.5 59.8,355.5 60.0,355.5 60.3,355.5 60.5,355.5 60.8,355.5 61.0,355.5 61.3,355.5 61.5,355.5 61.8,355.5 62.0,355.5 62.3,355.5 62.5,355.5 62.8,355.5 63.0,355.5 63.3,355.5 63.5,355.5 63.8,355.5 64.0,355.5 64.3,355.5 64.5,355.5 64.8,355.5 65.0,355.5 65.3,355.5 65.5,355.5 65.8,355.5 66.0,355.5 66.3,355.5 66.5,355.5 66.8,355.5 67.0,355.5 67.3,355.5 67.5,355.5 67.8,355.5 68.0,355.5 68.3,355.5 68.5,355.5 68.8,355.5 69.0,355.5 69.3,355.5 69.5,355.5 69.8,355.5 70.0,355.5 70.3,355.5 70.5,355.5 70.8,355.5 71.0,355.5 71.3,355.5 71.5,355.5 71.8,355.5 72.0,355.5 72.3,355.5 72.5,355.5 72.8,355.5 73.0,355.5 73.3,355.5 73.5,355.5 73.8,355.5 74.0,355.5 74.3,355.5 74.5,355.5 74.8,355.5 75.0,355.5 75.3,355.5 75.5,355.5 75.8,355.5 76.0,355.5 76.3,355.5 76.5,355.5 76.8,355.5 77.0,355.5 77.3,355.5 77.5,355.5 77.8,355.5 78.0,355.5 78.3,355.5 78.5,355.5 78.8,355.5 79.0,355.5 79.3,355.5 79.5,355.5 79.8,355.5 80.0,355.5 80.3,355.5 80.5,355.5 80.8,355.5 81.0,355.5 81.3,355.5 81.5,355.5 81.8,355.5 82.0,355.5 82.3,355.5 82.5,355.5 82.8,355.5 83.0,355.5 83.3,355.5 83.5,355.5 83.8,355.5 84.0,355.5 84.3,355.5 84.5,355.5 84.8,355.5 85.0,355.5 85.3,355.5 85.5,355.5 85.8,355.5 86.0,355.5 86.3,355.5 86.5,355.5 86.8,355.5 87.0,355.5 87.3,355.5 87.5,355.5 87.8,355.5 88.0,355.5 88.3,355.5 88.5,355.5 88.8,355.5 89.0,355.5 89.3,355.5 89.5,355.5 89.8,355.5 90.0,355.5 90.3,355.5 90.5,355.5 90.8,355.5 91.0,355.5 91.3,355.5 91.5,355.5 91.8,355.5 92.0,355.5 92.3,355.5 92.5,355.5 92.8,355.5 93.0,355.5 93.3,355.5 93.5,355.5 93.8,355.5 94.0,355.5 94.3,355.5 94.5,355.5 94.8,355.5 95.0,355.5 95.3,355.5 95.5,355.5 95.8,355.5 96.0,355.5 96.3,355.5 96.5,355.5 96.8,355.5" fill="none" stroke="#a9a9a9" stroke-width="0.3" opacity="0.55"/>
<polyline points="25.3,348.1 25.7,347.9 26.1,348.0 26.5,347.0 26.9,346.6 27.3,346.5 27.7,347.3 28.1,346.0 28.5,346.3 28.9,344.8 29.3,344.8 29.7,344.2 30.1,345.2 30.5,342.6 30.9,343.0 31.3,341.3 31.7,341.9 32.1,340.0 32.5,337.8 32.9,335.8 33.3,333.8 33.7,332.0 34.1,329.8 34.5,329.2 34.9,326.5 35.3,322.8 35.7,316.7 36.1,320.0 36.5,314.8 36.9,308.9 37.3,312.8 37.7,308.6 38.1,303.3 38.5,305.9 38.9,300.3 39.3,300.7 39.7,300.7 40.1,303.7 40.5,299.8 40.9,303.5 41.3,310.5 41.7,308.3 42.1,312.0 42.5,308.6 42.9,313.5 43.3,319.8 43.7,318.8 44.1,325.1 44.5,327.1 44.9,329.6 45.3,334.2 45.7,335.6 46.1,338.1 46.5,340.9 46.9,343.8 47.3,345.9 47.7,348.1 48.1,350.2 48.5,350.1 48.9,351.3 49.3,352.8 49.7,353.3 50.1,353.4 50.5,354.7 50.9,355.0 51.3,355.1 51.7,355.5 52.1,355.5 52.5,355.5 52.9,355.5 53.3,355.5 53.7,355.5 54.1,355.5 54.5,355.5 54.9,355.5 55.3,355.5 55.7,355.5 56.1,355.5 56.5,355.5 56.9,355.5 57.3,355.5 57.7,355.5 58.1,355.5 58.5,355.5 58.9,355.5 59.3,355.5 59.7,355.5 60.1,355.5 60.5,355.5 60.9,355.5 61.3,355.5 61.7,355.5 62.1,355.5 62.5,355.5 62.9,355.5 63.3,355.5 63.7,355.5 64.1,355.5 64.5,355.5 64.9,355.5 65.3,355.5 65.7,355.5 66.1,355.5 66.5,355.5 66.9,355.5 67.3,355.5 67.7,355.5 68.1,355.5 68.5,355.5 68.9,355.5 69.3,355.5 69.7,355.5 70.1,355.5 70.5,355.5 70.9,355.5 71.3,355.5 71.7,355.5 72.1,355.5 72.5,355.5 72.9,355.5 73.3,355.5 73.7,355.5 74.1,355.5 74.5,355.5 74.9,355.5 75.3,355.5 75.7,355.5 76.1,355.5 76.5,355.5 76.9,355.5 77.3,355.5 77.7,355.5 78.1,355.5 78.5,355.5 78.9,355.5 79.3,355.5 79.7,355.5 80.1,355.5 80.5,355.5 80.9,355.5 81.3,355.5 81.7,355.5 82.1,355.5 82.5,355.5 82.9,355.5 83.3,355.5 83.7,355.5 84.1,355.5 84.5,355.5 84.9,355.5 85.3,355.5 85.7,355.5 86.1,355.5 86.5,355.5 86.9,355.5 87.3,355.5 87.7,355.5 88.1,355.5 88.5,355.5 88.9,355.5 89.3,355.5 89.7,355.5 90.1,355.5 90.5,355.5 90.9,355.5 91.3,355.5 91.7,355.5 92.1,355.5 92.5,355.5 92.9,355.5 93.3,355.5 93.7,355.5 94.1,355.5 94.5,355.5 94.9,355.5 95.3,355.5 95.7,355.5 96.1,355.5 96.5,355.5" fill="none" stroke="#a9a9a9" stroke-width="1.7" stroke-linejoin="round" opacity="1.0"/>
<polyline points="25.3,350.1 25.7,349.3 26.1,348.3 26.5,346.3 26.9,347.0 27.3,344.3 27.7,346.6 28.1,344.9 28.5,345.7 28.9,344.8 29.3,344.6 29.7,343.6 30.1,344.1 30.5,344.0 30.9,344.7 31.3,341.0 31.7,341.2 32.1,337.2 32.5,338.2 32.9,338.1 33.3,330.5 33.7,332.4 34.1,332.4 34.5,329.2 34.9,323.3 35.3,321.9 35.7,322.7 36.1,312.8 36.5,314.3 36.9,305.5 37.3,312.9 37.7,311.1 38.1,301.9 38.5,300.7 38.9,307.3 39.3,303.5 39.7,295.0 40.1,303.2 40.5,310.5 40.9,309.0 41.3,308.7 41.7,311.6 42.1,310.3 42.5,318.4 42.9,313.2 43.3,318.2 43.7,319.4 44.1,323.2 44.5,329.2 44.9,330.9 45.3,334.3 45.7,337.2 46.1,340.5 46.5,343.1 46.9,345.0 47.3,345.5 47.7,349.5 48.1,350.0 48.5,349.9 48.9,352.1 49.3,351.7 49.7,353.0 50.1,354.5 50.5,354.8 50.9,354.9 51.3,355.5 51.7,354.5 52.1,355.5 52.5,355.5 52.9,355.5 53.3,355.5 53.7,355.5 54.1,355.5 54.5,355.5 54.9,355.5 55.3,355.5 55.7,355.5 56.1,355.5 56.5,355.5 56.9,355.5 57.3,355.5 57.7,355.5 58.1,355.5 58.5,355.5 58.9,355.5 59.3,355.5 59.7,355.5 60.1,355.5 60.5,355.5 60.9,355.5 61.3,355.5 61.7,355.5 62.1,355.5 62.5,355.5 62.9,355.5 63.3,355.5 63.7,355.5 64.1,355.5 64.5,355.5 64.9,355.5 65.3,355.5 65.7,355.5 66.1,355.5 66.5,355.5 66.9,355.5 67.3,355.5 67.7,355.5 68.1,355.5 68.5,355.5 68.9,355.5 69.3,355.5 69.7,355.5 70.1,355.5 70.5,355.5 70.9,355.5 71.3,355.5 71.7,355.5 72.1,355.5 72.5,355.5 72.9,355.5 73.3,355.5 73.7,355.5 74.1,355.5 74.5,355.5 74.9,355.5 75.3,355.5 75.7,355.5 76.1,355.5 76.5,355.5 76.9,355.5 77.3,355.5 77.7,355.5 78.1,355.5 78.5,355.5 78.9,355.5 79.3,355.5 79.7,355.5 80.1,355.5 80.5,355.5 80.9,355.5 81.3,355.5 81.7,355.5 82.1,355.5 82.5,355.5 82.9,355.5 83.3,355.5 83.7,355.5 84.1,355.5 84.5,355.5 84.9,355.5 85.3,355.5 85.7,355.5 86.1,355.5 86.5,355.5 86.9,355.5 87.3,355.5 87.7,355.5 88.1,355.5 88.5,355.5 88.9,355.5 89.3,355.5 89.7,355.5 90.1,355.5 90.5,355.5 90.9,355.5 91.3,355.5 91.7,355.5 92.1,355.5 92.5,355.5 92.9,355.5 93.3,355.5 93.7,355.5 94.1,355.5 94.5,355.5 94.9,355.5 95.3,355.5 95.7,355.5 96.1,355.5 96.5,355.5" fill="none" stroke="#a9a9a9" stroke-width="0.6" stroke-linejoin="round" opacity="0.70"/>
<polyline points="25.3,355.5 25.6,355.5 25.8,355.5 26.1,355.5 26.3,355.5 26.6,355.5 26.8,355.5 27.1,355.5 27.3,355.5 27.6,355.5 27.8,355.5 28.1,355.5 28.3,355.5 28.6,355.5 28.8,355.5 29.1,355.5 29.3,355.5 29.6,355.5 29.8,355.5 30.1,355.5 30.3,355.5 30.6,355.5 30.8,355.5 31.1,355.5 31.3,355.5 31.6,355.5 31.8,355.5 32.0,355.5 32.3,355.5 32.5,355.5 32.8,355.5 33.0,354.2 33.3,353.6 33.5,353.8 33.8,352.8 34.0,352.5 34.3,352.4 34.5,352.5 34.8,351.8 35.0,351.7 35.3,350.2 35.5,351.1 35.8,350.2 36.0,349.5 36.3,348.1 36.5,347.4 36.8,349.1 37.0,345.1 37.3,348.0 37.5,344.4 37.8,343.2 38.0,344.9 38.3,342.1 38.5,339.5 38.8,340.4 39.0,338.9 39.3,338.3 39.5,337.3 39.8,337.7 40.0,332.9 40.3,332.1 40.5,339.0 40.8,338.4 41.0,332.8 41.3,331.3 41.5,330.6 41.8,327.6 42.0,330.0 42.3,334.5 42.5,335.5 42.8,327.7 43.0,330.1 43.3,326.6 43.5,331.1 43.8,329.4 44.0,329.9 44.3,332.6 44.5,334.2 44.8,327.2 45.0,335.6 45.3,337.1 45.5,336.1 45.8,336.6 46.0,332.9 46.3,339.9 46.5,338.1 46.8,338.9 47.0,337.3 47.3,341.2 47.5,339.9 47.8,344.7 48.0,345.4 48.3,345.0 48.5,346.2 48.8,347.7 49.0,347.6 49.3,346.7 49.5,349.3 49.8,348.5 50.0,350.8 50.3,350.2 50.5,352.1 50.8,352.3 51.0,352.6 51.3,353.2 51.5,352.8 51.8,353.8 52.0,354.1 52.3,354.3 52.5,355.5 52.8,355.5 53.0,355.5 53.3,355.5 53.5,355.5 53.8,355.5 54.0,355.5 54.3,355.5 54.5,355.5 54.8,355.5 55.0,355.5 55.3,355.5 55.5,355.5 55.8,355.5 56.0,355.5 56.3,355.5 56.5,355.5 56.8,355.5 57.0,355.5 57.3,355.5 57.5,355.5 57.8,355.5 58.0,355.5 58.3,355.5 58.5,355.5 58.8,355.5 59.0,355.5 59.3,355.5 59.5,355.5 59.8,355.5 60.0,355.5 60.3,355.5 60.5,355.5 60.8,355.5 61.0,355.5 61.3,355.5 61.5,355.5 61.8,355.5 62.0,355.5 62.3,355.5 62.5,355.5 62.8,355.5 63.0,355.5 63.3,355.5 63.5,355.5 63.8,355.5 64.0,355.5 64.3,355.5 64.5,355.5 64.8,355.5 65.0,355.5 65.3,355.5 65.5,355.5 65.8,355.5 66.0,355.5 66.3,355.5 66.5,355.5 66.8,355.5 67.0,355.5 67.3,355.5 67.5,355.5 67.8,355.5 68.0,355.5 68.3,355.5 68.5,355.5 68.8,355.5 69.0,355.5 69.3,355.5 69.5,355.5 69.8,355.5 70.0,355.5 70.3,355.5 70.5,355.5 70.8,355.5 71.0,355.5 71.3,355.5 71.5,355.5 71.8,355.5 72.0,355.5 72.3,355.5 72.5,355.5 72.8,355.5 73.0,355.5 73.3,355.5 73.5,355.5 73.8,355.5 74.0,355.5 74.3,355.5 74.5,355.5 74.8,355.5 75.0,355.5 75.3,355.5 75.5,355.5 75.8,355.5 76.0,355.5 76.3,355.5 76.5,355.5 76.8,355.5 77.0,355.5 77.3,355.5 77.5,355.5 77.8,355.5 78.0,355.5 78.3,355.5 78.5,355.5 78.8,355.5 79.0,355.5 79.3,355.5 79.5,355.5 79.8,355.5 80.0,355.5 80.3,355.5 80.5,355.5 80.8,355.5 81.0,355.5 81.3,355.5 81.5,355.5 81.8,355.5 82.0,355.5 82.3,355.5 82.5,355.5 82.8,355.5 83.0,355.5 83.3,355.5 83.5,355.5 83.8,355.5 84.0,355.5 84.3,355.5 84.5,355.5 84.8,355.5 85.0,355.5 85.3,355.5 85.5,355.5 85.8,355.5 86.0,355.5 86.3,355.5 86.5,355.5 86.8,355.5 87.0,355.5 87.3,355.5 87.5,355.5 87.8,355.5 88.0,355.5 88.3,355.5 88.5,355.5 88.8,355.5 89.0,355.5 89.3,355.5 89.5,355.5 89.8,355.5 90.0,355.5 90.3,355.5 90.5,355.5 90.8,355.5 91.0,355.5 91.3,355.5 91.5,355.5 91.8,355.5 92.0,355.5 92.3,355.5 92.5,355.5 92.8,355.5 93.0,355.5 93.3,355.5 93.5,355.5 93.8,355.5 94.0,355.5 94.3,355.5 94.5,355.5 94.8,355.5 95.0,355.5 95.3,355.5 95.5,355.5 95.8,355.5 96.0,355.5 96.3,355.5 96.5,355.5 96.8,355.5" fill="none" stroke="#c6c832" stroke-width="0.3" opacity="0.55"/>
<polyline points="25.3,355.5 25.7,355.5 26.1,355.5 26.5,355.5 26.9,355.5 27.3,355.5 27.7,355.5 28.1,355.5 28.5,355.5 28.9,355.5 29.3,355.5 29.7,355.5 30.1,355.5 30.5,355.5 30.9,355.3 31.3,355.2 31.7,355.4 32.1,354.5 32.5,354.4 32.9,354.1 33.3,353.9 33.7,352.9 34.1,352.6 34.5,351.8 34.9,351.5 35.3,349.6 35.7,349.6 36.1,347.6 36.5,346.8 36.9,345.9 37.3,344.4 37.7,343.1 38.1,339.6 38.5,339.6 38.9,337.2 39.3,337.8 39.7,335.7 40.1,332.1 40.5,332.3 40.9,327.2 41.3,326.3 41.7,325.8 42.1,324.1 42.5,325.4 42.9,325.6 43.3,323.1 43.7,323.0 44.1,327.0 44.5,326.3 44.9,324.4 45.3,329.1 45.7,328.4 46.1,333.6 46.5,332.1 46.9,334.7 47.3,338.7 47.7,338.8 48.1,340.1 48.5,343.4 48.9,344.6 49.3,345.8 49.7,348.7 50.1,349.6 50.5,350.5 50.9,351.4 51.3,352.1 51.7,352.8 52.1,353.3 52.5,354.4 52.9,354.8 53.3,354.8 53.7,355.5 54.1,355.0 54.5,355.5 54.9,355.5 55.3,355.5 55.7,355.5 56.1,355.5 56.5,355.5 56.9,355.5 57.3,355.5 57.7,355.5 58.1,355.5 58.5,355.5 58.9,355.5 59.3,355.5 59.7,355.5 60.1,355.5 60.5,355.5 60.9,355.5 61.3,355.5 61.7,355.5 62.1,355.5 62.5,355.5 62.9,355.5 63.3,355.5 63.7,355.5 64.1,355.5 64.5,355.5 64.9,355.5 65.3,355.5 65.7,355.5 66.1,355.5 66.5,355.5 66.9,355.5 67.3,355.5 67.7,355.5 68.1,355.5 68.5,355.5 68.9,355.5 69.3,355.5 69.7,355.5 70.1,355.5 70.5,355.5 70.9,355.5 71.3,355.5 71.7,355.5 72.1,355.5 72.5,355.5 72.9,355.5 73.3,355.5 73.7,355.5 74.1,355.5 74.5,355.5 74.9,355.5 75.3,355.5 75.7,355.5 76.1,355.5 76.5,355.5 76.9,355.5 77.3,355.5 77.7,355.5 78.1,355.5 78.5,355.5 78.9,355.5 79.3,355.5 79.7,355.5 80.1,355.5 80.5,355.5 80.9,355.5 81.3,355.5 81.7,355.5 82.1,355.5 82.5,355.5 82.9,355.5 83.3,355.5 83.7,355.5 84.1,355.5 84.5,355.5 84.9,355.5 85.3,355.5 85.7,355.5 86.1,355.5 86.5,355.5 86.9,355.5 87.3,355.5 87.7,355.5 88.1,355.5 88.5,355.5 88.9,355.5 89.3,355.5 89.7,355.5 90.1,355.5 90.5,355.5 90.9,355.5 91.3,355.5 91.7,355.5 92.1,355.5 92.5,355.5 92.9,355.5 93.3,355.5 93.7,355.5 94.1,355.5 94.5,355.5 94.9,355.5 95.3,355.5 95.7,355.5 96.1,355.5 96.5,355.5" fill="none" stroke="#c6c832" stroke-width="1.5" stroke-linejoin="round" opacity="1.0"/>
<polyline points="25.3,355.5 25.7,355.5 26.1,355.5 26.5,355.5 26.9,355.5 27.3,355.5 27.7,355.5 28.1,355.5 28.5,355.5 28.9,355.5 29.3,355.5 29.7,355.5 30.1,355.5 30.5,355.5 30.9,354.6 31.3,355.5 31.7,355.0 32.1,354.2 32.5,354.1 32.9,354.6 33.3,352.7 33.7,353.7 34.1,353.2 34.5,352.7 34.9,351.6 35.3,351.1 35.7,349.6 36.1,348.6 36.5,347.3 36.9,344.4 37.3,346.1 37.7,342.3 38.1,340.9 38.5,341.0 38.9,336.5 39.3,334.7 39.7,334.6 40.1,330.9 40.5,333.5 40.9,329.4 41.3,328.2 41.7,328.3 42.1,326.2 42.5,322.1 42.9,325.0 43.3,326.9 43.7,323.0 44.1,328.2 44.5,326.4 44.9,328.9 45.3,326.6 45.7,328.6 46.1,333.4 46.5,333.0 46.9,332.4 47.3,337.0 47.7,338.7 48.1,340.6 48.5,340.5 48.9,345.5 49.3,345.9 49.7,348.6 50.1,349.4 50.5,350.4 50.9,351.6 51.3,352.6 51.7,353.0 52.1,352.9 52.5,354.2 52.9,355.2 53.3,354.7 53.7,354.8 54.1,355.5 54.5,355.5 54.9,355.5 55.3,355.5 55.7,355.5 56.1,355.5 56.5,355.5 56.9,355.5 57.3,355.5 57.7,355.5 58.1,355.5 58.5,355.5 58.9,355.5 59.3,355.5 59.7,355.5 60.1,355.5 60.5,355.5 60.9,355.5 61.3,355.5 61.7,355.5 62.1,355.5 62.5,355.5 62.9,355.5 63.3,355.5 63.7,355.5 64.1,355.5 64.5,355.5 64.9,355.5 65.3,355.5 65.7,355.5 66.1,355.5 66.5,355.5 66.9,355.5 67.3,355.5 67.7,355.5 68.1,355.5 68.5,355.5 68.9,355.5 69.3,355.5 69.7,355.5 70.1,355.5 70.5,355.5 70.9,355.5 71.3,355.5 71.7,355.5 72.1,355.5 72.5,355.5 72.9,355.5 73.3,355.5 73.7,355.5 74.1,355.5 74.5,355.5 74.9,355.5 75.3,355.5 75.7,355.5 76.1,355.5 76.5,355.5 76.9,355.5 77.3,355.5 77.7,355.5 78.1,355.5 78.5,355.5 78.9,355.5 79.3,355.5 79.7,355.5 80.1,355.5 80.5,355.5 80.9,355.5 81.3,355.5 81.7,355.5 82.1,355.5 82.5,355.5 82.9,355.5 83.3,355.5 83.7,355.5 84.1,355.5 84.5,355.5 84.9,355.5 85.3,355.5 85.7,355.5 86.1,355.5 86.5,355.5 86.9,355.5 87.3,355.5 87.7,355.5 88.1,355.5 88.5,355.5 88.9,355.5 89.3,355.5 89.7,355.5 90.1,355.5 90.5,355.5 90.9,355.5 91.3,355.5 91.7,355.5 92.1,355.5 92.5,355.5 92.9,355.5 93.3,355.5 93.7,355.5 94.1,355.5 94.5,355.5 94.9,355.5 95.3,355.5 95.7,355.5 96.1,355.5 96.5,355.5" fill="none" stroke="#c6c832" stroke-width="0.6" stroke-linejoin="round" opacity="0.70"/>
<polyline points="25.3,355.5 25.6,355.5 25.8,355.5 26.1,355.5 26.3,355.5 26.6,355.5 26.8,355.5 27.1,355.5 27.3,355.5 27.6,355.5 27.8,355.5 28.1,355.5 28.3,355.5 28.6,355.5 28.8,355.5 29.1,355.5 29.3,355.5 29.6,355.5 29.8,355.5 30.1,355.5 30.3,355.5 30.6,355.5 30.8,355.5 31.1,355.5 31.3,355.5 31.6,355.5 31.8,355.5 32.0,355.5 32.3,355.5 32.5,355.5 32.8,355.5 33.0,355.5 33.3,355.5 33.5,355.5 33.8,355.5 34.0,355.5 34.3,355.5 34.5,355.5 34.8,355.5 35.0,355.5 35.3,355.5 35.5,355.5 35.8,355.5 36.0,355.5 36.3,355.5 36.5,355.5 36.8,355.5 37.0,355.5 37.3,353.8 37.5,353.3 37.8,353.9 38.0,353.3 38.3,352.3 38.5,352.6 38.8,351.6 39.0,351.2 39.3,350.9 39.5,350.6 39.8,348.0 40.0,349.2 40.3,347.1 40.5,344.8 40.8,345.3 41.0,345.7 41.3,342.7 41.5,343.5 41.8,338.6 42.0,341.4 42.3,339.7 42.5,333.5 42.8,333.3 43.0,330.8 43.3,336.5 43.5,332.6 43.8,332.5 44.0,324.3 44.3,323.4 44.5,331.2 44.8,318.6 45.0,319.3 45.3,324.1 45.5,321.5 45.8,321.0 46.0,321.6 46.3,323.4 46.5,316.0 46.8,318.6 47.0,311.0 47.3,323.3 47.5,322.8 47.8,309.3 48.0,313.0 48.3,310.5 48.5,318.1 48.8,312.2 49.0,320.5 49.3,318.4 49.5,315.7 49.8,315.8 50.0,320.0 50.3,326.8 50.5,322.4 50.8,327.2 51.0,328.8 51.3,332.1 51.5,338.1 51.8,338.8 52.0,337.8 52.3,342.0 52.5,337.3 52.8,342.3 53.0,344.5 53.3,341.7 53.5,347.3 53.8,347.2 54.0,349.1 54.3,347.7 54.5,348.5 54.8,350.6 55.0,350.2 55.3,351.7 55.5,351.9 55.8,352.2 56.0,352.8 56.3,353.9 56.5,353.6 56.8,353.9 57.0,355.5 57.3,355.5 57.5,355.5 57.8,355.5 58.0,355.5 58.3,355.5 58.5,355.5 58.8,355.5 59.0,355.5 59.3,355.5 59.5,355.5 59.8,355.5 60.0,355.5 60.3,355.5 60.5,355.5 60.8,355.5 61.0,355.5 61.3,355.5 61.5,355.5 61.8,355.5 62.0,355.5 62.3,355.5 62.5,355.5 62.8,355.5 63.0,355.5 63.3,355.5 63.5,355.5 63.8,355.5 64.0,355.5 64.3,355.5 64.5,355.5 64.8,355.5 65.0,355.5 65.3,355.5 65.5,355.5 65.8,355.5 66.0,355.5 66.3,355.5 66.5,355.5 66.8,355.5 67.0,355.5 67.3,355.5 67.5,355.5 67.8,355.5 68.0,355.5 68.3,355.5 68.5,355.5 68.8,355.5 69.0,355.5 69.3,355.5 69.5,355.5 69.8,355.5 70.0,355.5 70.3,355.5 70.5,355.5 70.8,355.5 71.0,355.5 71.3,355.5 71.5,355.5 71.8,355.5 72.0,355.5 72.3,355.5 72.5,355.5 72.8,355.5 73.0,355.5 73.3,355.5 73.5,355.5 73.8,355.5 74.0,355.5 74.3,355.5 74.5,355.5 74.8,355.5 75.0,355.5 75.3,355.5 75.5,355.5 75.8,355.5 76.0,355.5 76.3,355.5 76.5,355.5 76.8,355.5 77.0,355.5 77.3,355.5 77.5,355.5 77.8,355.5 78.0,355.5 78.3,355.5 78.5,355.5 78.8,355.5 79.0,355.5 79.3,355.5 79.5,355.5 79.8,355.5 80.0,355.5 80.3,355.5 80.5,355.5 80.8,355.5 81.0,355.5 81.3,355.5 81.5,355.5 81.8,355.5 82.0,355.5 82.3,355.5 82.5,355.5 82.8,355.5 83.0,355.5 83.3,355.5 83.5,355.5 83.8,355.5 84.0,355.5 84.3,355.5 84.5,355.5 84.8,355.5 85.0,355.5 85.3,355.5 85.5,355.5 85.8,355.5 86.0,355.5 86.3,355.5 86.5,355.5 86.8,355.5 87.0,355.5 87.3,355.5 87.5,355.5 87.8,355.5 88.0,355.5 88.3,355.5 88.5,355.5 88.8,355.5 89.0,355.5 89.3,355.5 89.5,355.5 89.8,355.5 90.0,355.5 90.3,355.5 90.5,355.5 90.8,355.5 91.0,355.5 91.3,355.5 91.5,355.5 91.8,355.5 92.0,355.5 92.3,355.5 92.5,355.5 92.8,355.5 93.0,355.5 93.3,355.5 93.5,355.5 93.8,355.5 94.0,355.5 94.3,355.5 94.5,355.5 94.8,355.5 95.0,355.5 95.3,355.5 95.5,355.5 95.8,355.5 96.0,355.5 96.3,355.5 96.5,355.5 96.8,355.5" fill="none" stroke="#4f9a26" stroke-width="0.3" opacity="0.55"/>
<polyline points="25.3,355.5 25.7,355.5 26.1,355.5 26.5,355.5 26.9,355.5 27.3,355.5 27.7,355.5 28.1,355.5 28.5,355.5 28.9,355.5 29.3,355.5 29.7,355.5 30.1,355.5 30.5,355.5 30.9,355.5 31.3,355.5 31.7,355.5 32.1,355.5 32.5,355.5 32.9,355.5 33.3,355.5 33.7,355.5 34.1,355.5 34.5,355.5 34.9,355.5 35.3,355.5 35.7,355.5 36.1,355.3 36.5,354.6 36.9,354.0 37.3,353.9 37.7,353.4 38.1,352.2 38.5,351.7 38.9,351.3 39.3,349.1 39.7,348.2 40.1,346.2 40.5,344.6 40.9,343.5 41.3,340.8 41.7,339.8 42.1,337.2 42.5,335.1 42.9,330.9 43.3,329.8 43.7,325.0 44.1,325.5 44.5,318.4 44.9,320.0 45.3,318.2 45.7,311.5 46.1,310.9 46.5,312.3 46.9,309.2 47.3,309.7 47.7,309.4 48.1,311.8 48.5,313.7 48.9,308.9 49.3,312.7 49.7,317.0 50.1,316.6 50.5,322.0 50.9,323.3 51.3,327.2 51.7,331.0 52.1,331.7 52.5,337.7 52.9,340.2 53.3,342.0 53.7,344.3 54.1,347.4 54.5,348.0 54.9,349.4 55.3,351.1 55.7,352.0 56.1,353.0 56.5,354.0 56.9,354.5 57.3,354.7 57.7,354.9 58.1,355.5 58.5,355.5 58.9,355.5 59.3,355.5 59.7,355.5 60.1,355.5 60.5,355.5 60.9,355.5 61.3,355.5 61.7,355.5 62.1,355.5 62.5,355.5 62.9,355.5 63.3,355.5 63.7,355.5 64.1,355.5 64.5,355.5 64.9,355.5 65.3,355.5 65.7,355.5 66.1,355.5 66.5,355.5 66.9,355.5 67.3,355.5 67.7,355.5 68.1,355.5 68.5,355.5 68.9,355.5 69.3,355.5 69.7,355.5 70.1,355.5 70.5,355.5 70.9,355.5 71.3,355.5 71.7,355.5 72.1,355.5 72.5,355.5 72.9,355.5 73.3,355.5 73.7,355.5 74.1,355.5 74.5,355.5 74.9,355.5 75.3,355.5 75.7,355.5 76.1,355.5 76.5,355.5 76.9,355.5 77.3,355.5 77.7,355.5 78.1,355.5 78.5,355.5 78.9,355.5 79.3,355.5 79.7,355.5 80.1,355.5 80.5,355.5 80.9,355.5 81.3,355.5 81.7,355.5 82.1,355.5 82.5,355.5 82.9,355.5 83.3,355.5 83.7,355.5 84.1,355.5 84.5,355.5 84.9,355.5 85.3,355.5 85.7,355.5 86.1,355.5 86.5,355.5 86.9,355.5 87.3,355.5 87.7,355.5 88.1,355.5 88.5,355.5 88.9,355.5 89.3,355.5 89.7,355.5 90.1,355.5 90.5,355.5 90.9,355.5 91.3,355.5 91.7,355.5 92.1,355.5 92.5,355.5 92.9,355.5 93.3,355.5 93.7,355.5 94.1,355.5 94.5,355.5 94.9,355.5 95.3,355.5 95.7,355.5 96.1,355.5 96.5,355.5" fill="none" stroke="#4f9a26" stroke-width="1.5" stroke-linejoin="round" opacity="1.0"/>
<polyline points="25.3,355.5 25.7,355.5 26.1,355.5 26.5,355.5 26.9,355.5 27.3,355.5 27.7,355.5 28.1,355.5 28.5,355.5 28.9,355.5 29.3,355.5 29.7,355.5 30.1,355.5 30.5,355.5 30.9,355.5 31.3,355.5 31.7,355.5 32.1,355.5 32.5,355.5 32.9,355.5 33.3,355.5 33.7,355.5 34.1,355.5 34.5,355.5 34.9,355.5 35.3,355.5 35.7,355.1 36.1,355.3 36.5,354.5 36.9,354.6 37.3,353.8 37.7,353.2 38.1,352.5 38.5,350.8 38.9,350.9 39.3,349.2 39.7,346.9 40.1,346.8 40.5,344.0 40.9,344.0 41.3,340.3 41.7,336.5 42.1,336.1 42.5,331.3 42.9,329.9 43.3,326.7 43.7,322.6 44.1,323.5 44.5,322.0 44.9,312.8 45.3,320.3 45.7,318.4 46.1,311.7 46.5,309.6 46.9,306.8 47.3,309.0 47.7,307.8 48.1,304.6 48.5,308.1 48.9,305.9 49.3,311.3 49.7,315.6 50.1,314.3 50.5,325.0 50.9,327.5 51.3,327.6 51.7,326.5 52.1,336.6 52.5,334.5 52.9,341.8 53.3,343.7 53.7,344.7 54.1,346.1 54.5,349.0 54.9,349.2 55.3,350.1 55.7,352.9 56.1,352.0 56.5,353.2 56.9,353.8 57.3,354.3 57.7,354.8 58.1,354.4 58.5,355.5 58.9,355.5 59.3,355.5 59.7,355.5 60.1,355.5 60.5,355.5 60.9,355.5 61.3,355.5 61.7,355.5 62.1,355.5 62.5,355.5 62.9,355.5 63.3,355.5 63.7,355.5 64.1,355.5 64.5,355.5 64.9,355.5 65.3,355.5 65.7,355.5 66.1,355.5 66.5,355.5 66.9,355.5 67.3,355.5 67.7,355.5 68.1,355.5 68.5,355.5 68.9,355.5 69.3,355.5 69.7,355.5 70.1,355.5 70.5,355.5 70.9,355.5 71.3,355.5 71.7,355.5 72.1,355.5 72.5,355.5 72.9,355.5 73.3,355.5 73.7,355.5 74.1,355.5 74.5,355.5 74.9,355.5 75.3,355.5 75.7,355.5 76.1,355.5 76.5,355.5 76.9,355.5 77.3,355.5 77.7,355.5 78.1,355.5 78.5,355.5 78.9,355.5 79.3,355.5 79.7,355.5 80.1,355.5 80.5,355.5 80.9,355.5 81.3,355.5 81.7,355.5 82.1,355.5 82.5,355.5 82.9,355.5 83.3,355.5 83.7,355.5 84.1,355.5 84.5,355.5 84.9,355.5 85.3,355.5 85.7,355.5 86.1,355.5 86.5,355.5 86.9,355.5 87.3,355.5 87.7,355.5 88.1,355.5 88.5,355.5 88.9,355.5 89.3,355.5 89.7,355.5 90.1,355.5 90.5,355.5 90.9,355.5 91.3,355.5 91.7,355.5 92.1,355.5 92.5,355.5 92.9,355.5 93.3,355.5 93.7,355.5 94.1,355.5 94.5,355.5 94.9,355.5 95.3,355.5 95.7,355.5 96.1,355.5 96.5,355.5" fill="none" stroke="#4f9a26" stroke-width="0.6" stroke-linejoin="round" opacity="0.70"/>
<polyline points="25.3,355.5 25.6,355.5 25.8,355.5 26.1,355.5 26.3,355.5 26.6,355.5 26.8,355.5 27.1,355.5 27.3,355.5 27.6,355.5 27.8,355.5 28.1,355.5 28.3,355.5 28.6,355.5 28.8,355.5 29.1,355.5 29.3,355.5 29.6,355.5 29.8,355.5 30.1,355.5 30.3,355.5 30.6,355.5 30.8,355.5 31.1,355.5 31.3,355.5 31.6,355.5 31.8,355.5 32.0,355.5 32.3,355.5 32.5,355.5 32.8,355.5 33.0,355.5 33.3,355.5 33.5,355.5 33.8,355.5 34.0,355.5 34.3,355.5 34.5,355.5 34.8,355.5 35.0,355.5 35.3,355.5 35.5,355.5 35.8,355.5 36.0,355.5 36.3,355.5 36.5,355.5 36.8,355.5 37.0,355.5 37.3,355.5 37.5,355.5 37.8,355.5 38.0,355.5 38.3,355.5 38.5,355.5 38.8,355.5 39.0,355.5 39.3,355.5 39.5,355.5 39.8,355.5 40.0,355.5 40.3,355.5 40.5,355.5 40.8,355.5 41.0,355.5 41.3,355.5 41.5,355.5 41.8,355.5 42.0,355.5 42.3,355.5 42.5,355.5 42.8,355.5 43.0,355.5 43.3,355.5 43.5,355.5 43.8,355.5 44.0,355.5 44.3,355.5 44.5,355.5 44.8,355.5 45.0,355.5 45.3,355.5 45.5,355.5 45.8,355.5 46.0,355.5 46.3,355.5 46.5,355.5 46.8,355.5 47.0,355.5 47.3,355.5 47.5,355.5 47.8,355.5 48.0,355.5 48.3,355.5 48.5,355.5 48.8,355.5 49.0,355.5 49.3,355.5 49.5,355.5 49.8,355.5 50.0,355.5 50.3,355.5 50.5,355.5 50.8,355.5 51.0,355.5 51.3,355.5 51.5,355.5 51.8,355.5 52.0,355.5 52.3,355.5 52.5,355.5 52.8,355.5 53.0,355.5 53.3,355.5 53.5,355.5 53.8,355.5 54.0,355.5 54.3,355.5 54.5,355.5 54.8,355.5 55.0,355.5 55.3,354.0 55.5,354.0 55.8,354.3 56.0,353.9 56.3,353.5 56.5,353.9 56.8,353.9 57.0,353.9 57.3,353.0 57.5,353.5 57.8,353.6 58.0,353.2 58.3,352.4 58.5,352.4 58.8,353.5 59.0,352.2 59.3,352.8 59.5,352.7 59.8,352.2 60.0,352.3 60.3,351.8 60.5,352.4 60.8,352.9 61.0,351.9 61.3,351.9 61.5,351.5 61.8,352.0 62.0,352.5 62.3,351.7 62.5,352.5 62.8,350.9 63.0,351.9 63.3,350.7 63.5,350.6 63.8,351.6 64.0,351.6 64.3,351.0 64.5,350.1 64.8,350.9 65.0,348.3 65.3,348.3 65.5,347.8 65.8,349.0 66.0,346.6 66.3,345.3 66.5,345.8 66.8,341.5 67.0,343.2 67.3,344.3 67.5,343.3 67.8,338.7 68.0,337.8 68.3,336.4 68.5,335.1 68.8,332.0 69.0,330.9 69.3,326.9 69.5,327.2 69.8,331.1 70.0,327.6 70.3,322.6 70.5,323.9 70.8,328.4 71.0,319.7 71.3,323.5 71.5,325.1 71.8,323.1 72.0,324.3 72.3,319.4 72.5,328.9 72.8,324.1 73.0,321.9 73.3,329.4 73.5,332.1 73.8,324.1 74.0,331.8 74.3,328.8 74.5,333.2 74.8,336.3 75.0,336.0 75.3,337.8 75.5,334.0 75.8,341.3 76.0,339.7 76.3,339.2 76.5,340.8 76.8,343.3 77.0,342.6 77.3,343.1 77.5,346.0 77.8,348.7 78.0,346.8 78.3,348.7 78.5,349.6 78.8,351.1 79.0,351.5 79.3,351.0 79.5,351.4 79.8,351.8 80.0,352.4 80.3,353.0 80.5,353.9 80.8,354.0 81.0,355.5 81.3,355.5 81.5,355.5 81.8,355.5 82.0,355.5 82.3,355.5 82.5,355.5 82.8,355.5 83.0,355.5 83.3,355.5 83.5,355.5 83.8,355.5 84.0,355.5 84.3,355.5 84.5,355.5 84.8,355.5 85.0,355.5 85.3,355.5 85.5,355.5 85.8,355.5 86.0,355.5 86.3,355.5 86.5,355.5 86.8,355.5 87.0,355.5 87.3,355.5 87.5,355.5 87.8,355.5 88.0,355.5 88.3,355.5 88.5,355.5 88.8,355.5 89.0,355.5 89.3,355.5 89.5,355.5 89.8,355.5 90.0,355.5 90.3,355.5 90.5,355.5 90.8,355.5 91.0,355.5 91.3,355.5 91.5,355.5 91.8,355.5 92.0,355.5 92.3,355.5 92.5,355.5 92.8,355.5 93.0,355.5 93.3,355.5 93.5,355.5 93.8,355.5 94.0,355.5 94.3,355.5 94.5,355.5 94.8,355.5 95.0,355.5 95.3,355.5 95.5,355.5 95.8,355.5 96.0,355.5 96.3,355.5 96.5,355.5 96.8,355.5" fill="none" stroke="#661e78" stroke-width="0.3" opacity="0.55"/>
<polyline points="25.3,355.5 25.7,355.5 26.1,355.5 26.5,355.5 26.9,355.5 27.3,355.5 27.7,355.5 28.1,355.5 28.5,355.5 28.9,355.5 29.3,355.5 29.7,355.5 30.1,355.5 30.5,355.5 30.9,355.5 31.3,355.5 31.7,355.5 32.1,355.5 32.5,355.5 32.9,355.5 33.3,355.5 33.7,355.5 34.1,355.5 34.5,355.5 34.9,355.5 35.3,355.5 35.7,355.5 36.1,355.5 36.5,355.5 36.9,355.5 37.3,355.5 37.7,355.5 38.1,355.5 38.5,355.5 38.9,355.5 39.3,355.5 39.7,355.5 40.1,355.5 40.5,355.5 40.9,355.5 41.3,355.5 41.7,355.5 42.1,355.5 42.5,355.5 42.9,355.5 43.3,355.5 43.7,355.5 44.1,355.5 44.5,355.5 44.9,355.5 45.3,355.5 45.7,355.5 46.1,355.5 46.5,355.5 46.9,355.5 47.3,355.5 47.7,355.5 48.1,355.5 48.5,355.5 48.9,355.5 49.3,355.5 49.7,355.5 50.1,355.5 50.5,355.5 50.9,355.5 51.3,355.5 51.7,355.2 52.1,355.0 52.5,355.0 52.9,354.6 53.3,354.6 53.7,354.2 54.1,354.9 54.5,354.4 54.9,354.5 55.3,353.5 55.7,353.7 56.1,354.2 56.5,353.4 56.9,353.7 57.3,352.8 57.7,353.6 58.1,352.7 58.5,352.2 58.9,352.8 59.3,352.6 59.7,352.3 60.1,352.6 60.5,352.0 60.9,352.2 61.3,352.0 61.7,351.3 62.1,351.4 62.5,351.8 62.9,351.2 63.3,351.3 63.7,350.9 64.1,349.9 64.5,349.6 64.9,348.7 65.3,347.2 65.7,346.6 66.1,343.7 66.5,343.5 66.9,340.0 67.3,339.6 67.7,337.1 68.1,333.9 68.5,330.0 68.9,329.6 69.3,324.7 69.7,324.8 70.1,320.9 70.5,318.5 70.9,319.1 71.3,318.0 71.7,317.5 72.1,319.9 72.5,318.5 72.9,322.5 73.3,323.6 73.7,321.3 74.1,326.8 74.5,328.4 74.9,330.2 75.3,330.4 75.7,333.3 76.1,337.6 76.5,338.4 76.9,340.4 77.3,344.2 77.7,344.4 78.1,346.9 78.5,348.8 78.9,348.9 79.3,351.4 79.7,351.3 80.1,352.2 80.5,354.0 80.9,353.9 81.3,354.1 81.7,354.6 82.1,354.8 82.5,355.2 82.9,355.5 83.3,355.5 83.7,355.5 84.1,355.5 84.5,355.5 84.9,355.5 85.3,355.5 85.7,355.5 86.1,355.5 86.5,355.5 86.9,355.5 87.3,355.5 87.7,355.5 88.1,355.5 88.5,355.5 88.9,355.5 89.3,355.5 89.7,355.5 90.1,355.5 90.5,355.5 90.9,355.5 91.3,355.5 91.7,355.5 92.1,355.5 92.5,355.5 92.9,355.5 93.3,355.5 93.7,355.5 94.1,355.5 94.5,355.5 94.9,355.5 95.3,355.5 95.7,355.5 96.1,355.5 96.5,355.5" fill="none" stroke="#661e78" stroke-width="1.5" stroke-linejoin="round" opacity="1.0"/>
<polyline points="25.3,355.5 25.7,355.5 26.1,355.5 26.5,355.5 26.9,355.5 27.3,355.5 27.7,355.5 28.1,355.5 28.5,355.5 28.9,355.5 29.3,355.5 29.7,355.5 30.1,355.5 30.5,355.5 30.9,355.5 31.3,355.5 31.7,355.5 32.1,355.5 32.5,355.5 32.9,355.5 33.3,355.5 33.7,355.5 34.1,355.5 34.5,355.5 34.9,355.5 35.3,355.5 35.7,355.5 36.1,355.5 36.5,355.5 36.9,355.5 37.3,355.5 37.7,355.5 38.1,355.5 38.5,355.5 38.9,355.5 39.3,355.5 39.7,355.5 40.1,355.5 40.5,355.5 40.9,355.5 41.3,355.5 41.7,355.5 42.1,355.5 42.5,355.5 42.9,355.5 43.3,355.5 43.7,355.5 44.1,355.5 44.5,355.5 44.9,355.5 45.3,355.5 45.7,355.5 46.1,355.5 46.5,355.5 46.9,355.5 47.3,355.5 47.7,355.5 48.1,355.5 48.5,355.5 48.9,355.5 49.3,355.5 49.7,355.5 50.1,355.5 50.5,355.5 50.9,355.5 51.3,355.3 51.7,355.5 52.1,355.5 52.5,354.8 52.9,355.0 53.3,355.5 53.7,355.4 54.1,354.4 54.5,354.1 54.9,354.3 55.3,354.0 55.7,353.8 56.1,354.2 56.5,352.6 56.9,353.4 57.3,353.1 57.7,353.5 58.1,352.5 58.5,353.0 58.9,353.6 59.3,352.7 59.7,352.6 60.1,352.5 60.5,351.1 60.9,352.4 61.3,352.2 61.7,352.7 62.1,350.9 62.5,351.3 62.9,350.4 63.3,351.5 63.7,351.0 64.1,348.4 64.5,349.2 64.9,349.0 65.3,348.6 65.7,348.0 66.1,344.9 66.5,342.5 66.9,343.0 67.3,340.5 67.7,339.3 68.1,335.8 68.5,329.3 68.9,330.7 69.3,327.3 69.7,327.4 70.1,327.2 70.5,324.5 70.9,322.9 71.3,322.4 71.7,320.5 72.1,315.8 72.5,323.0 72.9,318.7 73.3,323.7 73.7,325.5 74.1,328.3 74.5,326.1 74.9,332.9 75.3,333.3 75.7,334.1 76.1,337.8 76.5,339.2 76.9,340.8 77.3,343.7 77.7,343.5 78.1,347.3 78.5,348.3 78.9,349.1 79.3,351.0 79.7,352.1 80.1,352.4 80.5,352.9 80.9,355.0 81.3,354.7 81.7,354.6 82.1,355.1 82.5,355.5 82.9,355.5 83.3,355.5 83.7,355.5 84.1,355.5 84.5,355.5 84.9,355.5 85.3,355.5 85.7,355.5 86.1,355.5 86.5,355.5 86.9,355.5 87.3,355.5 87.7,355.5 88.1,355.5 88.5,355.5 88.9,355.5 89.3,355.5 89.7,355.5 90.1,355.5 90.5,355.5 90.9,355.5 91.3,355.5 91.7,355.5 92.1,355.5 92.5,355.5 92.9,355.5 93.3,355.5 93.7,355.5 94.1,355.5 94.5,355.5 94.9,355.5 95.3,355.5 95.7,355.5 96.1,355.5 96.5,355.5" fill="none" stroke="#661e78" stroke-width="0.6" stroke-linejoin="round" opacity="0.70"/>
</g>
<line x1="28.8" y1="366.4" x2="90.8" y2="366.4" stroke="#111" stroke-width="1"/>
<polygon points="93.8,366.4 89.8,364.7 89.8,368.09999999999997" fill="#111"/>
<text x="59.60" y="376.50" font-size="7.2" text-anchor="middle" font-weight="normal" fill="#222" >IgM</text>
<rect x="122" y="297" width="73" height="59.30000000000001" fill="#fff" stroke="#9a9a9a" stroke-width="0.6"/>
<text x="120.50" y="356.90" font-size="3.9" text-anchor="end" font-weight="normal" fill="#444" >0</text>
<line x1="121.2" y1="355.50" x2="122" y2="355.50" stroke="#999" stroke-width="0.4"/>
<text x="120.50" y="347.65" font-size="3.9" text-anchor="end" font-weight="normal" fill="#444" >20</text>
<line x1="121.2" y1="346.25" x2="122" y2="346.25" stroke="#999" stroke-width="0.4"/>
<text x="120.50" y="338.40" font-size="3.9" text-anchor="end" font-weight="normal" fill="#444" >40</text>
<line x1="121.2" y1="337.00" x2="122" y2="337.00" stroke="#999" stroke-width="0.4"/>
<text x="120.50" y="329.15" font-size="3.9" text-anchor="end" font-weight="normal" fill="#444" >60</text>
<line x1="121.2" y1="327.75" x2="122" y2="327.75" stroke="#999" stroke-width="0.4"/>
<text x="120.50" y="319.90" font-size="3.9" text-anchor="end" font-weight="normal" fill="#444" >80</text>
<line x1="121.2" y1="318.50" x2="122" y2="318.50" stroke="#999" stroke-width="0.4"/>
<text x="120.50" y="310.65" font-size="3.9" text-anchor="end" font-weight="normal" fill="#444" >100</text>
<line x1="121.2" y1="309.25" x2="122" y2="309.25" stroke="#999" stroke-width="0.4"/>
<text x="120.50" y="301.40" font-size="3.9" text-anchor="end" font-weight="normal" fill="#444" >120</text>
<line x1="121.2" y1="300.00" x2="122" y2="300.00" stroke="#999" stroke-width="0.4"/>
<text x="118.90" y="363.70" font-size="3.9" fill="#555">10<tspan font-size="2.8" dy="-1.5">2</tspan></text>
<line x1="122.00" y1="356.3" x2="122.00" y2="357.1" stroke="#999" stroke-width="0.4"/>
<text x="134.20" y="363.70" font-size="3.9" fill="#555">10<tspan font-size="2.8" dy="-1.5">3</tspan></text>
<line x1="137.30" y1="356.3" x2="137.30" y2="357.1" stroke="#999" stroke-width="0.4"/>
<text x="149.50" y="363.70" font-size="3.9" fill="#555">10<tspan font-size="2.8" dy="-1.5">4</tspan></text>
<line x1="152.60" y1="356.3" x2="152.60" y2="357.1" stroke="#999" stroke-width="0.4"/>
<text x="164.80" y="363.70" font-size="3.9" fill="#555">10<tspan font-size="2.8" dy="-1.5">5</tspan></text>
<line x1="167.90" y1="356.3" x2="167.90" y2="357.1" stroke="#999" stroke-width="0.4"/>
<text x="180.10" y="363.70" font-size="3.9" fill="#555">10<tspan font-size="2.8" dy="-1.5">6</tspan></text>
<line x1="183.20" y1="356.3" x2="183.20" y2="357.1" stroke="#999" stroke-width="0.4"/>
<defs><clipPath id="cp122_297"><rect x="122" y="297" width="73" height="59.00"/></clipPath></defs>
<g clip-path="url(#cp122_297)">
<polyline points="122.3,350.9 122.5,350.7 122.8,350.2 123.0,349.9 123.3,350.6 123.5,349.6 123.8,350.2 124.0,349.6 124.3,348.9 124.5,349.6 124.8,348.1 125.0,350.1 125.3,349.2 125.5,349.7 125.8,347.1 126.0,347.1 126.3,345.4 126.5,347.0 126.8,346.6 127.0,343.0 127.3,344.7 127.5,344.2 127.8,342.6 128.1,340.3 128.3,342.8 128.6,339.9 128.8,337.9 129.1,340.0 129.3,339.9 129.6,335.7 129.8,335.0 130.1,334.5 130.3,335.4 130.6,333.2 130.8,329.9 131.1,327.6 131.3,328.6 131.6,325.2 131.8,324.3 132.1,322.2 132.3,328.3 132.6,322.7 132.8,323.1 133.1,320.3 133.3,326.6 133.6,322.3 133.8,326.5 134.1,326.6 134.3,316.2 134.6,325.4 134.8,317.6 135.1,322.4 135.3,320.0 135.6,319.4 135.8,330.9 136.1,331.7 136.3,325.6 136.6,329.4 136.8,328.9 137.1,330.3 137.3,336.5 137.6,332.6 137.8,338.3 138.1,335.8 138.3,339.2 138.6,339.2 138.8,344.0 139.1,342.4 139.3,343.9 139.6,345.2 139.8,343.8 140.1,348.2 140.3,347.8 140.6,349.5 140.8,349.9 141.1,349.9 141.3,351.2 141.6,352.0 141.8,352.3 142.1,352.9 142.3,352.4 142.6,352.7 142.8,353.7 143.1,354.1 143.3,355.2 143.6,355.2 143.8,355.2 144.1,355.2 144.3,355.2 144.6,355.2 144.8,355.2 145.1,355.2 145.3,355.2 145.6,355.2 145.8,355.2 146.1,355.2 146.3,355.2 146.6,355.2 146.8,355.2 147.1,355.2 147.3,355.2 147.6,355.2 147.8,355.2 148.1,355.2 148.3,355.2 148.6,355.2 148.8,355.2 149.1,355.2 149.3,355.2 149.6,355.2 149.8,355.2 150.1,355.2 150.3,355.2 150.6,355.2 150.8,355.2 151.1,355.2 151.3,355.2 151.6,355.2 151.8,355.2 152.1,355.2 152.3,355.2 152.6,355.2 152.8,355.2 153.1,355.2 153.3,355.2 153.6,355.2 153.8,355.2 154.1,355.2 154.3,355.2 154.6,355.2 154.8,355.2 155.1,355.2 155.3,355.2 155.6,355.2 155.8,355.2 156.1,355.2 156.3,355.2 156.6,355.2 156.8,355.2 157.1,355.2 157.3,355.2 157.6,355.2 157.8,355.2 158.1,355.2 158.3,355.2 158.6,355.2 158.8,355.2 159.1,355.2 159.3,355.2 159.6,355.2 159.8,355.2 160.1,355.2 160.3,355.2 160.6,355.2 160.8,355.2 161.1,355.2 161.3,355.2 161.6,355.2 161.8,355.2 162.1,355.2 162.3,355.2 162.6,355.2 162.8,355.2 163.1,355.2 163.3,355.2 163.6,355.2 163.8,355.2 164.1,355.2 164.3,355.2 164.6,355.2 164.8,355.2 165.1,355.2 165.3,355.2 165.6,355.2 165.8,355.2 166.1,355.2 166.3,355.2 166.6,355.2 166.8,355.2 167.1,355.2 167.3,355.2 167.6,355.2 167.8,355.2 168.1,355.2 168.3,355.2 168.6,355.2 168.8,355.2 169.1,355.2 169.3,355.2 169.6,355.2 169.8,355.2 170.1,355.2 170.3,355.2 170.6,355.2 170.8,355.2 171.1,355.2 171.3,355.2 171.6,355.2 171.8,355.2 172.1,355.2 172.3,355.2 172.6,355.2 172.8,355.2 173.1,355.2 173.3,355.2 173.6,355.2 173.8,355.2 174.1,355.2 174.3,355.2 174.6,355.2 174.8,355.2 175.1,355.2 175.3,355.2 175.6,355.2 175.8,355.2 176.1,355.2 176.3,355.2 176.6,355.2 176.8,355.2 177.1,355.2 177.3,355.2 177.6,355.2 177.8,355.2 178.1,355.2 178.3,355.2 178.6,355.2 178.8,355.2 179.1,355.2 179.3,355.2 179.6,355.2 179.8,355.2 180.1,355.2 180.3,355.2 180.6,355.2 180.8,355.2 181.1,355.2 181.3,355.2 181.6,355.2 181.8,355.2 182.1,355.2 182.3,355.2 182.6,355.2 182.8,355.2 183.1,355.2 183.3,355.2 183.6,355.2 183.8,355.2 184.1,355.2 184.3,355.2 184.6,355.2 184.8,355.2 185.1,355.2 185.3,355.2 185.6,355.2 185.8,355.2 186.1,355.2 186.3,355.2 186.6,355.2 186.8,355.2 187.1,355.2 187.3,355.2 187.6,355.2 187.8,355.2 188.1,355.2 188.3,355.2 188.6,355.2 188.8,355.2 189.1,355.2 189.3,355.2 189.6,355.2 189.8,355.2 190.1,355.2 190.3,355.2 190.6,355.2 190.8,355.2 191.1,355.2 191.3,355.2 191.6,355.2 191.8,355.2 192.1,355.2 192.3,355.2 192.6,355.2 192.8,355.2 193.1,355.2 193.3,355.2 193.6,355.2 193.8,355.2 194.1,355.2 194.3,355.2 194.6,355.2" fill="none" stroke="#a9a9a9" stroke-width="0.3" opacity="0.55"/>
<polyline points="122.3,350.7 122.7,349.7 123.1,350.7 123.5,350.3 123.9,349.1 124.3,349.7 124.7,347.7 125.1,347.6 125.5,346.7 125.9,345.5 126.3,345.1 126.7,343.6 127.1,342.6 127.5,340.5 127.9,340.2 128.3,335.9 128.7,334.6 129.1,333.9 129.5,331.2 129.9,329.0 130.3,326.2 130.7,321.6 131.1,325.2 131.5,322.0 131.9,320.9 132.3,319.1 132.7,316.9 133.1,312.4 133.5,315.1 133.9,316.0 134.3,313.9 134.7,319.5 135.1,318.7 135.5,321.4 135.9,321.8 136.3,321.9 136.7,327.4 137.1,328.6 137.5,331.0 137.9,331.9 138.3,335.2 138.7,337.0 139.1,339.9 139.5,343.2 139.9,345.5 140.3,347.4 140.7,348.4 141.1,349.4 141.5,349.9 141.9,351.7 142.3,353.1 142.7,352.7 143.1,353.9 143.5,354.6 143.9,354.2 144.3,355.2 144.7,355.2 145.1,355.2 145.5,355.2 145.9,355.2 146.3,355.2 146.7,355.2 147.1,355.2 147.5,355.2 147.9,355.2 148.3,355.2 148.7,355.2 149.1,355.2 149.5,355.2 149.9,355.2 150.3,355.2 150.7,355.2 151.1,355.2 151.5,355.2 151.9,355.2 152.3,355.2 152.7,355.2 153.1,355.2 153.5,355.2 153.9,355.2 154.3,355.2 154.7,355.2 155.1,355.2 155.5,355.2 155.9,355.2 156.3,355.2 156.7,355.2 157.1,355.2 157.5,355.2 157.9,355.2 158.3,355.2 158.7,355.2 159.1,355.2 159.5,355.2 159.9,355.2 160.3,355.2 160.7,355.2 161.1,355.2 161.5,355.2 161.9,355.2 162.3,355.2 162.7,355.2 163.1,355.2 163.5,355.2 163.9,355.2 164.3,355.2 164.7,355.2 165.1,355.2 165.5,355.2 165.9,355.2 166.3,355.2 166.7,355.2 167.1,355.2 167.5,355.2 167.9,355.2 168.3,355.2 168.7,355.2 169.1,355.2 169.5,355.2 169.9,355.2 170.3,355.2 170.7,355.2 171.1,355.2 171.5,355.2 171.9,355.2 172.3,355.2 172.7,355.2 173.1,355.2 173.5,355.2 173.9,355.2 174.3,355.2 174.7,355.2 175.1,355.2 175.5,355.2 175.9,355.2 176.3,355.2 176.7,355.2 177.1,355.2 177.5,355.2 177.9,355.2 178.3,355.2 178.7,355.2 179.1,355.2 179.5,355.2 179.9,355.2 180.3,355.2 180.7,355.2 181.1,355.2 181.5,355.2 181.9,355.2 182.3,355.2 182.7,355.2 183.1,355.2 183.5,355.2 183.9,355.2 184.3,355.2 184.7,355.2 185.1,355.2 185.5,355.2 185.9,355.2 186.3,355.2 186.7,355.2 187.1,355.2 187.5,355.2 187.9,355.2 188.3,355.2 188.7,355.2 189.1,355.2 189.5,355.2 189.9,355.2 190.3,355.2 190.7,355.2 191.1,355.2 191.5,355.2 191.9,355.2 192.3,355.2 192.7,355.2 193.1,355.2 193.5,355.2 193.9,355.2 194.3,355.2" fill="none" stroke="#a9a9a9" stroke-width="1.7" stroke-linejoin="round" opacity="1.0"/>
<polyline points="122.3,351.2 122.7,350.6 123.1,349.6 123.5,350.0 123.9,349.6 124.3,348.9 124.7,347.6 125.1,348.0 125.5,347.8 125.9,345.2 126.3,344.0 126.7,343.2 127.1,343.0 127.5,341.7 127.9,338.4 128.3,336.6 128.7,336.4 129.1,332.0 129.5,331.8 129.9,326.3 130.3,329.4 130.7,321.0 131.1,318.9 131.5,323.9 131.9,319.6 132.3,316.8 132.7,313.4 133.1,318.1 133.5,313.3 133.9,316.6 134.3,314.5 134.7,318.2 135.1,317.4 135.5,321.5 135.9,321.4 136.3,327.6 136.7,328.1 137.1,327.6 137.5,330.0 137.9,332.7 138.3,338.2 138.7,338.0 139.1,340.6 139.5,342.1 139.9,344.6 140.3,347.7 140.7,347.8 141.1,350.2 141.5,350.4 141.9,351.0 142.3,351.9 142.7,354.1 143.1,353.3 143.5,354.0 143.9,355.2 144.3,355.2 144.7,354.3 145.1,355.2 145.5,355.2 145.9,355.2 146.3,355.2 146.7,355.2 147.1,355.2 147.5,355.2 147.9,355.2 148.3,355.2 148.7,355.2 149.1,355.2 149.5,355.2 149.9,355.2 150.3,355.2 150.7,355.2 151.1,355.2 151.5,355.2 151.9,355.2 152.3,355.2 152.7,355.2 153.1,355.2 153.5,355.2 153.9,355.2 154.3,355.2 154.7,355.2 155.1,355.2 155.5,355.2 155.9,355.2 156.3,355.2 156.7,355.2 157.1,355.2 157.5,355.2 157.9,355.2 158.3,355.2 158.7,355.2 159.1,355.2 159.5,355.2 159.9,355.2 160.3,355.2 160.7,355.2 161.1,355.2 161.5,355.2 161.9,355.2 162.3,355.2 162.7,355.2 163.1,355.2 163.5,355.2 163.9,355.2 164.3,355.2 164.7,355.2 165.1,355.2 165.5,355.2 165.9,355.2 166.3,355.2 166.7,355.2 167.1,355.2 167.5,355.2 167.9,355.2 168.3,355.2 168.7,355.2 169.1,355.2 169.5,355.2 169.9,355.2 170.3,355.2 170.7,355.2 171.1,355.2 171.5,355.2 171.9,355.2 172.3,355.2 172.7,355.2 173.1,355.2 173.5,355.2 173.9,355.2 174.3,355.2 174.7,355.2 175.1,355.2 175.5,355.2 175.9,355.2 176.3,355.2 176.7,355.2 177.1,355.2 177.5,355.2 177.9,355.2 178.3,355.2 178.7,355.2 179.1,355.2 179.5,355.2 179.9,355.2 180.3,355.2 180.7,355.2 181.1,355.2 181.5,355.2 181.9,355.2 182.3,355.2 182.7,355.2 183.1,355.2 183.5,355.2 183.9,355.2 184.3,355.2 184.7,355.2 185.1,355.2 185.5,355.2 185.9,355.2 186.3,355.2 186.7,355.2 187.1,355.2 187.5,355.2 187.9,355.2 188.3,355.2 188.7,355.2 189.1,355.2 189.5,355.2 189.9,355.2 190.3,355.2 190.7,355.2 191.1,355.2 191.5,355.2 191.9,355.2 192.3,355.2 192.7,355.2 193.1,355.2 193.5,355.2 193.9,355.2 194.3,355.2" fill="none" stroke="#a9a9a9" stroke-width="0.6" stroke-linejoin="round" opacity="0.70"/>
<polyline points="122.3,355.2 122.5,355.2 122.8,355.2 123.0,355.2 123.3,355.2 123.5,355.2 123.8,355.2 124.0,355.2 124.3,355.2 124.5,355.2 124.8,355.2 125.0,355.2 125.3,355.2 125.5,355.2 125.8,355.2 126.0,355.2 126.3,355.2 126.5,355.2 126.8,355.2 127.0,355.2 127.3,355.2 127.5,355.2 127.8,355.2 128.1,355.2 128.3,355.2 128.6,355.2 128.8,355.2 129.1,354.0 129.3,354.0 129.6,353.9 129.8,353.0 130.1,353.7 130.3,352.5 130.6,352.8 130.8,352.9 131.1,352.3 131.3,351.8 131.6,352.2 131.8,351.1 132.1,351.0 132.3,351.8 132.6,350.8 132.8,350.8 133.1,351.4 133.3,350.4 133.6,350.2 133.8,351.0 134.1,349.8 134.3,349.5 134.6,349.1 134.8,349.2 135.1,347.9 135.3,350.1 135.6,347.1 135.8,347.2 136.1,349.1 136.3,348.4 136.6,349.2 136.8,348.1 137.1,348.3 137.3,346.4 137.6,347.6 137.8,346.2 138.1,343.9 138.3,344.6 138.6,344.8 138.8,346.4 139.1,346.1 139.3,346.1 139.6,342.9 139.8,342.9 140.1,343.8 140.3,339.1 140.6,337.5 140.8,338.7 141.1,339.5 141.3,336.7 141.6,334.4 141.8,336.6 142.1,336.0 142.3,338.5 142.6,338.3 142.8,338.0 143.1,328.7 143.3,328.7 143.6,331.0 143.8,326.8 144.1,330.3 144.3,329.5 144.6,334.7 144.8,334.9 145.1,334.7 145.3,328.3 145.6,326.7 145.8,329.8 146.1,331.8 146.3,325.8 146.6,326.7 146.8,329.5 147.1,331.6 147.3,331.2 147.6,335.5 147.8,336.8 148.1,334.2 148.3,334.3 148.6,338.8 148.8,340.2 149.1,342.6 149.3,340.4 149.6,341.8 149.8,344.6 150.1,343.0 150.3,344.9 150.6,347.3 150.8,347.8 151.1,349.6 151.3,349.1 151.6,349.8 151.8,349.9 152.1,352.0 152.3,352.5 152.6,351.7 152.8,353.3 153.1,353.2 153.3,353.4 153.6,353.7 153.8,355.2 154.1,355.2 154.3,355.2 154.6,355.2 154.8,355.2 155.1,355.2 155.3,355.2 155.6,355.2 155.8,355.2 156.1,355.2 156.3,355.2 156.6,355.2 156.8,355.2 157.1,355.2 157.3,355.2 157.6,355.2 157.8,355.2 158.1,355.2 158.3,355.2 158.6,355.2 158.8,355.2 159.1,355.2 159.3,355.2 159.6,355.2 159.8,355.2 160.1,355.2 160.3,355.2 160.6,355.2 160.8,355.2 161.1,355.2 161.3,355.2 161.6,355.2 161.8,355.2 162.1,355.2 162.3,355.2 162.6,355.2 162.8,355.2 163.1,355.2 163.3,355.2 163.6,355.2 163.8,355.2 164.1,355.2 164.3,355.2 164.6,355.2 164.8,355.2 165.1,355.2 165.3,355.2 165.6,355.2 165.8,355.2 166.1,355.2 166.3,355.2 166.6,355.2 166.8,355.2 167.1,355.2 167.3,355.2 167.6,355.2 167.8,355.2 168.1,355.2 168.3,355.2 168.6,355.2 168.8,355.2 169.1,355.2 169.3,355.2 169.6,355.2 169.8,355.2 170.1,355.2 170.3,355.2 170.6,355.2 170.8,355.2 171.1,355.2 171.3,355.2 171.6,355.2 171.8,355.2 172.1,355.2 172.3,355.2 172.6,355.2 172.8,355.2 173.1,355.2 173.3,355.2 173.6,355.2 173.8,355.2 174.1,355.2 174.3,355.2 174.6,355.2 174.8,355.2 175.1,355.2 175.3,355.2 175.6,355.2 175.8,355.2 176.1,355.2 176.3,355.2 176.6,355.2 176.8,355.2 177.1,355.2 177.3,355.2 177.6,355.2 177.8,355.2 178.1,355.2 178.3,355.2 178.6,355.2 178.8,355.2 179.1,355.2 179.3,355.2 179.6,355.2 179.8,355.2 180.1,355.2 180.3,355.2 180.6,355.2 180.8,355.2 181.1,355.2 181.3,355.2 181.6,355.2 181.8,355.2 182.1,355.2 182.3,355.2 182.6,355.2 182.8,355.2 183.1,355.2 183.3,355.2 183.6,355.2 183.8,355.2 184.1,355.2 184.3,355.2 184.6,355.2 184.8,355.2 185.1,355.2 185.3,355.2 185.6,355.2 185.8,355.2 186.1,355.2 186.3,355.2 186.6,355.2 186.8,355.2 187.1,355.2 187.3,355.2 187.6,355.2 187.8,355.2 188.1,355.2 188.3,355.2 188.6,355.2 188.8,355.2 189.1,355.2 189.3,355.2 189.6,355.2 189.8,355.2 190.1,355.2 190.3,355.2 190.6,355.2 190.8,355.2 191.1,355.2 191.3,355.2 191.6,355.2 191.8,355.2 192.1,355.2 192.3,355.2 192.6,355.2 192.8,355.2 193.1,355.2 193.3,355.2 193.6,355.2 193.8,355.2 194.1,355.2 194.3,355.2 194.6,355.2" fill="none" stroke="#c6c832" stroke-width="0.3" opacity="0.55"/>
<polyline points="122.3,355.2 122.7,355.2 123.1,355.2 123.5,355.2 123.9,355.2 124.3,355.2 124.7,355.2 125.1,355.2 125.5,355.2 125.9,355.2 126.3,355.2 126.7,355.1 127.1,354.9 127.5,355.2 127.9,354.5 128.3,354.5 128.7,353.6 129.1,354.1 129.5,353.1 129.9,352.9 130.3,352.8 130.7,352.3 131.1,351.6 131.5,352.3 131.9,351.9 132.3,350.5 132.7,350.7 133.1,349.9 133.5,350.1 133.9,349.0 134.3,348.5 134.7,347.3 135.1,348.5 135.5,347.2 135.9,347.4 136.3,346.6 136.7,346.7 137.1,344.8 137.5,344.7 137.9,345.7 138.3,344.2 138.7,342.5 139.1,340.9 139.5,342.4 139.9,339.2 140.3,338.0 140.7,337.5 141.1,336.8 141.5,333.0 141.9,331.6 142.3,331.1 142.7,329.2 143.1,330.0 143.5,325.0 143.9,325.0 144.3,327.8 144.7,327.0 145.1,325.4 145.5,322.8 145.9,323.4 146.3,324.9 146.7,328.5 147.1,326.7 147.5,328.9 147.9,329.9 148.3,332.1 148.7,336.6 149.1,337.2 149.5,340.3 149.9,341.7 150.3,343.4 150.7,346.1 151.1,348.4 151.5,349.8 151.9,349.8 152.3,350.8 152.7,353.0 153.1,352.7 153.5,353.3 153.9,354.6 154.3,354.8 154.7,354.7 155.1,355.2 155.5,355.2 155.9,355.2 156.3,355.2 156.7,355.2 157.1,355.2 157.5,355.2 157.9,355.2 158.3,355.2 158.7,355.2 159.1,355.2 159.5,355.2 159.9,355.2 160.3,355.2 160.7,355.2 161.1,355.2 161.5,355.2 161.9,355.2 162.3,355.2 162.7,355.2 163.1,355.2 163.5,355.2 163.9,355.2 164.3,355.2 164.7,355.2 165.1,355.2 165.5,355.2 165.9,355.2 166.3,355.2 166.7,355.2 167.1,355.2 167.5,355.2 167.9,355.2 168.3,355.2 168.7,355.2 169.1,355.2 169.5,355.2 169.9,355.2 170.3,355.2 170.7,355.2 171.1,355.2 171.5,355.2 171.9,355.2 172.3,355.2 172.7,355.2 173.1,355.2 173.5,355.2 173.9,355.2 174.3,355.2 174.7,355.2 175.1,355.2 175.5,355.2 175.9,355.2 176.3,355.2 176.7,355.2 177.1,355.2 177.5,355.2 177.9,355.2 178.3,355.2 178.7,355.2 179.1,355.2 179.5,355.2 179.9,355.2 180.3,355.2 180.7,355.2 181.1,355.2 181.5,355.2 181.9,355.2 182.3,355.2 182.7,355.2 183.1,355.2 183.5,355.2 183.9,355.2 184.3,355.2 184.7,355.2 185.1,355.2 185.5,355.2 185.9,355.2 186.3,355.2 186.7,355.2 187.1,355.2 187.5,355.2 187.9,355.2 188.3,355.2 188.7,355.2 189.1,355.2 189.5,355.2 189.9,355.2 190.3,355.2 190.7,355.2 191.1,355.2 191.5,355.2 191.9,355.2 192.3,355.2 192.7,355.2 193.1,355.2 193.5,355.2 193.9,355.2 194.3,355.2" fill="none" stroke="#c6c832" stroke-width="1.5" stroke-linejoin="round" opacity="1.0"/>
<polyline points="122.3,355.2 122.7,355.2 123.1,355.2 123.5,355.2 123.9,355.2 124.3,355.2 124.7,355.2 125.1,355.2 125.5,355.2 125.9,355.2 126.3,355.2 126.7,355.2 127.1,355.2 127.5,355.2 127.9,354.2 128.3,354.0 128.7,353.7 129.1,354.8 129.5,352.4 129.9,353.3 130.3,353.5 130.7,351.9 131.1,352.3 131.5,351.5 131.9,350.4 132.3,349.3 132.7,349.7 133.1,349.2 133.5,349.3 133.9,348.8 134.3,348.3 134.7,348.8 135.1,347.1 135.5,347.9 135.9,347.6 136.3,345.6 136.7,346.6 137.1,345.0 137.5,345.5 137.9,345.2 138.3,343.8 138.7,341.8 139.1,340.7 139.5,341.9 139.9,338.6 140.3,339.0 140.7,339.7 141.1,333.1 141.5,333.5 141.9,334.1 142.3,329.2 142.7,330.4 143.1,327.7 143.5,330.1 143.9,323.6 144.3,324.3 144.7,324.3 145.1,321.6 145.5,323.3 145.9,322.7 146.3,322.5 146.7,323.4 147.1,324.6 147.5,329.7 147.9,329.0 148.3,332.8 148.7,336.4 149.1,340.5 149.5,340.7 149.9,343.0 150.3,342.6 150.7,345.4 151.1,348.2 151.5,348.0 151.9,350.7 152.3,351.2 152.7,351.6 153.1,353.2 153.5,353.5 153.9,354.1 154.3,355.2 154.7,355.2 155.1,354.6 155.5,355.2 155.9,355.2 156.3,355.2 156.7,355.2 157.1,355.2 157.5,355.2 157.9,355.2 158.3,355.2 158.7,355.2 159.1,355.2 159.5,355.2 159.9,355.2 160.3,355.2 160.7,355.2 161.1,355.2 161.5,355.2 161.9,355.2 162.3,355.2 162.7,355.2 163.1,355.2 163.5,355.2 163.9,355.2 164.3,355.2 164.7,355.2 165.1,355.2 165.5,355.2 165.9,355.2 166.3,355.2 166.7,355.2 167.1,355.2 167.5,355.2 167.9,355.2 168.3,355.2 168.7,355.2 169.1,355.2 169.5,355.2 169.9,355.2 170.3,355.2 170.7,355.2 171.1,355.2 171.5,355.2 171.9,355.2 172.3,355.2 172.7,355.2 173.1,355.2 173.5,355.2 173.9,355.2 174.3,355.2 174.7,355.2 175.1,355.2 175.5,355.2 175.9,355.2 176.3,355.2 176.7,355.2 177.1,355.2 177.5,355.2 177.9,355.2 178.3,355.2 178.7,355.2 179.1,355.2 179.5,355.2 179.9,355.2 180.3,355.2 180.7,355.2 181.1,355.2 181.5,355.2 181.9,355.2 182.3,355.2 182.7,355.2 183.1,355.2 183.5,355.2 183.9,355.2 184.3,355.2 184.7,355.2 185.1,355.2 185.5,355.2 185.9,355.2 186.3,355.2 186.7,355.2 187.1,355.2 187.5,355.2 187.9,355.2 188.3,355.2 188.7,355.2 189.1,355.2 189.5,355.2 189.9,355.2 190.3,355.2 190.7,355.2 191.1,355.2 191.5,355.2 191.9,355.2 192.3,355.2 192.7,355.2 193.1,355.2 193.5,355.2 193.9,355.2 194.3,355.2" fill="none" stroke="#c6c832" stroke-width="0.6" stroke-linejoin="round" opacity="0.70"/>
<polyline points="122.3,355.2 122.5,355.2 122.8,355.2 123.0,355.2 123.3,355.2 123.5,355.2 123.8,355.2 124.0,355.2 124.3,355.2 124.5,355.2 124.8,355.2 125.0,355.2 125.3,355.2 125.5,355.2 125.8,355.2 126.0,355.2 126.3,355.2 126.5,355.2 126.8,355.2 127.0,355.2 127.3,355.2 127.5,355.2 127.8,355.2 128.1,355.2 128.3,355.2 128.6,355.2 128.8,355.2 129.1,355.2 129.3,355.2 129.6,355.2 129.8,355.2 130.1,355.2 130.3,355.2 130.6,355.2 130.8,355.2 131.1,355.2 131.3,355.2 131.6,355.2 131.8,355.2 132.1,355.2 132.3,355.2 132.6,355.2 132.8,355.2 133.1,355.2 133.3,355.2 133.6,355.2 133.8,355.2 134.1,355.2 134.3,355.2 134.6,355.2 134.8,355.2 135.1,355.2 135.3,355.2 135.6,355.2 135.8,355.2 136.1,355.2 136.3,355.2 136.6,355.2 136.8,355.2 137.1,355.2 137.3,355.2 137.6,355.2 137.8,355.2 138.1,355.2 138.3,355.2 138.6,355.2 138.8,353.7 139.1,353.7 139.3,353.1 139.6,352.2 139.8,351.6 140.1,350.6 140.3,351.1 140.6,349.9 140.8,349.8 141.1,348.2 141.3,346.4 141.6,344.7 141.8,341.9 142.1,339.2 142.3,341.1 142.6,337.6 142.8,337.3 143.1,332.8 143.3,329.5 143.6,328.7 143.8,324.2 144.1,327.8 144.3,325.0 144.6,328.5 144.8,319.7 145.1,317.7 145.3,316.2 145.6,315.3 145.8,321.8 146.1,316.1 146.3,307.7 146.6,309.7 146.8,312.6 147.1,308.3 147.3,319.7 147.6,309.6 147.8,319.2 148.1,316.9 148.3,308.3 148.6,311.6 148.8,319.3 149.1,323.0 149.3,320.6 149.6,321.4 149.8,326.5 150.1,325.0 150.3,329.7 150.6,337.2 150.8,331.9 151.1,337.0 151.3,339.1 151.6,338.9 151.8,343.1 152.1,345.6 152.3,346.4 152.6,349.0 152.8,347.9 153.1,350.4 153.3,349.8 153.6,351.6 153.8,351.4 154.1,353.1 154.3,353.6 154.6,353.5 154.8,355.2 155.1,355.2 155.3,355.2 155.6,355.2 155.8,355.2 156.1,355.2 156.3,355.2 156.6,355.2 156.8,355.2 157.1,355.2 157.3,355.2 157.6,355.2 157.8,355.2 158.1,355.2 158.3,355.2 158.6,355.2 158.8,355.2 159.1,355.2 159.3,355.2 159.6,355.2 159.8,355.2 160.1,355.2 160.3,355.2 160.6,355.2 160.8,355.2 161.1,355.2 161.3,355.2 161.6,355.2 161.8,355.2 162.1,355.2 162.3,355.2 162.6,355.2 162.8,355.2 163.1,355.2 163.3,355.2 163.6,355.2 163.8,355.2 164.1,355.2 164.3,355.2 164.6,355.2 164.8,355.2 165.1,355.2 165.3,355.2 165.6,355.2 165.8,355.2 166.1,355.2 166.3,355.2 166.6,355.2 166.8,355.2 167.1,355.2 167.3,355.2 167.6,355.2 167.8,355.2 168.1,355.2 168.3,355.2 168.6,355.2 168.8,355.2 169.1,355.2 169.3,355.2 169.6,355.2 169.8,355.2 170.1,355.2 170.3,355.2 170.6,355.2 170.8,355.2 171.1,355.2 171.3,355.2 171.6,355.2 171.8,355.2 172.1,355.2 172.3,355.2 172.6,355.2 172.8,355.2 173.1,355.2 173.3,355.2 173.6,355.2 173.8,355.2 174.1,355.2 174.3,355.2 174.6,355.2 174.8,355.2 175.1,355.2 175.3,355.2 175.6,355.2 175.8,355.2 176.1,355.2 176.3,355.2 176.6,355.2 176.8,355.2 177.1,355.2 177.3,355.2 177.6,355.2 177.8,355.2 178.1,355.2 178.3,355.2 178.6,355.2 178.8,355.2 179.1,355.2 179.3,355.2 179.6,355.2 179.8,355.2 180.1,355.2 180.3,355.2 180.6,355.2 180.8,355.2 181.1,355.2 181.3,355.2 181.6,355.2 181.8,355.2 182.1,355.2 182.3,355.2 182.6,355.2 182.8,355.2 183.1,355.2 183.3,355.2 183.6,355.2 183.8,355.2 184.1,355.2 184.3,355.2 184.6,355.2 184.8,355.2 185.1,355.2 185.3,355.2 185.6,355.2 185.8,355.2 186.1,355.2 186.3,355.2 186.6,355.2 186.8,355.2 187.1,355.2 187.3,355.2 187.6,355.2 187.8,355.2 188.1,355.2 188.3,355.2 188.6,355.2 188.8,355.2 189.1,355.2 189.3,355.2 189.6,355.2 189.8,355.2 190.1,355.2 190.3,355.2 190.6,355.2 190.8,355.2 191.1,355.2 191.3,355.2 191.6,355.2 191.8,355.2 192.1,355.2 192.3,355.2 192.6,355.2 192.8,355.2 193.1,355.2 193.3,355.2 193.6,355.2 193.8,355.2 194.1,355.2 194.3,355.2 194.6,355.2" fill="none" stroke="#4f9a26" stroke-width="0.3" opacity="0.55"/>
<polyline points="122.3,355.2 122.7,355.2 123.1,355.2 123.5,355.2 123.9,355.2 124.3,355.2 124.7,355.2 125.1,355.2 125.5,355.2 125.9,355.2 126.3,355.2 126.7,355.2 127.1,355.2 127.5,355.2 127.9,355.2 128.3,355.2 128.7,355.2 129.1,355.2 129.5,355.2 129.9,355.2 130.3,355.2 130.7,355.2 131.1,355.2 131.5,355.2 131.9,355.2 132.3,355.2 132.7,355.2 133.1,355.2 133.5,355.2 133.9,355.2 134.3,355.2 134.7,355.2 135.1,355.2 135.5,355.2 135.9,355.2 136.3,355.2 136.7,355.2 137.1,355.2 137.5,354.7 137.9,354.7 138.3,354.0 138.7,353.5 139.1,353.7 139.5,352.8 139.9,350.7 140.3,349.6 140.7,348.1 141.1,345.9 141.5,342.8 141.9,340.2 142.3,337.6 142.7,333.0 143.1,332.2 143.5,327.5 143.9,320.3 144.3,320.2 144.7,312.6 145.1,310.8 145.5,309.5 145.9,301.1 146.3,305.5 146.7,301.5 147.1,300.6 147.5,297.7 147.9,305.5 148.3,311.5 148.7,312.1 149.1,310.0 149.5,320.3 149.9,323.5 150.3,325.1 150.7,329.5 151.1,334.9 151.5,338.5 151.9,342.1 152.3,345.5 152.7,346.0 153.1,349.2 153.5,350.5 153.9,352.3 154.3,352.8 154.7,353.8 155.1,354.0 155.5,355.2 155.9,355.2 156.3,355.2 156.7,355.2 157.1,355.2 157.5,355.2 157.9,355.2 158.3,355.2 158.7,355.2 159.1,355.2 159.5,355.2 159.9,355.2 160.3,355.2 160.7,355.2 161.1,355.2 161.5,355.2 161.9,355.2 162.3,355.2 162.7,355.2 163.1,355.2 163.5,355.2 163.9,355.2 164.3,355.2 164.7,355.2 165.1,355.2 165.5,355.2 165.9,355.2 166.3,355.2 166.7,355.2 167.1,355.2 167.5,355.2 167.9,355.2 168.3,355.2 168.7,355.2 169.1,355.2 169.5,355.2 169.9,355.2 170.3,355.2 170.7,355.2 171.1,355.2 171.5,355.2 171.9,355.2 172.3,355.2 172.7,355.2 173.1,355.2 173.5,355.2 173.9,355.2 174.3,355.2 174.7,355.2 175.1,355.2 175.5,355.2 175.9,355.2 176.3,355.2 176.7,355.2 177.1,355.2 177.5,355.2 177.9,355.2 178.3,355.2 178.7,355.2 179.1,355.2 179.5,355.2 179.9,355.2 180.3,355.2 180.7,355.2 181.1,355.2 181.5,355.2 181.9,355.2 182.3,355.2 182.7,355.2 183.1,355.2 183.5,355.2 183.9,355.2 184.3,355.2 184.7,355.2 185.1,355.2 185.5,355.2 185.9,355.2 186.3,355.2 186.7,355.2 187.1,355.2 187.5,355.2 187.9,355.2 188.3,355.2 188.7,355.2 189.1,355.2 189.5,355.2 189.9,355.2 190.3,355.2 190.7,355.2 191.1,355.2 191.5,355.2 191.9,355.2 192.3,355.2 192.7,355.2 193.1,355.2 193.5,355.2 193.9,355.2 194.3,355.2" fill="none" stroke="#4f9a26" stroke-width="1.5" stroke-linejoin="round" opacity="1.0"/>
<polyline points="122.3,355.2 122.7,355.2 123.1,355.2 123.5,355.2 123.9,355.2 124.3,355.2 124.7,355.2 125.1,355.2 125.5,355.2 125.9,355.2 126.3,355.2 126.7,355.2 127.1,355.2 127.5,355.2 127.9,355.2 128.3,355.2 128.7,355.2 129.1,355.2 129.5,355.2 129.9,355.2 130.3,355.2 130.7,355.2 131.1,355.2 131.5,355.2 131.9,355.2 132.3,355.2 132.7,355.2 133.1,355.2 133.5,355.2 133.9,355.2 134.3,355.2 134.7,355.2 135.1,355.2 135.5,355.2 135.9,355.2 136.3,355.2 136.7,355.2 137.1,355.2 137.5,354.2 137.9,355.2 138.3,353.9 138.7,354.9 139.1,353.4 139.5,353.1 139.9,350.2 140.3,349.0 140.7,347.5 141.1,347.1 141.5,342.5 141.9,342.1 142.3,336.8 142.7,332.0 143.1,326.0 143.5,327.5 143.9,323.1 144.3,314.4 144.7,318.2 145.1,310.1 145.5,302.2 145.9,310.0 146.3,305.8 146.7,299.6 147.1,298.3 147.5,298.4 147.9,304.6 148.3,311.1 148.7,315.3 149.1,308.1 149.5,319.9 149.9,321.8 150.3,327.2 150.7,329.4 151.1,334.1 151.5,339.0 151.9,341.8 152.3,343.8 152.7,346.9 153.1,347.7 153.5,350.6 153.9,351.1 154.3,353.1 154.7,353.0 155.1,354.0 155.5,355.2 155.9,354.4 156.3,355.2 156.7,355.2 157.1,355.2 157.5,355.2 157.9,355.2 158.3,355.2 158.7,355.2 159.1,355.2 159.5,355.2 159.9,355.2 160.3,355.2 160.7,355.2 161.1,355.2 161.5,355.2 161.9,355.2 162.3,355.2 162.7,355.2 163.1,355.2 163.5,355.2 163.9,355.2 164.3,355.2 164.7,355.2 165.1,355.2 165.5,355.2 165.9,355.2 166.3,355.2 166.7,355.2 167.1,355.2 167.5,355.2 167.9,355.2 168.3,355.2 168.7,355.2 169.1,355.2 169.5,355.2 169.9,355.2 170.3,355.2 170.7,355.2 171.1,355.2 171.5,355.2 171.9,355.2 172.3,355.2 172.7,355.2 173.1,355.2 173.5,355.2 173.9,355.2 174.3,355.2 174.7,355.2 175.1,355.2 175.5,355.2 175.9,355.2 176.3,355.2 176.7,355.2 177.1,355.2 177.5,355.2 177.9,355.2 178.3,355.2 178.7,355.2 179.1,355.2 179.5,355.2 179.9,355.2 180.3,355.2 180.7,355.2 181.1,355.2 181.5,355.2 181.9,355.2 182.3,355.2 182.7,355.2 183.1,355.2 183.5,355.2 183.9,355.2 184.3,355.2 184.7,355.2 185.1,355.2 185.5,355.2 185.9,355.2 186.3,355.2 186.7,355.2 187.1,355.2 187.5,355.2 187.9,355.2 188.3,355.2 188.7,355.2 189.1,355.2 189.5,355.2 189.9,355.2 190.3,355.2 190.7,355.2 191.1,355.2 191.5,355.2 191.9,355.2 192.3,355.2 192.7,355.2 193.1,355.2 193.5,355.2 193.9,355.2 194.3,355.2" fill="none" stroke="#4f9a26" stroke-width="0.6" stroke-linejoin="round" opacity="0.70"/>
<polyline points="122.3,355.2 122.5,355.2 122.8,355.2 123.0,355.2 123.3,355.2 123.5,355.2 123.8,355.2 124.0,355.2 124.3,355.2 124.5,355.2 124.8,355.2 125.0,355.2 125.3,355.2 125.5,355.2 125.8,355.2 126.0,355.2 126.3,355.2 126.5,355.2 126.8,355.2 127.0,355.2 127.3,355.2 127.5,355.2 127.8,355.2 128.1,355.2 128.3,355.2 128.6,355.2 128.8,355.2 129.1,355.2 129.3,355.2 129.6,355.2 129.8,355.2 130.1,355.2 130.3,355.2 130.6,355.2 130.8,355.2 131.1,355.2 131.3,355.2 131.6,355.2 131.8,355.2 132.1,355.2 132.3,355.2 132.6,355.2 132.8,355.2 133.1,355.2 133.3,355.2 133.6,355.2 133.8,355.2 134.1,355.2 134.3,355.2 134.6,355.2 134.8,355.2 135.1,355.2 135.3,355.2 135.6,355.2 135.8,355.2 136.1,355.2 136.3,355.2 136.6,355.2 136.8,355.2 137.1,355.2 137.3,355.2 137.6,355.2 137.8,355.2 138.1,355.2 138.3,355.2 138.6,355.2 138.8,355.2 139.1,355.2 139.3,355.2 139.6,355.2 139.8,355.2 140.1,355.2 140.3,355.2 140.6,355.2 140.8,355.2 141.1,355.2 141.3,355.2 141.6,355.2 141.8,355.2 142.1,355.2 142.3,355.2 142.6,355.2 142.8,355.2 143.1,355.2 143.3,355.2 143.6,355.2 143.8,355.2 144.1,355.2 144.3,355.2 144.6,355.2 144.8,355.2 145.1,355.2 145.3,355.2 145.6,355.2 145.8,355.2 146.1,355.2 146.3,355.2 146.6,354.1 146.8,353.4 147.1,353.5 147.3,353.0 147.6,351.9 147.8,352.2 148.1,350.6 148.3,350.0 148.6,349.6 148.8,348.8 149.1,348.7 149.3,347.9 149.6,346.2 149.8,344.8 150.1,343.9 150.3,342.1 150.6,340.2 150.8,336.1 151.1,335.9 151.3,334.0 151.6,337.1 151.8,328.9 152.1,326.5 152.3,330.9 152.6,330.8 152.8,324.8 153.1,325.2 153.3,313.9 153.6,319.7 153.8,309.7 154.1,319.5 154.3,319.9 154.6,313.2 154.8,316.3 155.1,310.7 155.3,307.2 155.6,309.9 155.8,317.2 156.1,317.9 156.3,308.1 156.6,310.3 156.8,309.8 157.1,315.4 157.3,310.7 157.6,311.2 157.8,318.7 158.1,326.9 158.3,322.8 158.6,332.0 158.8,322.5 159.1,326.4 159.3,336.2 159.6,337.3 159.8,331.4 160.1,335.4 160.3,339.3 160.6,340.5 160.8,342.2 161.1,345.0 161.3,345.7 161.6,345.9 161.8,346.6 162.1,346.7 162.3,349.2 162.6,350.6 162.8,350.0 163.1,350.5 163.3,352.2 163.6,351.8 163.8,353.2 164.1,353.2 164.3,353.4 164.6,355.2 164.8,355.2 165.1,355.2 165.3,355.2 165.6,355.2 165.8,355.2 166.1,355.2 166.3,355.2 166.6,355.2 166.8,355.2 167.1,355.2 167.3,355.2 167.6,355.2 167.8,355.2 168.1,355.2 168.3,355.2 168.6,355.2 168.8,355.2 169.1,355.2 169.3,355.2 169.6,355.2 169.8,355.2 170.1,355.2 170.3,355.2 170.6,355.2 170.8,355.2 171.1,355.2 171.3,355.2 171.6,355.2 171.8,355.2 172.1,355.2 172.3,355.2 172.6,355.2 172.8,355.2 173.1,355.2 173.3,355.2 173.6,355.2 173.8,355.2 174.1,355.2 174.3,355.2 174.6,355.2 174.8,355.2 175.1,355.2 175.3,355.2 175.6,355.2 175.8,355.2 176.1,355.2 176.3,355.2 176.6,355.2 176.8,355.2 177.1,355.2 177.3,355.2 177.6,355.2 177.8,355.2 178.1,355.2 178.3,355.2 178.6,355.2 178.8,355.2 179.1,355.2 179.3,355.2 179.6,355.2 179.8,355.2 180.1,355.2 180.3,355.2 180.6,355.2 180.8,355.2 181.1,355.2 181.3,355.2 181.6,355.2 181.8,355.2 182.1,355.2 182.3,355.2 182.6,355.2 182.8,355.2 183.1,355.2 183.3,355.2 183.6,355.2 183.8,355.2 184.1,355.2 184.3,355.2 184.6,355.2 184.8,355.2 185.1,355.2 185.3,355.2 185.6,355.2 185.8,355.2 186.1,355.2 186.3,355.2 186.6,355.2 186.8,355.2 187.1,355.2 187.3,355.2 187.6,355.2 187.8,355.2 188.1,355.2 188.3,355.2 188.6,355.2 188.8,355.2 189.1,355.2 189.3,355.2 189.6,355.2 189.8,355.2 190.1,355.2 190.3,355.2 190.6,355.2 190.8,355.2 191.1,355.2 191.3,355.2 191.6,355.2 191.8,355.2 192.1,355.2 192.3,355.2 192.6,355.2 192.8,355.2 193.1,355.2 193.3,355.2 193.6,355.2 193.8,355.2 194.1,355.2 194.3,355.2 194.6,355.2" fill="none" stroke="#661e78" stroke-width="0.3" opacity="0.55"/>
<polyline points="122.3,355.2 122.7,355.2 123.1,355.2 123.5,355.2 123.9,355.2 124.3,355.2 124.7,355.2 125.1,355.2 125.5,355.2 125.9,355.2 126.3,355.2 126.7,355.2 127.1,355.2 127.5,355.2 127.9,355.2 128.3,355.2 128.7,355.2 129.1,355.2 129.5,355.2 129.9,355.2 130.3,355.2 130.7,355.2 131.1,355.2 131.5,355.2 131.9,355.2 132.3,355.2 132.7,355.2 133.1,355.2 133.5,355.2 133.9,355.2 134.3,355.2 134.7,355.2 135.1,355.2 135.5,355.2 135.9,355.2 136.3,355.2 136.7,355.2 137.1,355.2 137.5,355.2 137.9,355.2 138.3,355.2 138.7,355.2 139.1,355.2 139.5,355.2 139.9,355.2 140.3,355.2 140.7,355.2 141.1,355.2 141.5,355.2 141.9,355.2 142.3,355.2 142.7,355.2 143.1,355.2 143.5,355.2 143.9,355.2 144.3,355.2 144.7,355.2 145.1,354.7 145.5,355.2 145.9,354.7 146.3,354.6 146.7,353.3 147.1,353.5 147.5,351.9 147.9,350.4 148.3,348.8 148.7,347.6 149.1,345.7 149.5,344.0 149.9,339.9 150.3,338.9 150.7,337.1 151.1,332.7 151.5,328.8 151.9,324.8 152.3,318.2 152.7,318.0 153.1,315.6 153.5,313.3 153.9,305.8 154.3,302.8 154.7,305.2 155.1,300.3 155.5,306.9 155.9,303.8 156.3,302.5 156.7,307.9 157.1,309.4 157.5,315.0 157.9,312.1 158.3,318.2 158.7,318.4 159.1,323.5 159.5,330.7 159.9,332.8 160.3,334.4 160.7,337.9 161.1,340.7 161.5,344.3 161.9,346.6 162.3,347.7 162.7,349.6 163.1,351.1 163.5,352.6 163.9,353.2 164.3,353.5 164.7,353.7 165.1,354.2 165.5,354.7 165.9,354.8 166.3,355.2 166.7,355.2 167.1,355.2 167.5,355.2 167.9,355.2 168.3,355.2 168.7,355.2 169.1,355.2 169.5,355.2 169.9,355.2 170.3,355.2 170.7,355.2 171.1,355.2 171.5,355.2 171.9,355.2 172.3,355.2 172.7,355.2 173.1,355.2 173.5,355.2 173.9,355.2 174.3,355.2 174.7,355.2 175.1,355.2 175.5,355.2 175.9,355.2 176.3,355.2 176.7,355.2 177.1,355.2 177.5,355.2 177.9,355.2 178.3,355.2 178.7,355.2 179.1,355.2 179.5,355.2 179.9,355.2 180.3,355.2 180.7,355.2 181.1,355.2 181.5,355.2 181.9,355.2 182.3,355.2 182.7,355.2 183.1,355.2 183.5,355.2 183.9,355.2 184.3,355.2 184.7,355.2 185.1,355.2 185.5,355.2 185.9,355.2 186.3,355.2 186.7,355.2 187.1,355.2 187.5,355.2 187.9,355.2 188.3,355.2 188.7,355.2 189.1,355.2 189.5,355.2 189.9,355.2 190.3,355.2 190.7,355.2 191.1,355.2 191.5,355.2 191.9,355.2 192.3,355.2 192.7,355.2 193.1,355.2 193.5,355.2 193.9,355.2 194.3,355.2" fill="none" stroke="#661e78" stroke-width="1.5" stroke-linejoin="round" opacity="1.0"/>
<polyline points="122.3,355.2 122.7,355.2 123.1,355.2 123.5,355.2 123.9,355.2 124.3,355.2 124.7,355.2 125.1,355.2 125.5,355.2 125.9,355.2 126.3,355.2 126.7,355.2 127.1,355.2 127.5,355.2 127.9,355.2 128.3,355.2 128.7,355.2 129.1,355.2 129.5,355.2 129.9,355.2 130.3,355.2 130.7,355.2 131.1,355.2 131.5,355.2 131.9,355.2 132.3,355.2 132.7,355.2 133.1,355.2 133.5,355.2 133.9,355.2 134.3,355.2 134.7,355.2 135.1,355.2 135.5,355.2 135.9,355.2 136.3,355.2 136.7,355.2 137.1,355.2 137.5,355.2 137.9,355.2 138.3,355.2 138.7,355.2 139.1,355.2 139.5,355.2 139.9,355.2 140.3,355.2 140.7,355.2 141.1,355.2 141.5,355.2 141.9,355.2 142.3,355.2 142.7,355.2 143.1,355.2 143.5,355.2 143.9,355.2 144.3,355.2 144.7,355.2 145.1,355.2 145.5,355.2 145.9,354.7 146.3,353.8 146.7,354.3 147.1,353.6 147.5,352.5 147.9,350.4 148.3,349.4 148.7,346.7 149.1,345.5 149.5,344.7 149.9,341.3 150.3,338.3 150.7,331.9 151.1,329.2 151.5,327.4 151.9,326.3 152.3,318.6 152.7,313.3 153.1,317.7 153.5,312.4 153.9,311.8 154.3,301.7 154.7,298.6 155.1,304.5 155.5,309.3 155.9,301.0 156.3,299.3 156.7,302.0 157.1,303.8 157.5,313.2 157.9,310.6 158.3,320.4 158.7,324.4 159.1,321.8 159.5,329.7 159.9,330.8 160.3,336.7 160.7,337.1 161.1,342.8 161.5,342.1 161.9,346.4 162.3,347.0 162.7,349.6 163.1,350.9 163.5,351.7 163.9,353.1 164.3,353.6 164.7,353.6 165.1,354.6 165.5,354.7 165.9,354.7 166.3,355.2 166.7,355.2 167.1,355.2 167.5,355.2 167.9,355.2 168.3,355.2 168.7,355.2 169.1,355.2 169.5,355.2 169.9,355.2 170.3,355.2 170.7,355.2 171.1,355.2 171.5,355.2 171.9,355.2 172.3,355.2 172.7,355.2 173.1,355.2 173.5,355.2 173.9,355.2 174.3,355.2 174.7,355.2 175.1,355.2 175.5,355.2 175.9,355.2 176.3,355.2 176.7,355.2 177.1,355.2 177.5,355.2 177.9,355.2 178.3,355.2 178.7,355.2 179.1,355.2 179.5,355.2 179.9,355.2 180.3,355.2 180.7,355.2 181.1,355.2 181.5,355.2 181.9,355.2 182.3,355.2 182.7,355.2 183.1,355.2 183.5,355.2 183.9,355.2 184.3,355.2 184.7,355.2 185.1,355.2 185.5,355.2 185.9,355.2 186.3,355.2 186.7,355.2 187.1,355.2 187.5,355.2 187.9,355.2 188.3,355.2 188.7,355.2 189.1,355.2 189.5,355.2 189.9,355.2 190.3,355.2 190.7,355.2 191.1,355.2 191.5,355.2 191.9,355.2 192.3,355.2 192.7,355.2 193.1,355.2 193.5,355.2 193.9,355.2 194.3,355.2" fill="none" stroke="#661e78" stroke-width="0.6" stroke-linejoin="round" opacity="0.70"/>
</g>
<line x1="125" y1="366.4" x2="187.5" y2="366.4" stroke="#111" stroke-width="1"/>
<polygon points="190.5,366.4 186.5,364.7 186.5,368.09999999999997" fill="#111"/>
<text x="155.60" y="376.50" font-size="7.2" text-anchor="middle" font-weight="normal" fill="#222" >IgD</text>
<rect x="211.3" y="298" width="73.19999999999999" height="58.30000000000001" fill="#fff" stroke="#9a9a9a" stroke-width="0.6"/>
<text x="209.80" y="356.90" font-size="3.9" text-anchor="end" font-weight="normal" fill="#444" >0</text>
<line x1="210.5" y1="355.50" x2="211.3" y2="355.50" stroke="#999" stroke-width="0.4"/>
<text x="209.80" y="350.02" font-size="3.9" text-anchor="end" font-weight="normal" fill="#444" >10</text>
<line x1="210.5" y1="348.62" x2="211.3" y2="348.62" stroke="#999" stroke-width="0.4"/>
<text x="209.80" y="343.15" font-size="3.9" text-anchor="end" font-weight="normal" fill="#444" >20</text>
<line x1="210.5" y1="341.75" x2="211.3" y2="341.75" stroke="#999" stroke-width="0.4"/>
<text x="209.80" y="336.27" font-size="3.9" text-anchor="end" font-weight="normal" fill="#444" >30</text>
<line x1="210.5" y1="334.88" x2="211.3" y2="334.88" stroke="#999" stroke-width="0.4"/>
<text x="209.80" y="329.40" font-size="3.9" text-anchor="end" font-weight="normal" fill="#444" >40</text>
<line x1="210.5" y1="328.00" x2="211.3" y2="328.00" stroke="#999" stroke-width="0.4"/>
<text x="209.80" y="322.52" font-size="3.9" text-anchor="end" font-weight="normal" fill="#444" >50</text>
<line x1="210.5" y1="321.12" x2="211.3" y2="321.12" stroke="#999" stroke-width="0.4"/>
<text x="209.80" y="315.65" font-size="3.9" text-anchor="end" font-weight="normal" fill="#444" >60</text>
<line x1="210.5" y1="314.25" x2="211.3" y2="314.25" stroke="#999" stroke-width="0.4"/>
<text x="209.80" y="308.77" font-size="3.9" text-anchor="end" font-weight="normal" fill="#444" >70</text>
<line x1="210.5" y1="307.38" x2="211.3" y2="307.38" stroke="#999" stroke-width="0.4"/>
<text x="209.80" y="301.90" font-size="3.9" text-anchor="end" font-weight="normal" fill="#444" >80</text>
<line x1="210.5" y1="300.50" x2="211.3" y2="300.50" stroke="#999" stroke-width="0.4"/>
<text x="208.20" y="363.70" font-size="3.9" fill="#555">10<tspan font-size="2.8" dy="-1.5">2</tspan></text>
<line x1="211.30" y1="356.3" x2="211.30" y2="357.1" stroke="#999" stroke-width="0.4"/>
<text x="223.50" y="363.70" font-size="3.9" fill="#555">10<tspan font-size="2.8" dy="-1.5">3</tspan></text>
<line x1="226.60" y1="356.3" x2="226.60" y2="357.1" stroke="#999" stroke-width="0.4"/>
<text x="238.80" y="363.70" font-size="3.9" fill="#555">10<tspan font-size="2.8" dy="-1.5">4</tspan></text>
<line x1="241.90" y1="356.3" x2="241.90" y2="357.1" stroke="#999" stroke-width="0.4"/>
<text x="254.10" y="363.70" font-size="3.9" fill="#555">10<tspan font-size="2.8" dy="-1.5">5</tspan></text>
<line x1="257.20" y1="356.3" x2="257.20" y2="357.1" stroke="#999" stroke-width="0.4"/>
<text x="269.40" y="363.70" font-size="3.9" fill="#555">10<tspan font-size="2.8" dy="-1.5">6</tspan></text>
<line x1="272.50" y1="356.3" x2="272.50" y2="357.1" stroke="#999" stroke-width="0.4"/>
<defs><clipPath id="cp211_298"><rect x="211.3" y="298" width="73.19999999999999" height="58.00"/></clipPath></defs>
<g clip-path="url(#cp211_298)">
<polygon points="211.60,355.5 211.6,339.6 212.0,338.9 212.4,337.0 212.8,334.6 213.2,336.0 213.6,332.0 214.0,332.7 214.4,329.4 214.8,327.9 215.2,332.1 215.6,323.9 216.0,328.5 216.4,321.6 216.8,327.5 217.2,322.4 217.6,322.7 218.0,316.0 218.4,314.5 218.8,317.0 219.2,311.9 219.6,314.1 220.0,314.1 220.4,312.7 220.8,311.3 221.2,314.7 221.6,307.8 222.0,307.8 222.4,304.6 222.8,302.9 223.2,311.6 223.6,303.0 224.0,312.5 224.4,311.4 224.8,301.3 225.2,310.7 225.6,312.1 226.0,303.4 226.4,308.7 226.8,301.5 227.2,307.1 227.6,315.5 228.0,310.6 228.4,317.8 228.8,321.0 229.2,330.5 229.6,333.0 230.0,338.7 230.4,341.7 230.8,343.5 231.2,346.3 231.6,350.3 232.0,351.2 232.4,352.4 232.8,353.5 233.2,354.2 233.6,354.6 234.0,357.0 234.4,357.0 234.8,357.0 235.2,357.0 235.6,357.0 236.0,357.0 236.4,357.0 236.8,357.0 237.2,357.0 237.6,357.0 238.0,357.0 238.4,357.0 238.8,357.0 239.2,357.0 239.6,357.0 240.0,357.0 240.4,357.0 240.8,357.0 241.2,357.0 241.6,357.0 242.0,357.0 242.4,357.0 242.8,357.0 243.2,357.0 243.6,357.0 244.0,357.0 244.4,357.0 244.8,357.0 245.2,357.0 245.6,357.0 246.0,357.0 246.4,357.0 246.8,357.0 247.2,357.0 247.6,357.0 248.0,357.0 248.4,357.0 248.8,357.0 249.2,357.0 249.6,357.0 250.0,357.0 250.4,357.0 250.8,357.0 251.2,357.0 251.6,357.0 252.0,357.0 252.4,357.0 252.8,357.0 253.2,357.0 253.6,357.0 254.0,357.0 254.4,357.0 254.8,357.0 255.2,357.0 255.6,357.0 256.0,357.0 256.4,357.0 256.8,357.0 257.2,357.0 257.6,357.0 258.0,357.0 258.4,357.0 258.8,357.0 259.2,357.0 259.6,357.0 260.0,357.0 260.4,357.0 260.8,357.0 261.2,357.0 261.6,357.0 262.0,357.0 262.4,357.0 262.8,357.0 263.2,357.0 263.6,357.0 264.0,357.0 264.4,357.0 264.8,357.0 265.2,357.0 265.6,357.0 266.0,357.0 266.4,357.0 266.8,357.0 267.2,357.0 267.6,357.0 268.0,357.0 268.4,357.0 268.8,357.0 269.2,357.0 269.6,357.0 270.0,357.0 270.4,357.0 270.8,357.0 271.2,357.0 271.6,357.0 272.0,357.0 272.4,357.0 272.8,357.0 273.2,357.0 273.6,357.0 274.0,357.0 274.4,357.0 274.8,357.0 275.2,357.0 275.6,357.0 276.0,357.0 276.4,357.0 276.8,357.0 277.2,357.0 277.6,357.0 278.0,357.0 278.4,357.0 278.8,357.0 279.2,357.0 279.6,357.0 280.0,357.0 280.4,357.0 280.8,357.0 281.2,357.0 281.6,357.0 282.0,357.0 282.4,357.0 282.8,357.0 283.2,357.0 283.6,357.0 284.0,357.0 284.20,355.5" fill="#e6e6e6" opacity="0.5"/>
<polyline points="211.6,339.7 211.9,339.2 212.1,337.6 212.4,337.3 212.6,336.8 212.9,336.5 213.1,341.6 213.4,335.7 213.6,333.7 213.9,332.9 214.1,336.0 214.4,338.0 214.6,335.7 214.9,336.4 215.1,331.4 215.4,334.9 215.6,331.8 215.9,328.6 216.1,336.3 216.4,330.5 216.6,334.7 216.9,333.9 217.1,333.4 217.4,324.0 217.6,323.1 217.9,330.4 218.1,331.9 218.4,320.2 218.6,330.2 218.9,321.2 219.1,324.6 219.4,327.6 219.6,323.5 219.9,320.8 220.1,314.8 220.4,325.2 220.6,321.7 220.9,316.4 221.1,312.2 221.4,318.3 221.6,312.4 221.9,325.6 222.1,310.4 222.4,310.0 222.6,320.5 222.9,323.9 223.1,314.7 223.4,309.9 223.6,312.1 223.9,319.1 224.1,311.4 224.4,310.4 224.6,321.9 224.9,310.2 225.1,313.7 225.4,308.5 225.6,308.8 225.9,307.4 226.1,314.9 226.4,319.2 226.6,305.5 226.9,319.6 227.1,316.4 227.4,323.6 227.6,324.3 227.9,315.3 228.1,316.4 228.4,322.5 228.6,327.4 228.9,333.7 229.1,334.3 229.4,334.8 229.6,339.2 229.9,335.8 230.1,342.7 230.4,342.2 230.6,344.4 230.9,348.1 231.1,347.3 231.4,347.8 231.6,349.8 231.9,350.6 232.1,352.2 232.4,352.8 232.6,353.4 232.9,353.7 233.1,357.0 233.4,357.0 233.6,357.0 233.9,357.0 234.1,357.0 234.4,357.0 234.6,357.0 234.9,357.0 235.1,357.0 235.4,357.0 235.6,357.0 235.9,357.0 236.1,357.0 236.4,357.0 236.6,357.0 236.9,357.0 237.1,357.0 237.4,357.0 237.6,357.0 237.9,357.0 238.1,357.0 238.4,357.0 238.6,357.0 238.9,357.0 239.1,357.0 239.4,357.0 239.6,357.0 239.9,357.0 240.1,357.0 240.4,357.0 240.6,357.0 240.9,357.0 241.1,357.0 241.4,357.0 241.6,357.0 241.9,357.0 242.1,357.0 242.4,357.0 242.6,357.0 242.9,357.0 243.1,357.0 243.4,357.0 243.6,357.0 243.9,357.0 244.1,357.0 244.4,357.0 244.6,357.0 244.9,357.0 245.1,357.0 245.4,357.0 245.6,357.0 245.9,357.0 246.1,357.0 246.4,357.0 246.6,357.0 246.9,357.0 247.1,357.0 247.4,357.0 247.6,357.0 247.9,357.0 248.1,357.0 248.4,357.0 248.6,357.0 248.9,357.0 249.1,357.0 249.4,357.0 249.6,357.0 249.9,357.0 250.1,357.0 250.4,357.0 250.6,357.0 250.9,357.0 251.1,357.0 251.4,357.0 251.6,357.0 251.9,357.0 252.1,357.0 252.4,357.0 252.6,357.0 252.9,357.0 253.1,357.0 253.4,357.0 253.6,357.0 253.9,357.0 254.1,357.0 254.4,357.0 254.6,357.0 254.9,357.0 255.1,357.0 255.4,357.0 255.6,357.0 255.9,357.0 256.1,357.0 256.4,357.0 256.6,357.0 256.9,357.0 257.1,357.0 257.4,357.0 257.6,357.0 257.9,357.0 258.1,357.0 258.4,357.0 258.6,357.0 258.9,357.0 259.1,357.0 259.4,357.0 259.6,357.0 259.9,357.0 260.1,357.0 260.4,357.0 260.6,357.0 260.9,357.0 261.1,357.0 261.4,357.0 261.6,357.0 261.9,357.0 262.1,357.0 262.4,357.0 262.6,357.0 262.9,357.0 263.1,357.0 263.4,357.0 263.6,357.0 263.9,357.0 264.1,357.0 264.4,357.0 264.6,357.0 264.9,357.0 265.1,357.0 265.4,357.0 265.6,357.0 265.9,357.0 266.1,357.0 266.4,357.0 266.6,357.0 266.9,357.0 267.1,357.0 267.4,357.0 267.6,357.0 267.9,357.0 268.1,357.0 268.4,357.0 268.6,357.0 268.9,357.0 269.1,357.0 269.4,357.0 269.6,357.0 269.9,357.0 270.1,357.0 270.4,357.0 270.6,357.0 270.9,357.0 271.1,357.0 271.4,357.0 271.6,357.0 271.9,357.0 272.1,357.0 272.4,357.0 272.6,357.0 272.9,357.0 273.1,357.0 273.4,357.0 273.6,357.0 273.9,357.0 274.1,357.0 274.4,357.0 274.6,357.0 274.9,357.0 275.1,357.0 275.4,357.0 275.6,357.0 275.9,357.0 276.1,357.0 276.4,357.0 276.6,357.0 276.9,357.0 277.1,357.0 277.4,357.0 277.6,357.0 277.9,357.0 278.1,357.0 278.4,357.0 278.6,357.0 278.9,357.0 279.1,357.0 279.4,357.0 279.6,357.0 279.9,357.0 280.1,357.0 280.4,357.0 280.6,357.0 280.9,357.0 281.1,357.0 281.4,357.0 281.6,357.0 281.9,357.0 282.1,357.0 282.4,357.0 282.6,357.0 282.9,357.0 283.1,357.0 283.4,357.0 283.6,357.0 283.9,357.0 284.1,357.0" fill="none" stroke="#c8c8c8" stroke-width="0.3" opacity="0.44"/>
<polyline points="211.6,339.6 212.0,338.9 212.4,337.0 212.8,334.6 213.2,336.0 213.6,332.0 214.0,332.7 214.4,329.4 214.8,327.9 215.2,332.1 215.6,323.9 216.0,328.5 216.4,321.6 216.8,327.5 217.2,322.4 217.6,322.7 218.0,316.0 218.4,314.5 218.8,317.0 219.2,311.9 219.6,314.1 220.0,314.1 220.4,312.7 220.8,311.3 221.2,314.7 221.6,307.8 222.0,307.8 222.4,304.6 222.8,302.9 223.2,311.6 223.6,303.0 224.0,312.5 224.4,311.4 224.8,301.3 225.2,310.7 225.6,312.1 226.0,303.4 226.4,308.7 226.8,301.5 227.2,307.1 227.6,315.5 228.0,310.6 228.4,317.8 228.8,321.0 229.2,330.5 229.6,333.0 230.0,338.7 230.4,341.7 230.8,343.5 231.2,346.3 231.6,350.3 232.0,351.2 232.4,352.4 232.8,353.5 233.2,354.2 233.6,354.6 234.0,357.0 234.4,357.0 234.8,357.0 235.2,357.0 235.6,357.0 236.0,357.0 236.4,357.0 236.8,357.0 237.2,357.0 237.6,357.0 238.0,357.0 238.4,357.0 238.8,357.0 239.2,357.0 239.6,357.0 240.0,357.0 240.4,357.0 240.8,357.0 241.2,357.0 241.6,357.0 242.0,357.0 242.4,357.0 242.8,357.0 243.2,357.0 243.6,357.0 244.0,357.0 244.4,357.0 244.8,357.0 245.2,357.0 245.6,357.0 246.0,357.0 246.4,357.0 246.8,357.0 247.2,357.0 247.6,357.0 248.0,357.0 248.4,357.0 248.8,357.0 249.2,357.0 249.6,357.0 250.0,357.0 250.4,357.0 250.8,357.0 251.2,357.0 251.6,357.0 252.0,357.0 252.4,357.0 252.8,357.0 253.2,357.0 253.6,357.0 254.0,357.0 254.4,357.0 254.8,357.0 255.2,357.0 255.6,357.0 256.0,357.0 256.4,357.0 256.8,357.0 257.2,357.0 257.6,357.0 258.0,357.0 258.4,357.0 258.8,357.0 259.2,357.0 259.6,357.0 260.0,357.0 260.4,357.0 260.8,357.0 261.2,357.0 261.6,357.0 262.0,357.0 262.4,357.0 262.8,357.0 263.2,357.0 263.6,357.0 264.0,357.0 264.4,357.0 264.8,357.0 265.2,357.0 265.6,357.0 266.0,357.0 266.4,357.0 266.8,357.0 267.2,357.0 267.6,357.0 268.0,357.0 268.4,357.0 268.8,357.0 269.2,357.0 269.6,357.0 270.0,357.0 270.4,357.0 270.8,357.0 271.2,357.0 271.6,357.0 272.0,357.0 272.4,357.0 272.8,357.0 273.2,357.0 273.6,357.0 274.0,357.0 274.4,357.0 274.8,357.0 275.2,357.0 275.6,357.0 276.0,357.0 276.4,357.0 276.8,357.0 277.2,357.0 277.6,357.0 278.0,357.0 278.4,357.0 278.8,357.0 279.2,357.0 279.6,357.0 280.0,357.0 280.4,357.0 280.8,357.0 281.2,357.0 281.6,357.0 282.0,357.0 282.4,357.0 282.8,357.0 283.2,357.0 283.6,357.0 284.0,357.0" fill="none" stroke="#c8c8c8" stroke-width="1.3" stroke-linejoin="round" opacity="0.8"/>
<polyline points="211.6,337.0 212.0,340.3 212.4,334.4 212.8,338.2 213.2,333.3 213.6,334.7 214.0,333.2 214.4,327.3 214.8,331.0 215.2,330.1 215.6,323.7 216.0,328.1 216.4,322.3 216.8,322.1 217.2,328.8 217.6,318.1 218.0,322.9 218.4,312.1 218.8,317.5 219.2,324.5 219.6,309.0 220.0,315.6 220.4,306.8 220.8,321.5 221.2,304.0 221.6,315.0 222.0,301.9 222.4,319.4 222.8,305.7 223.2,309.7 223.6,309.2 224.0,305.8 224.4,311.5 224.8,316.2 225.2,313.7 225.6,302.6 226.0,303.5 226.4,311.5 226.8,313.4 227.2,300.4 227.6,301.4 228.0,316.9 228.4,316.5 228.8,322.2 229.2,331.3 229.6,328.6 230.0,337.6 230.4,341.2 230.8,342.1 231.2,346.2 231.6,350.0 232.0,352.4 232.4,352.9 232.8,353.3 233.2,355.2 233.6,354.4 234.0,357.0 234.4,357.0 234.8,357.0 235.2,357.0 235.6,357.0 236.0,357.0 236.4,357.0 236.8,357.0 237.2,357.0 237.6,357.0 238.0,357.0 238.4,357.0 238.8,357.0 239.2,357.0 239.6,357.0 240.0,357.0 240.4,357.0 240.8,357.0 241.2,357.0 241.6,357.0 242.0,357.0 242.4,357.0 242.8,357.0 243.2,357.0 243.6,357.0 244.0,357.0 244.4,357.0 244.8,357.0 245.2,357.0 245.6,357.0 246.0,357.0 246.4,357.0 246.8,357.0 247.2,357.0 247.6,357.0 248.0,357.0 248.4,357.0 248.8,357.0 249.2,357.0 249.6,357.0 250.0,357.0 250.4,357.0 250.8,357.0 251.2,357.0 251.6,357.0 252.0,357.0 252.4,357.0 252.8,357.0 253.2,357.0 253.6,357.0 254.0,357.0 254.4,357.0 254.8,357.0 255.2,357.0 255.6,357.0 256.0,357.0 256.4,357.0 256.8,357.0 257.2,357.0 257.6,357.0 258.0,357.0 258.4,357.0 258.8,357.0 259.2,357.0 259.6,357.0 260.0,357.0 260.4,357.0 260.8,357.0 261.2,357.0 261.6,357.0 262.0,357.0 262.4,357.0 262.8,357.0 263.2,357.0 263.6,357.0 264.0,357.0 264.4,357.0 264.8,357.0 265.2,357.0 265.6,357.0 266.0,357.0 266.4,357.0 266.8,357.0 267.2,357.0 267.6,357.0 268.0,357.0 268.4,357.0 268.8,357.0 269.2,357.0 269.6,357.0 270.0,357.0 270.4,357.0 270.8,357.0 271.2,357.0 271.6,357.0 272.0,357.0 272.4,357.0 272.8,357.0 273.2,357.0 273.6,357.0 274.0,357.0 274.4,357.0 274.8,357.0 275.2,357.0 275.6,357.0 276.0,357.0 276.4,357.0 276.8,357.0 277.2,357.0 277.6,357.0 278.0,357.0 278.4,357.0 278.8,357.0 279.2,357.0 279.6,357.0 280.0,357.0 280.4,357.0 280.8,357.0 281.2,357.0 281.6,357.0 282.0,357.0 282.4,357.0 282.8,357.0 283.2,357.0 283.6,357.0 284.0,357.0" fill="none" stroke="#c8c8c8" stroke-width="0.6" stroke-linejoin="round" opacity="0.56"/>
<polyline points="211.6,347.1 211.9,343.2 212.1,345.9 212.4,344.3 212.6,344.5 212.9,342.1 213.1,342.8 213.4,338.7 213.6,340.8 213.9,337.3 214.1,335.8 214.4,342.0 214.6,338.7 214.9,336.3 215.1,332.7 215.4,336.5 215.6,332.1 215.9,333.6 216.1,337.7 216.4,335.8 216.6,334.1 216.9,334.3 217.1,333.8 217.4,326.1 217.6,332.1 217.9,332.5 218.1,329.2 218.4,324.0 218.6,333.8 218.9,326.7 219.1,324.9 219.4,323.3 219.6,325.3 219.9,323.5 220.1,325.8 220.4,324.4 220.6,322.0 220.9,328.4 221.1,329.7 221.4,319.7 221.6,330.9 221.9,323.9 222.1,320.9 222.4,325.9 222.6,327.9 222.9,321.8 223.1,323.4 223.4,328.6 223.6,324.5 223.9,327.1 224.1,333.8 224.4,327.6 224.6,336.3 224.9,339.2 225.1,334.3 225.4,339.1 225.6,339.2 225.9,341.3 226.1,342.0 226.4,346.2 226.6,346.5 226.9,345.5 227.1,348.8 227.4,348.8 227.6,349.9 227.9,349.8 228.1,351.7 228.4,351.5 228.6,351.8 228.9,352.9 229.1,353.6 229.4,353.9 229.6,357.0 229.9,357.0 230.1,357.0 230.4,357.0 230.6,357.0 230.9,357.0 231.1,357.0 231.4,357.0 231.6,357.0 231.9,357.0 232.1,357.0 232.4,357.0 232.6,357.0 232.9,357.0 233.1,357.0 233.4,357.0 233.6,357.0 233.9,357.0 234.1,357.0 234.4,357.0 234.6,357.0 234.9,357.0 235.1,357.0 235.4,357.0 235.6,357.0 235.9,357.0 236.1,357.0 236.4,357.0 236.6,357.0 236.9,357.0 237.1,357.0 237.4,357.0 237.6,357.0 237.9,357.0 238.1,357.0 238.4,357.0 238.6,357.0 238.9,357.0 239.1,357.0 239.4,357.0 239.6,357.0 239.9,357.0 240.1,357.0 240.4,357.0 240.6,357.0 240.9,357.0 241.1,357.0 241.4,357.0 241.6,357.0 241.9,357.0 242.1,357.0 242.4,357.0 242.6,357.0 242.9,357.0 243.1,357.0 243.4,357.0 243.6,357.0 243.9,357.0 244.1,357.0 244.4,357.0 244.6,357.0 244.9,357.0 245.1,357.0 245.4,357.0 245.6,357.0 245.9,357.0 246.1,357.0 246.4,357.0 246.6,357.0 246.9,357.0 247.1,357.0 247.4,357.0 247.6,357.0 247.9,357.0 248.1,357.0 248.4,357.0 248.6,357.0 248.9,357.0 249.1,357.0 249.4,357.0 249.6,357.0 249.9,357.0 250.1,357.0 250.4,357.0 250.6,357.0 250.9,357.0 251.1,357.0 251.4,357.0 251.6,357.0 251.9,357.0 252.1,357.0 252.4,357.0 252.6,357.0 252.9,357.0 253.1,357.0 253.4,357.0 253.6,357.0 253.9,357.0 254.1,357.0 254.4,357.0 254.6,357.0 254.9,357.0 255.1,357.0 255.4,357.0 255.6,357.0 255.9,357.0 256.1,357.0 256.4,357.0 256.6,357.0 256.9,357.0 257.1,357.0 257.4,357.0 257.6,357.0 257.9,357.0 258.1,357.0 258.4,357.0 258.6,357.0 258.9,357.0 259.1,357.0 259.4,357.0 259.6,357.0 259.9,357.0 260.1,357.0 260.4,357.0 260.6,357.0 260.9,357.0 261.1,357.0 261.4,357.0 261.6,357.0 261.9,357.0 262.1,357.0 262.4,357.0 262.6,357.0 262.9,357.0 263.1,357.0 263.4,357.0 263.6,357.0 263.9,357.0 264.1,357.0 264.4,357.0 264.6,357.0 264.9,357.0 265.1,357.0 265.4,357.0 265.6,357.0 265.9,357.0 266.1,357.0 266.4,357.0 266.6,357.0 266.9,357.0 267.1,357.0 267.4,357.0 267.6,357.0 267.9,357.0 268.1,357.0 268.4,357.0 268.6,357.0 268.9,357.0 269.1,357.0 269.4,357.0 269.6,357.0 269.9,357.0 270.1,357.0 270.4,357.0 270.6,357.0 270.9,357.0 271.1,357.0 271.4,357.0 271.6,357.0 271.9,357.0 272.1,357.0 272.4,357.0 272.6,357.0 272.9,357.0 273.1,357.0 273.4,357.0 273.6,357.0 273.9,357.0 274.1,357.0 274.4,357.0 274.6,357.0 274.9,357.0 275.1,357.0 275.4,357.0 275.6,357.0 275.9,357.0 276.1,357.0 276.4,357.0 276.6,357.0 276.9,357.0 277.1,357.0 277.4,357.0 277.6,357.0 277.9,357.0 278.1,357.0 278.4,357.0 278.6,357.0 278.9,357.0 279.1,357.0 279.4,357.0 279.6,357.0 279.9,357.0 280.1,357.0 280.4,357.0 280.6,357.0 280.9,357.0 281.1,357.0 281.4,357.0 281.6,357.0 281.9,357.0 282.1,357.0 282.4,357.0 282.6,357.0 282.9,357.0 283.1,357.0 283.4,357.0 283.6,357.0 283.9,357.0 284.1,357.0" fill="none" stroke="#6a4a8a" stroke-width="0.3" opacity="0.44"/>
<polyline points="211.6,342.6 212.0,344.7 212.4,341.6 212.8,340.8 213.2,340.2 213.6,336.2 214.0,335.2 214.4,333.0 214.8,331.2 215.2,333.3 215.6,329.2 216.0,326.2 216.4,331.3 216.8,328.5 217.2,324.2 217.6,328.6 218.0,322.3 218.4,327.7 218.8,324.9 219.2,318.7 219.6,323.8 220.0,318.0 220.4,321.6 220.8,323.2 221.2,316.5 221.6,313.7 222.0,315.4 222.4,316.1 222.8,317.8 223.2,320.2 223.6,318.7 224.0,327.8 224.4,325.4 224.8,328.8 225.2,331.1 225.6,335.8 226.0,340.4 226.4,341.3 226.8,345.0 227.2,345.9 227.6,349.6 228.0,350.0 228.4,351.2 228.8,352.2 229.2,353.1 229.6,354.5 230.0,354.6 230.4,354.7 230.8,354.6 231.2,357.0 231.6,357.0 232.0,357.0 232.4,357.0 232.8,357.0 233.2,357.0 233.6,357.0 234.0,357.0 234.4,357.0 234.8,357.0 235.2,357.0 235.6,357.0 236.0,357.0 236.4,357.0 236.8,357.0 237.2,357.0 237.6,357.0 238.0,357.0 238.4,357.0 238.8,357.0 239.2,357.0 239.6,357.0 240.0,357.0 240.4,357.0 240.8,357.0 241.2,357.0 241.6,357.0 242.0,357.0 242.4,357.0 242.8,357.0 243.2,357.0 243.6,357.0 244.0,357.0 244.4,357.0 244.8,357.0 245.2,357.0 245.6,357.0 246.0,357.0 246.4,357.0 246.8,357.0 247.2,357.0 247.6,357.0 248.0,357.0 248.4,357.0 248.8,357.0 249.2,357.0 249.6,357.0 250.0,357.0 250.4,357.0 250.8,357.0 251.2,357.0 251.6,357.0 252.0,357.0 252.4,357.0 252.8,357.0 253.2,357.0 253.6,357.0 254.0,357.0 254.4,357.0 254.8,357.0 255.2,357.0 255.6,357.0 256.0,357.0 256.4,357.0 256.8,357.0 257.2,357.0 257.6,357.0 258.0,357.0 258.4,357.0 258.8,357.0 259.2,357.0 259.6,357.0 260.0,357.0 260.4,357.0 260.8,357.0 261.2,357.0 261.6,357.0 262.0,357.0 262.4,357.0 262.8,357.0 263.2,357.0 263.6,357.0 264.0,357.0 264.4,357.0 264.8,357.0 265.2,357.0 265.6,357.0 266.0,357.0 266.4,357.0 266.8,357.0 267.2,357.0 267.6,357.0 268.0,357.0 268.4,357.0 268.8,357.0 269.2,357.0 269.6,357.0 270.0,357.0 270.4,357.0 270.8,357.0 271.2,357.0 271.6,357.0 272.0,357.0 272.4,357.0 272.8,357.0 273.2,357.0 273.6,357.0 274.0,357.0 274.4,357.0 274.8,357.0 275.2,357.0 275.6,357.0 276.0,357.0 276.4,357.0 276.8,357.0 277.2,357.0 277.6,357.0 278.0,357.0 278.4,357.0 278.8,357.0 279.2,357.0 279.6,357.0 280.0,357.0 280.4,357.0 280.8,357.0 281.2,357.0 281.6,357.0 282.0,357.0 282.4,357.0 282.8,357.0 283.2,357.0 283.6,357.0 284.0,357.0" fill="none" stroke="#6a4a8a" stroke-width="0.9" stroke-linejoin="round" opacity="0.8"/>
<polyline points="211.6,345.9 212.0,342.6 212.4,338.2 212.8,342.1 213.2,337.3 213.6,340.7 214.0,338.7 214.4,333.4 214.8,336.6 215.2,329.2 215.6,328.1 216.0,330.6 216.4,325.6 216.8,322.8 217.2,322.5 217.6,328.1 218.0,326.4 218.4,323.5 218.8,320.6 219.2,322.5 219.6,323.8 220.0,316.1 220.4,316.7 220.8,317.4 221.2,326.1 221.6,311.6 222.0,317.8 222.4,324.2 222.8,318.5 223.2,314.8 223.6,321.7 224.0,331.6 224.4,329.9 224.8,329.6 225.2,337.5 225.6,337.8 226.0,340.8 226.4,344.3 226.8,342.1 227.2,345.2 227.6,348.2 228.0,350.7 228.4,350.8 228.8,351.3 229.2,354.1 229.6,353.3 230.0,354.3 230.4,355.2 230.8,355.0 231.2,357.0 231.6,357.0 232.0,357.0 232.4,357.0 232.8,357.0 233.2,357.0 233.6,357.0 234.0,357.0 234.4,357.0 234.8,357.0 235.2,357.0 235.6,357.0 236.0,357.0 236.4,357.0 236.8,357.0 237.2,357.0 237.6,357.0 238.0,357.0 238.4,357.0 238.8,357.0 239.2,357.0 239.6,357.0 240.0,357.0 240.4,357.0 240.8,357.0 241.2,357.0 241.6,357.0 242.0,357.0 242.4,357.0 242.8,357.0 243.2,357.0 243.6,357.0 244.0,357.0 244.4,357.0 244.8,357.0 245.2,357.0 245.6,357.0 246.0,357.0 246.4,357.0 246.8,357.0 247.2,357.0 247.6,357.0 248.0,357.0 248.4,357.0 248.8,357.0 249.2,357.0 249.6,357.0 250.0,357.0 250.4,357.0 250.8,357.0 251.2,357.0 251.6,357.0 252.0,357.0 252.4,357.0 252.8,357.0 253.2,357.0 253.6,357.0 254.0,357.0 254.4,357.0 254.8,357.0 255.2,357.0 255.6,357.0 256.0,357.0 256.4,357.0 256.8,357.0 257.2,357.0 257.6,357.0 258.0,357.0 258.4,357.0 258.8,357.0 259.2,357.0 259.6,357.0 260.0,357.0 260.4,357.0 260.8,357.0 261.2,357.0 261.6,357.0 262.0,357.0 262.4,357.0 262.8,357.0 263.2,357.0 263.6,357.0 264.0,357.0 264.4,357.0 264.8,357.0 265.2,357.0 265.6,357.0 266.0,357.0 266.4,357.0 266.8,357.0 267.2,357.0 267.6,357.0 268.0,357.0 268.4,357.0 268.8,357.0 269.2,357.0 269.6,357.0 270.0,357.0 270.4,357.0 270.8,357.0 271.2,357.0 271.6,357.0 272.0,357.0 272.4,357.0 272.8,357.0 273.2,357.0 273.6,357.0 274.0,357.0 274.4,357.0 274.8,357.0 275.2,357.0 275.6,357.0 276.0,357.0 276.4,357.0 276.8,357.0 277.2,357.0 277.6,357.0 278.0,357.0 278.4,357.0 278.8,357.0 279.2,357.0 279.6,357.0 280.0,357.0 280.4,357.0 280.8,357.0 281.2,357.0 281.6,357.0 282.0,357.0 282.4,357.0 282.8,357.0 283.2,357.0 283.6,357.0 284.0,357.0" fill="none" stroke="#6a4a8a" stroke-width="0.6" stroke-linejoin="round" opacity="0.56"/>
<polyline points="211.6,347.5 211.9,347.3 212.1,346.4 212.4,346.2 212.6,347.5 212.9,343.8 213.1,343.1 213.4,342.7 213.6,344.2 213.9,345.1 214.1,345.5 214.4,342.7 214.6,342.7 214.9,340.6 215.1,339.1 215.4,339.8 215.6,340.8 215.9,338.4 216.1,341.1 216.4,340.7 216.6,339.2 216.9,340.4 217.1,335.0 217.4,339.7 217.6,335.4 217.9,340.1 218.1,337.3 218.4,336.3 218.6,335.9 218.9,338.4 219.1,329.9 219.4,333.0 219.6,335.7 219.9,332.1 220.1,335.9 220.4,332.6 220.6,331.6 220.9,335.5 221.1,327.9 221.4,331.3 221.6,328.2 221.9,333.7 222.1,334.4 222.4,332.9 222.6,332.4 222.9,328.4 223.1,331.2 223.4,324.6 223.6,327.6 223.9,333.2 224.1,322.9 224.4,324.2 224.6,322.0 224.9,330.3 225.1,326.3 225.4,330.8 225.6,332.5 225.9,320.7 226.1,330.3 226.4,324.6 226.6,329.7 226.9,329.3 227.1,332.9 227.4,332.0 227.6,328.4 227.9,330.7 228.1,333.2 228.4,334.7 228.6,336.4 228.9,338.7 229.1,339.5 229.4,342.8 229.6,343.3 229.9,343.9 230.1,346.8 230.4,348.1 230.6,348.3 230.9,350.5 231.1,352.0 231.4,352.0 231.6,352.8 231.9,353.4 232.1,353.7 232.4,357.0 232.6,357.0 232.9,357.0 233.1,357.0 233.4,357.0 233.6,357.0 233.9,357.0 234.1,357.0 234.4,357.0 234.6,357.0 234.9,357.0 235.1,357.0 235.4,357.0 235.6,357.0 235.9,357.0 236.1,357.0 236.4,357.0 236.6,357.0 236.9,357.0 237.1,357.0 237.4,357.0 237.6,357.0 237.9,357.0 238.1,357.0 238.4,357.0 238.6,357.0 238.9,357.0 239.1,357.0 239.4,357.0 239.6,357.0 239.9,357.0 240.1,357.0 240.4,357.0 240.6,357.0 240.9,357.0 241.1,357.0 241.4,357.0 241.6,357.0 241.9,357.0 242.1,357.0 242.4,357.0 242.6,357.0 242.9,357.0 243.1,357.0 243.4,357.0 243.6,357.0 243.9,357.0 244.1,357.0 244.4,357.0 244.6,357.0 244.9,357.0 245.1,357.0 245.4,357.0 245.6,357.0 245.9,357.0 246.1,357.0 246.4,357.0 246.6,357.0 246.9,357.0 247.1,357.0 247.4,357.0 247.6,357.0 247.9,357.0 248.1,357.0 248.4,357.0 248.6,357.0 248.9,357.0 249.1,357.0 249.4,357.0 249.6,357.0 249.9,357.0 250.1,357.0 250.4,357.0 250.6,357.0 250.9,357.0 251.1,357.0 251.4,357.0 251.6,357.0 251.9,357.0 252.1,357.0 252.4,357.0 252.6,357.0 252.9,357.0 253.1,357.0 253.4,357.0 253.6,357.0 253.9,357.0 254.1,357.0 254.4,357.0 254.6,357.0 254.9,357.0 255.1,357.0 255.4,357.0 255.6,357.0 255.9,357.0 256.1,357.0 256.4,357.0 256.6,357.0 256.9,357.0 257.1,357.0 257.4,357.0 257.6,357.0 257.9,357.0 258.1,357.0 258.4,357.0 258.6,357.0 258.9,357.0 259.1,357.0 259.4,357.0 259.6,357.0 259.9,357.0 260.1,357.0 260.4,357.0 260.6,357.0 260.9,357.0 261.1,357.0 261.4,357.0 261.6,357.0 261.9,357.0 262.1,357.0 262.4,357.0 262.6,357.0 262.9,357.0 263.1,357.0 263.4,357.0 263.6,357.0 263.9,357.0 264.1,357.0 264.4,357.0 264.6,357.0 264.9,357.0 265.1,357.0 265.4,357.0 265.6,357.0 265.9,357.0 266.1,357.0 266.4,357.0 266.6,357.0 266.9,357.0 267.1,357.0 267.4,357.0 267.6,357.0 267.9,357.0 268.1,357.0 268.4,357.0 268.6,357.0 268.9,357.0 269.1,357.0 269.4,357.0 269.6,357.0 269.9,357.0 270.1,357.0 270.4,357.0 270.6,357.0 270.9,357.0 271.1,357.0 271.4,357.0 271.6,357.0 271.9,357.0 272.1,357.0 272.4,357.0 272.6,357.0 272.9,357.0 273.1,357.0 273.4,357.0 273.6,357.0 273.9,357.0 274.1,357.0 274.4,357.0 274.6,357.0 274.9,357.0 275.1,357.0 275.4,357.0 275.6,357.0 275.9,357.0 276.1,357.0 276.4,357.0 276.6,357.0 276.9,357.0 277.1,357.0 277.4,357.0 277.6,357.0 277.9,357.0 278.1,357.0 278.4,357.0 278.6,357.0 278.9,357.0 279.1,357.0 279.4,357.0 279.6,357.0 279.9,357.0 280.1,357.0 280.4,357.0 280.6,357.0 280.9,357.0 281.1,357.0 281.4,357.0 281.6,357.0 281.9,357.0 282.1,357.0 282.4,357.0 282.6,357.0 282.9,357.0 283.1,357.0 283.4,357.0 283.6,357.0 283.9,357.0 284.1,357.0" fill="none" stroke="#7aaa50" stroke-width="0.3" opacity="0.44"/>
<polyline points="211.6,346.8 212.0,346.5 212.4,345.0 212.8,342.7 213.2,343.3 213.6,340.4 214.0,341.2 214.4,338.7 214.8,341.8 215.2,341.1 215.6,337.9 216.0,337.1 216.4,333.5 216.8,334.9 217.2,332.3 217.6,333.0 218.0,329.5 218.4,331.2 218.8,328.5 219.2,331.1 219.6,325.0 220.0,328.9 220.4,326.3 220.8,326.4 221.2,321.5 221.6,322.3 222.0,326.2 222.4,319.7 222.8,327.4 223.2,321.6 223.6,322.4 224.0,324.6 224.4,322.3 224.8,319.9 225.2,318.0 225.6,321.8 226.0,316.8 226.4,320.9 226.8,318.5 227.2,319.9 227.6,324.5 228.0,331.8 228.4,330.2 228.8,334.5 229.2,340.8 229.6,341.4 230.0,343.4 230.4,347.9 230.8,349.1 231.2,351.3 231.6,351.6 232.0,353.1 232.4,354.6 232.8,354.9 233.2,354.7 233.6,357.0 234.0,357.0 234.4,357.0 234.8,357.0 235.2,357.0 235.6,357.0 236.0,357.0 236.4,357.0 236.8,357.0 237.2,357.0 237.6,357.0 238.0,357.0 238.4,357.0 238.8,357.0 239.2,357.0 239.6,357.0 240.0,357.0 240.4,357.0 240.8,357.0 241.2,357.0 241.6,357.0 242.0,357.0 242.4,357.0 242.8,357.0 243.2,357.0 243.6,357.0 244.0,357.0 244.4,357.0 244.8,357.0 245.2,357.0 245.6,357.0 246.0,357.0 246.4,357.0 246.8,357.0 247.2,357.0 247.6,357.0 248.0,357.0 248.4,357.0 248.8,357.0 249.2,357.0 249.6,357.0 250.0,357.0 250.4,357.0 250.8,357.0 251.2,357.0 251.6,357.0 252.0,357.0 252.4,357.0 252.8,357.0 253.2,357.0 253.6,357.0 254.0,357.0 254.4,357.0 254.8,357.0 255.2,357.0 255.6,357.0 256.0,357.0 256.4,357.0 256.8,357.0 257.2,357.0 257.6,357.0 258.0,357.0 258.4,357.0 258.8,357.0 259.2,357.0 259.6,357.0 260.0,357.0 260.4,357.0 260.8,357.0 261.2,357.0 261.6,357.0 262.0,357.0 262.4,357.0 262.8,357.0 263.2,357.0 263.6,357.0 264.0,357.0 264.4,357.0 264.8,357.0 265.2,357.0 265.6,357.0 266.0,357.0 266.4,357.0 266.8,357.0 267.2,357.0 267.6,357.0 268.0,357.0 268.4,357.0 268.8,357.0 269.2,357.0 269.6,357.0 270.0,357.0 270.4,357.0 270.8,357.0 271.2,357.0 271.6,357.0 272.0,357.0 272.4,357.0 272.8,357.0 273.2,357.0 273.6,357.0 274.0,357.0 274.4,357.0 274.8,357.0 275.2,357.0 275.6,357.0 276.0,357.0 276.4,357.0 276.8,357.0 277.2,357.0 277.6,357.0 278.0,357.0 278.4,357.0 278.8,357.0 279.2,357.0 279.6,357.0 280.0,357.0 280.4,357.0 280.8,357.0 281.2,357.0 281.6,357.0 282.0,357.0 282.4,357.0 282.8,357.0 283.2,357.0 283.6,357.0 284.0,357.0" fill="none" stroke="#7aaa50" stroke-width="0.9" stroke-linejoin="round" opacity="0.8"/>
<polyline points="211.6,346.5 212.0,342.9 212.4,344.2 212.8,344.2 213.2,343.0 213.6,345.6 214.0,340.6 214.4,339.8 214.8,339.1 215.2,338.5 215.6,339.8 216.0,336.7 216.4,333.8 216.8,332.8 217.2,331.0 217.6,334.2 218.0,328.3 218.4,333.9 218.8,332.6 219.2,325.7 219.6,326.1 220.0,327.5 220.4,326.6 220.8,330.2 221.2,322.4 221.6,330.3 222.0,327.8 222.4,321.0 222.8,327.2 223.2,327.6 223.6,322.6 224.0,320.2 224.4,315.5 224.8,321.9 225.2,326.3 225.6,319.1 226.0,322.4 226.4,315.2 226.8,325.4 227.2,324.9 227.6,324.0 228.0,329.6 228.4,332.5 228.8,336.2 229.2,338.7 229.6,343.7 230.0,344.4 230.4,346.7 230.8,350.9 231.2,352.6 231.6,351.7 232.0,353.5 232.4,353.6 232.8,354.8 233.2,355.2 233.6,357.0 234.0,357.0 234.4,357.0 234.8,357.0 235.2,357.0 235.6,357.0 236.0,357.0 236.4,357.0 236.8,357.0 237.2,357.0 237.6,357.0 238.0,357.0 238.4,357.0 238.8,357.0 239.2,357.0 239.6,357.0 240.0,357.0 240.4,357.0 240.8,357.0 241.2,357.0 241.6,357.0 242.0,357.0 242.4,357.0 242.8,357.0 243.2,357.0 243.6,357.0 244.0,357.0 244.4,357.0 244.8,357.0 245.2,357.0 245.6,357.0 246.0,357.0 246.4,357.0 246.8,357.0 247.2,357.0 247.6,357.0 248.0,357.0 248.4,357.0 248.8,357.0 249.2,357.0 249.6,357.0 250.0,357.0 250.4,357.0 250.8,357.0 251.2,357.0 251.6,357.0 252.0,357.0 252.4,357.0 252.8,357.0 253.2,357.0 253.6,357.0 254.0,357.0 254.4,357.0 254.8,357.0 255.2,357.0 255.6,357.0 256.0,357.0 256.4,357.0 256.8,357.0 257.2,357.0 257.6,357.0 258.0,357.0 258.4,357.0 258.8,357.0 259.2,357.0 259.6,357.0 260.0,357.0 260.4,357.0 260.8,357.0 261.2,357.0 261.6,357.0 262.0,357.0 262.4,357.0 262.8,357.0 263.2,357.0 263.6,357.0 264.0,357.0 264.4,357.0 264.8,357.0 265.2,357.0 265.6,357.0 266.0,357.0 266.4,357.0 266.8,357.0 267.2,357.0 267.6,357.0 268.0,357.0 268.4,357.0 268.8,357.0 269.2,357.0 269.6,357.0 270.0,357.0 270.4,357.0 270.8,357.0 271.2,357.0 271.6,357.0 272.0,357.0 272.4,357.0 272.8,357.0 273.2,357.0 273.6,357.0 274.0,357.0 274.4,357.0 274.8,357.0 275.2,357.0 275.6,357.0 276.0,357.0 276.4,357.0 276.8,357.0 277.2,357.0 277.6,357.0 278.0,357.0 278.4,357.0 278.8,357.0 279.2,357.0 279.6,357.0 280.0,357.0 280.4,357.0 280.8,357.0 281.2,357.0 281.6,357.0 282.0,357.0 282.4,357.0 282.8,357.0 283.2,357.0 283.6,357.0 284.0,357.0" fill="none" stroke="#7aaa50" stroke-width="0.6" stroke-linejoin="round" opacity="0.56"/>
<polyline points="211.6,347.6 211.9,349.1 212.1,347.5 212.4,347.0 212.6,348.3 212.9,344.3 213.1,344.0 213.4,344.8 213.6,343.5 213.9,344.0 214.1,346.1 214.4,345.8 214.6,341.6 214.9,344.9 215.1,345.1 215.4,339.9 215.6,342.3 215.9,344.2 216.1,341.8 216.4,343.0 216.6,338.6 216.9,342.7 217.1,336.2 217.4,336.0 217.6,335.5 217.9,335.3 218.1,338.1 218.4,338.4 218.6,337.9 218.9,338.1 219.1,335.4 219.4,339.4 219.6,333.6 219.9,333.0 220.1,334.9 220.4,330.9 220.6,335.9 220.9,335.9 221.1,328.3 221.4,330.6 221.6,333.6 221.9,327.4 222.1,329.4 222.4,328.0 222.6,331.8 222.9,335.9 223.1,334.1 223.4,325.5 223.6,327.1 223.9,332.4 224.1,328.3 224.4,334.2 224.6,331.8 224.9,327.6 225.1,325.9 225.4,332.5 225.6,325.7 225.9,334.7 226.1,327.5 226.4,326.4 226.6,336.0 226.9,329.5 227.1,330.5 227.4,338.0 227.6,340.2 227.9,337.5 228.1,338.4 228.4,339.1 228.6,341.5 228.9,341.4 229.1,344.0 229.4,348.0 229.6,347.8 229.9,347.7 230.1,349.0 230.4,351.6 230.6,351.1 230.9,351.8 231.1,353.1 231.4,352.8 231.6,353.8 231.9,357.0 232.1,357.0 232.4,357.0 232.6,357.0 232.9,357.0 233.1,357.0 233.4,357.0 233.6,357.0 233.9,357.0 234.1,357.0 234.4,357.0 234.6,357.0 234.9,357.0 235.1,357.0 235.4,357.0 235.6,357.0 235.9,357.0 236.1,357.0 236.4,357.0 236.6,357.0 236.9,357.0 237.1,357.0 237.4,357.0 237.6,357.0 237.9,357.0 238.1,357.0 238.4,357.0 238.6,357.0 238.9,357.0 239.1,357.0 239.4,357.0 239.6,357.0 239.9,357.0 240.1,357.0 240.4,357.0 240.6,357.0 240.9,357.0 241.1,357.0 241.4,357.0 241.6,357.0 241.9,357.0 242.1,357.0 242.4,357.0 242.6,357.0 242.9,357.0 243.1,357.0 243.4,357.0 243.6,357.0 243.9,357.0 244.1,357.0 244.4,357.0 244.6,357.0 244.9,357.0 245.1,357.0 245.4,357.0 245.6,357.0 245.9,357.0 246.1,357.0 246.4,357.0 246.6,357.0 246.9,357.0 247.1,357.0 247.4,357.0 247.6,357.0 247.9,357.0 248.1,357.0 248.4,357.0 248.6,357.0 248.9,357.0 249.1,357.0 249.4,357.0 249.6,357.0 249.9,357.0 250.1,357.0 250.4,357.0 250.6,357.0 250.9,357.0 251.1,357.0 251.4,357.0 251.6,357.0 251.9,357.0 252.1,357.0 252.4,357.0 252.6,357.0 252.9,357.0 253.1,357.0 253.4,357.0 253.6,357.0 253.9,357.0 254.1,357.0 254.4,357.0 254.6,357.0 254.9,357.0 255.1,357.0 255.4,357.0 255.6,357.0 255.9,357.0 256.1,357.0 256.4,357.0 256.6,357.0 256.9,357.0 257.1,357.0 257.4,357.0 257.6,357.0 257.9,357.0 258.1,357.0 258.4,357.0 258.6,357.0 258.9,357.0 259.1,357.0 259.4,357.0 259.6,357.0 259.9,357.0 260.1,357.0 260.4,357.0 260.6,357.0 260.9,357.0 261.1,357.0 261.4,357.0 261.6,357.0 261.9,357.0 262.1,357.0 262.4,357.0 262.6,357.0 262.9,357.0 263.1,357.0 263.4,357.0 263.6,357.0 263.9,357.0 264.1,357.0 264.4,357.0 264.6,357.0 264.9,357.0 265.1,357.0 265.4,357.0 265.6,357.0 265.9,357.0 266.1,357.0 266.4,357.0 266.6,357.0 266.9,357.0 267.1,357.0 267.4,357.0 267.6,357.0 267.9,357.0 268.1,357.0 268.4,357.0 268.6,357.0 268.9,357.0 269.1,357.0 269.4,357.0 269.6,357.0 269.9,357.0 270.1,357.0 270.4,357.0 270.6,357.0 270.9,357.0 271.1,357.0 271.4,357.0 271.6,357.0 271.9,357.0 272.1,357.0 272.4,357.0 272.6,357.0 272.9,357.0 273.1,357.0 273.4,357.0 273.6,357.0 273.9,357.0 274.1,357.0 274.4,357.0 274.6,357.0 274.9,357.0 275.1,357.0 275.4,357.0 275.6,357.0 275.9,357.0 276.1,357.0 276.4,357.0 276.6,357.0 276.9,357.0 277.1,357.0 277.4,357.0 277.6,357.0 277.9,357.0 278.1,357.0 278.4,357.0 278.6,357.0 278.9,357.0 279.1,357.0 279.4,357.0 279.6,357.0 279.9,357.0 280.1,357.0 280.4,357.0 280.6,357.0 280.9,357.0 281.1,357.0 281.4,357.0 281.6,357.0 281.9,357.0 282.1,357.0 282.4,357.0 282.6,357.0 282.9,357.0 283.1,357.0 283.4,357.0 283.6,357.0 283.9,357.0 284.1,357.0" fill="none" stroke="#c8cc50" stroke-width="0.3" opacity="0.44"/>
<polyline points="211.6,346.6 212.0,347.2 212.4,345.5 212.8,344.6 213.2,342.6 213.6,343.2 214.0,341.8 214.4,342.7 214.8,341.3 215.2,339.7 215.6,337.2 216.0,339.0 216.4,339.6 216.8,338.7 217.2,334.1 217.6,332.9 218.0,332.1 218.4,334.7 218.8,333.8 219.2,333.1 219.6,331.3 220.0,328.1 220.4,331.5 220.8,326.1 221.2,331.2 221.6,326.2 222.0,329.6 222.4,328.3 222.8,325.7 223.2,330.0 223.6,322.3 224.0,328.7 224.4,328.6 224.8,322.3 225.2,325.5 225.6,326.5 226.0,325.5 226.4,325.6 226.8,324.2 227.2,332.5 227.6,334.6 228.0,336.7 228.4,336.8 228.8,341.1 229.2,345.2 229.6,345.3 230.0,349.1 230.4,350.0 230.8,351.8 231.2,353.0 231.6,353.4 232.0,354.0 232.4,355.2 232.8,355.2 233.2,357.0 233.6,357.0 234.0,357.0 234.4,357.0 234.8,357.0 235.2,357.0 235.6,357.0 236.0,357.0 236.4,357.0 236.8,357.0 237.2,357.0 237.6,357.0 238.0,357.0 238.4,357.0 238.8,357.0 239.2,357.0 239.6,357.0 240.0,357.0 240.4,357.0 240.8,357.0 241.2,357.0 241.6,357.0 242.0,357.0 242.4,357.0 242.8,357.0 243.2,357.0 243.6,357.0 244.0,357.0 244.4,357.0 244.8,357.0 245.2,357.0 245.6,357.0 246.0,357.0 246.4,357.0 246.8,357.0 247.2,357.0 247.6,357.0 248.0,357.0 248.4,357.0 248.8,357.0 249.2,357.0 249.6,357.0 250.0,357.0 250.4,357.0 250.8,357.0 251.2,357.0 251.6,357.0 252.0,357.0 252.4,357.0 252.8,357.0 253.2,357.0 253.6,357.0 254.0,357.0 254.4,357.0 254.8,357.0 255.2,357.0 255.6,357.0 256.0,357.0 256.4,357.0 256.8,357.0 257.2,357.0 257.6,357.0 258.0,357.0 258.4,357.0 258.8,357.0 259.2,357.0 259.6,357.0 260.0,357.0 260.4,357.0 260.8,357.0 261.2,357.0 261.6,357.0 262.0,357.0 262.4,357.0 262.8,357.0 263.2,357.0 263.6,357.0 264.0,357.0 264.4,357.0 264.8,357.0 265.2,357.0 265.6,357.0 266.0,357.0 266.4,357.0 266.8,357.0 267.2,357.0 267.6,357.0 268.0,357.0 268.4,357.0 268.8,357.0 269.2,357.0 269.6,357.0 270.0,357.0 270.4,357.0 270.8,357.0 271.2,357.0 271.6,357.0 272.0,357.0 272.4,357.0 272.8,357.0 273.2,357.0 273.6,357.0 274.0,357.0 274.4,357.0 274.8,357.0 275.2,357.0 275.6,357.0 276.0,357.0 276.4,357.0 276.8,357.0 277.2,357.0 277.6,357.0 278.0,357.0 278.4,357.0 278.8,357.0 279.2,357.0 279.6,357.0 280.0,357.0 280.4,357.0 280.8,357.0 281.2,357.0 281.6,357.0 282.0,357.0 282.4,357.0 282.8,357.0 283.2,357.0 283.6,357.0 284.0,357.0" fill="none" stroke="#c8cc50" stroke-width="0.9" stroke-linejoin="round" opacity="0.8"/>
<polyline points="211.6,345.9 212.0,345.7 212.4,342.6 212.8,343.7 213.2,342.3 213.6,343.7 214.0,341.3 214.4,343.9 214.8,341.3 215.2,339.3 215.6,340.1 216.0,338.8 216.4,337.4 216.8,335.7 217.2,332.7 217.6,331.9 218.0,330.8 218.4,329.7 218.8,330.1 219.2,336.6 219.6,331.2 220.0,333.1 220.4,333.2 220.8,324.5 221.2,324.0 221.6,322.1 222.0,331.7 222.4,329.0 222.8,320.1 223.2,329.0 223.6,325.7 224.0,321.2 224.4,328.9 224.8,329.6 225.2,323.7 225.6,321.4 226.0,324.1 226.4,326.1 226.8,325.9 227.2,334.1 227.6,332.4 228.0,333.6 228.4,338.6 228.8,339.0 229.2,342.3 229.6,347.5 230.0,349.8 230.4,350.1 230.8,351.4 231.2,352.4 231.6,353.6 232.0,353.9 232.4,354.8 232.8,355.2 233.2,357.0 233.6,357.0 234.0,357.0 234.4,357.0 234.8,357.0 235.2,357.0 235.6,357.0 236.0,357.0 236.4,357.0 236.8,357.0 237.2,357.0 237.6,357.0 238.0,357.0 238.4,357.0 238.8,357.0 239.2,357.0 239.6,357.0 240.0,357.0 240.4,357.0 240.8,357.0 241.2,357.0 241.6,357.0 242.0,357.0 242.4,357.0 242.8,357.0 243.2,357.0 243.6,357.0 244.0,357.0 244.4,357.0 244.8,357.0 245.2,357.0 245.6,357.0 246.0,357.0 246.4,357.0 246.8,357.0 247.2,357.0 247.6,357.0 248.0,357.0 248.4,357.0 248.8,357.0 249.2,357.0 249.6,357.0 250.0,357.0 250.4,357.0 250.8,357.0 251.2,357.0 251.6,357.0 252.0,357.0 252.4,357.0 252.8,357.0 253.2,357.0 253.6,357.0 254.0,357.0 254.4,357.0 254.8,357.0 255.2,357.0 255.6,357.0 256.0,357.0 256.4,357.0 256.8,357.0 257.2,357.0 257.6,357.0 258.0,357.0 258.4,357.0 258.8,357.0 259.2,357.0 259.6,357.0 260.0,357.0 260.4,357.0 260.8,357.0 261.2,357.0 261.6,357.0 262.0,357.0 262.4,357.0 262.8,357.0 263.2,357.0 263.6,357.0 264.0,357.0 264.4,357.0 264.8,357.0 265.2,357.0 265.6,357.0 266.0,357.0 266.4,357.0 266.8,357.0 267.2,357.0 267.6,357.0 268.0,357.0 268.4,357.0 268.8,357.0 269.2,357.0 269.6,357.0 270.0,357.0 270.4,357.0 270.8,357.0 271.2,357.0 271.6,357.0 272.0,357.0 272.4,357.0 272.8,357.0 273.2,357.0 273.6,357.0 274.0,357.0 274.4,357.0 274.8,357.0 275.2,357.0 275.6,357.0 276.0,357.0 276.4,357.0 276.8,357.0 277.2,357.0 277.6,357.0 278.0,357.0 278.4,357.0 278.8,357.0 279.2,357.0 279.6,357.0 280.0,357.0 280.4,357.0 280.8,357.0 281.2,357.0 281.6,357.0 282.0,357.0 282.4,357.0 282.8,357.0 283.2,357.0 283.6,357.0 284.0,357.0" fill="none" stroke="#c8cc50" stroke-width="0.6" stroke-linejoin="round" opacity="0.56"/>
</g>
<line x1="212.5" y1="366.4" x2="274" y2="366.4" stroke="#111" stroke-width="1"/>
<polygon points="277,366.4 273,364.7 273,368.09999999999997" fill="#111"/>
<text x="243.30" y="376.50" font-size="7.2" text-anchor="middle" font-weight="normal" fill="#222" >CD138</text>
<line x1="291.9" y1="275.4" x2="303.7" y2="275.4" stroke="#9a9a9a" stroke-width="1.3"/>
<text x="309.70" y="278.00" font-size="7.2" text-anchor="start" font-weight="bold" fill="#a8a8a8" >Isotype</text>
<line x1="291.9" y1="284.8" x2="303.7" y2="284.8" stroke="#5a1a6e" stroke-width="1.3"/>
<text x="309.70" y="287.40" font-size="7.2" text-anchor="start" font-weight="bold" fill="#5a1a6e" >shControl</text>
<line x1="291.9" y1="293.4" x2="303.7" y2="293.4" stroke="#4a8a28" stroke-width="1.3"/>
<text x="309.70" y="296.00" font-size="7.2" text-anchor="start" font-weight="bold" fill="#4a8a28" >shSOX11.1</text>
<line x1="291.9" y1="302.3" x2="303.7" y2="302.3" stroke="#c8cc50" stroke-width="1.3"/>
<text x="309.70" y="304.90" font-size="7.2" text-anchor="start" font-weight="bold" fill="#c6cc6a" >shSOX11.3</text>
<text x="369.70" y="284.90" font-size="11" text-anchor="start" font-weight="bold" fill="#111" >D</text>
<text x="405.8" y="307.6" font-size="7.0" fill="#1a1a1a" stroke="#1a1a1a" stroke-width="0.12" letter-spacing="-0.25" transform="rotate(-57 405.8 307.6)">shControl</text>
<text x="425.8" y="307.4" font-size="7.0" fill="#1a1a1a" stroke="#1a1a1a" stroke-width="0.12" letter-spacing="-0.3" transform="rotate(-57 425.8 307.4)">shSOX11.1</text>
<text x="445.6" y="307.4" font-size="7.0" fill="#1a1a1a" stroke="#1a1a1a" stroke-width="0.12" letter-spacing="-0.3" transform="rotate(-57 445.6 307.4)">shSOX11.3</text>
<defs><filter id="gb" x="-30%" y="-150%" width="160%" height="400%"><feGaussianBlur stdDeviation="0.85"/></filter><filter id="gb2" x="-30%" y="-150%" width="160%" height="400%"><feGaussianBlur stdDeviation="0.55"/></filter></defs>
<rect x="394.3" y="310.3" width="57.5" height="17.5" fill="#1c1c1c"/>
<path d="M397.50,315.10 L404.65,315.10 L411.80,315.10 L411.80,317.50 L404.65,317.50 L397.50,317.50 Z" fill="#7a7a7a" opacity="1" filter="url(#gb)"/>
<path d="M397.50,318.50 L404.65,318.50 L411.80,318.50 L411.80,321.30 L404.65,321.30 L397.50,321.30 Z" fill="#fff" opacity="1" filter="url(#gb2)"/>
<path d="M397.50,322.10 L404.65,322.10 L411.80,322.10 L411.80,324.10 L404.65,324.10 L397.50,324.10 Z" fill="#a8a8a8" opacity="1" filter="url(#gb)"/>
<path d="M416.30,315.80 L423.45,315.80 L430.60,315.80 L430.60,318.40 L423.45,318.40 L416.30,318.40 Z" fill="#9a9a9a" opacity="1" filter="url(#gb)"/>
<path d="M416.30,319.00 L423.45,319.00 L430.60,319.00 L430.60,322.00 L423.45,322.00 L416.30,322.00 Z" fill="#fff" opacity="1" filter="url(#gb2)"/>
<path d="M416.30,322.60 L423.45,322.60 L430.60,322.60 L430.60,324.60 L423.45,324.60 L416.30,324.60 Z" fill="#a0a0a0" opacity="1" filter="url(#gb)"/>
<path d="M435.30,315.20 L442.40,314.00 L449.50,315.20 L449.50,317.80 L442.40,316.60 L435.30,317.80 Z" fill="#b0b0b0" opacity="1" filter="url(#gb)"/>
<path d="M435.30,318.40 L442.40,317.20 L449.50,318.40 L449.50,321.40 L442.40,320.20 L435.30,321.40 Z" fill="#fff" opacity="1" filter="url(#gb2)"/>
<path d="M435.30,322.20 L442.40,321.40 L449.50,322.20 L449.50,324.40 L442.40,323.60 L435.30,324.40 Z" fill="#b4b4b4" opacity="1" filter="url(#gb)"/>
<rect x="394.3" y="332.3" width="57.5" height="13.5" fill="#1c1c1c"/>
<rect x="396.2" y="336.60" width="15.20" height="5.4" rx="2.6" fill="#f6f6f6" filter="url(#gb2)"/>
<rect x="414.3" y="337.20" width="16.30" height="5.4" rx="2.6" fill="#f6f6f6" filter="url(#gb2)"/>
<rect x="433.5" y="339.00" width="16.00" height="5.4" rx="2.6" fill="#f6f6f6" filter="url(#gb2)"/>
<text x="380.30" y="321.60" font-size="5.8" text-anchor="middle" font-weight="normal" fill="#222" >XBP-1</text>
<text x="380.30" y="340.80" font-size="5.8" text-anchor="middle" font-weight="normal" fill="#222" font-style="italic" >GAPDH</text>
<text x="467.70" y="318.30" font-size="5.6" text-anchor="start" font-weight="normal" fill="#222" >XBP-1_u</text>
<text x="492.30" y="318.30" font-size="5.8" text-anchor="start" font-weight="normal" fill="#222" >(424bp)</text>
<text x="468.90" y="326.70" font-size="5.6" text-anchor="start" font-weight="normal" fill="#222" >XBP-1_s</text>
<text x="492.80" y="326.70" font-size="5.7" text-anchor="start" font-weight="normal" fill="#222" >(398bp)</text>
<text x="453.50" y="339.80" font-size="5.8" text-anchor="start" font-weight="normal" fill="#222" >(100bp)</text>
<path d="M453.8,319.7 C459,319.5 461,316 466,315.5" fill="none" stroke="#333" stroke-width="0.5"/>
<path d="M453.8,322.6 C459,322.8 461,324.5 466,324.9" fill="none" stroke="#333" stroke-width="0.5"/>
</svg></body></html>
